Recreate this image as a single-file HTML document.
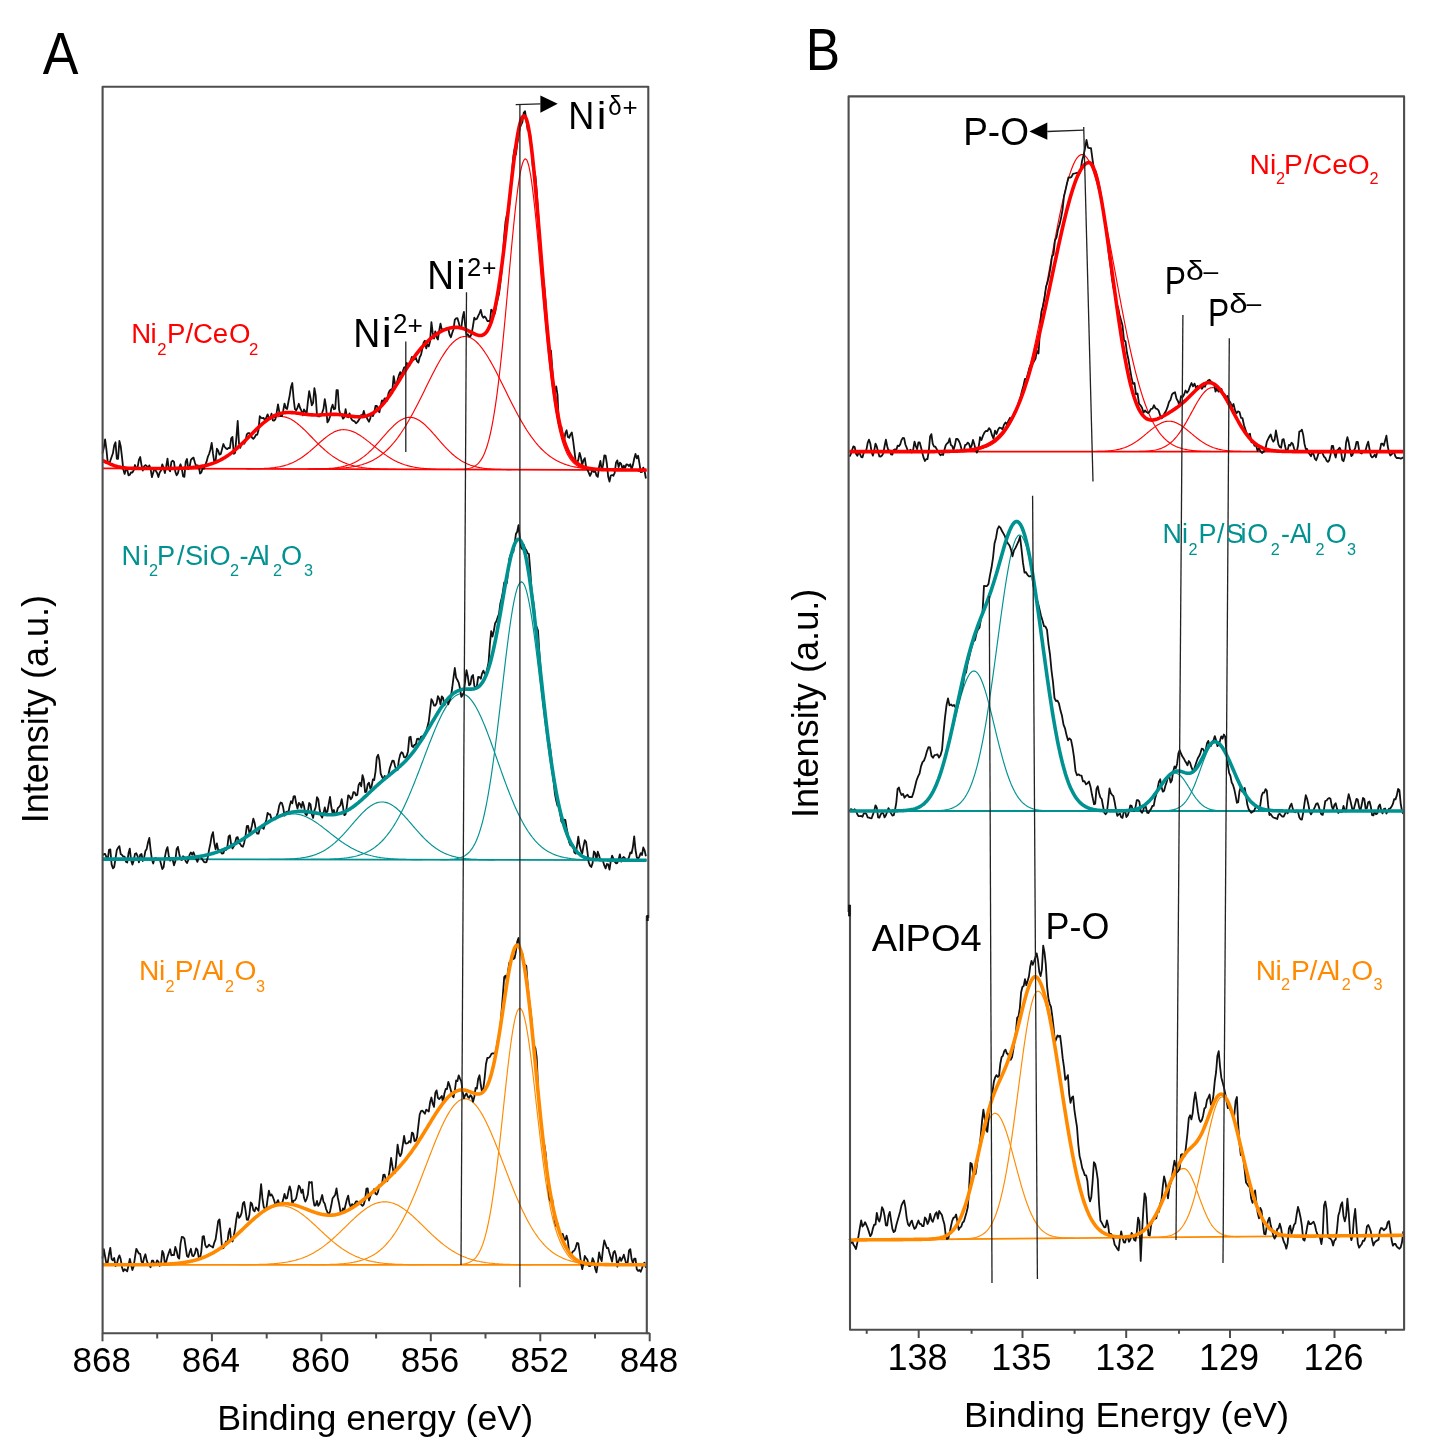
<!DOCTYPE html>
<html><head><meta charset="utf-8"><style>
html,body{margin:0;padding:0;background:#fff;width:1430px;height:1452px;overflow:hidden}
svg text{font-family:"Liberation Sans",sans-serif}
</style></head><body>
<svg width="1430" height="1452" viewBox="0 0 1430 1452" style="position:absolute;left:0;top:0;filter:blur(0.6px)">
<rect width="1430" height="1452" fill="#fff"/>
<polyline points="102.5,468.4 646.7,470.1" fill="none" stroke="#ff0000" stroke-width="1.8" stroke-linejoin="round" />
<polyline points="162.5,468.5 163.5,468.5 164.5,468.5 165.5,468.5 166.5,468.5 167.5,468.5 168.5,468.5 169.5,468.5 170.5,468.5 171.5,468.5 172.5,468.5 173.5,468.4 174.5,468.4 175.5,468.4 176.5,468.4 177.5,468.4 178.5,468.3 179.5,468.3 180.5,468.3 181.5,468.2 182.5,468.2 183.5,468.2 184.5,468.1 185.5,468.1 186.5,468.0 187.5,467.9 188.5,467.9 189.5,467.8 190.5,467.7 191.5,467.6 192.5,467.5 193.5,467.4 194.5,467.3 195.5,467.2 196.5,467.1 197.5,467.0 198.5,466.8 199.5,466.7 200.5,466.5 201.5,466.3 202.5,466.1 203.5,465.9 204.5,465.7 205.5,465.5 206.5,465.2 207.5,465.0 208.5,464.7 209.5,464.4 210.5,464.1 211.5,463.8 212.5,463.4 213.5,463.1 214.5,462.7 215.5,462.3 216.5,461.9 217.5,461.4 218.5,461.0 219.5,460.5 220.5,460.0 221.5,459.4 222.5,458.9 223.5,458.3 224.5,457.7 225.5,457.1 226.5,456.4 227.5,455.8 228.5,455.1 229.5,454.4 230.5,453.6 231.5,452.9 232.5,452.1 233.5,451.3 234.5,450.5 235.5,449.6 236.5,448.7 237.5,447.9 238.5,447.0 239.5,446.1 240.5,445.1 241.5,444.2 242.5,443.2 243.5,442.3 244.5,441.3 245.5,440.3 246.5,439.3 247.5,438.3 248.5,437.3 249.5,436.3 250.5,435.3 251.5,434.3 252.5,433.3 253.5,432.4 254.5,431.4 255.5,430.4 256.5,429.5 257.5,428.6 258.5,427.6 259.5,426.8 260.5,425.9 261.5,425.1 262.5,424.2 263.5,423.5 264.5,422.7 265.5,422.0 266.5,421.3 267.5,420.7 268.5,420.1 269.5,419.5 270.5,419.0 271.5,418.5 272.5,418.1 273.5,417.7 274.5,417.4 275.5,417.1 276.5,416.9 277.5,416.7 278.5,416.6 279.5,416.5 280.5,416.5 281.5,416.5 282.5,416.6 283.5,416.7 284.5,416.9 285.5,417.1 286.5,417.4 287.5,417.7 288.5,418.1 289.5,418.6 290.5,419.1 291.5,419.6 292.5,420.2 293.5,420.8 294.5,421.5 295.5,422.2 296.5,422.9 297.5,423.7 298.5,424.5 299.5,425.4 300.5,426.2 301.5,427.1 302.5,428.0 303.5,429.0 304.5,429.9 305.5,430.9 306.5,431.9 307.5,432.9 308.5,433.9 309.5,435.0 310.5,436.0 311.5,437.0 312.5,438.0 313.5,439.1 314.5,440.1 315.5,441.1 316.5,442.1 317.5,443.1 318.5,444.1 319.5,445.1 320.5,446.0 321.5,447.0 322.5,447.9 323.5,448.8 324.5,449.7 325.5,450.6 326.5,451.4 327.5,452.3 328.5,453.1 329.5,453.9 330.5,454.6 331.5,455.4 332.5,456.1 333.5,456.8 334.5,457.4 335.5,458.1 336.5,458.7 337.5,459.3 338.5,459.9 339.5,460.4 340.5,460.9 341.5,461.4 342.5,461.9 343.5,462.4 344.5,462.8 345.5,463.2 346.5,463.6 347.5,464.0 348.5,464.3 349.5,464.7 350.5,465.0 351.5,465.3 352.5,465.5 353.5,465.8 354.5,466.1 355.5,466.3 356.5,466.5 357.5,466.7 358.5,466.9 359.5,467.1 360.5,467.3 361.5,467.4 362.5,467.6 363.5,467.7 364.5,467.8 365.5,468.0 366.5,468.1 367.5,468.2 368.5,468.3 369.5,468.3 370.5,468.4 371.5,468.5 372.5,468.6 373.5,468.6 374.5,468.7 375.5,468.7 376.5,468.8 377.5,468.8 378.5,468.9 379.5,468.9 380.5,469.0 381.5,469.0 382.5,469.0 383.5,469.1 384.5,469.1 385.5,469.1 386.5,469.1 387.5,469.1 388.5,469.2 389.5,469.2 390.5,469.2 391.5,469.2 392.5,469.2 393.5,469.2 394.5,469.2 395.5,469.3 396.5,469.3" fill="none" stroke="#ff0000" stroke-width="1.15" stroke-linejoin="round" />
<polyline points="246.5,468.8 247.5,468.8 248.5,468.8 249.5,468.8 250.5,468.8 251.5,468.8 252.5,468.8 253.5,468.7 254.5,468.7 255.5,468.7 256.5,468.7 257.5,468.7 258.5,468.6 259.5,468.6 260.5,468.6 261.5,468.6 262.5,468.5 263.5,468.5 264.5,468.4 265.5,468.4 266.5,468.3 267.5,468.2 268.5,468.2 269.5,468.1 270.5,468.0 271.5,467.9 272.5,467.8 273.5,467.7 274.5,467.6 275.5,467.4 276.5,467.3 277.5,467.1 278.5,467.0 279.5,466.8 280.5,466.6 281.5,466.3 282.5,466.1 283.5,465.9 284.5,465.6 285.5,465.3 286.5,465.0 287.5,464.7 288.5,464.3 289.5,463.9 290.5,463.6 291.5,463.1 292.5,462.7 293.5,462.2 294.5,461.8 295.5,461.2 296.5,460.7 297.5,460.1 298.5,459.6 299.5,459.0 300.5,458.3 301.5,457.7 302.5,457.0 303.5,456.3 304.5,455.5 305.5,454.8 306.5,454.0 307.5,453.2 308.5,452.4 309.5,451.6 310.5,450.7 311.5,449.9 312.5,449.0 313.5,448.1 314.5,447.3 315.5,446.4 316.5,445.5 317.5,444.6 318.5,443.7 319.5,442.8 320.5,441.9 321.5,441.0 322.5,440.2 323.5,439.3 324.5,438.5 325.5,437.7 326.5,436.9 327.5,436.1 328.5,435.4 329.5,434.7 330.5,434.1 331.5,433.4 332.5,432.9 333.5,432.3 334.5,431.8 335.5,431.4 336.5,431.0 337.5,430.6 338.5,430.3 339.5,430.1 340.5,429.9 341.5,429.8 342.5,429.7 343.5,429.6 344.5,429.7 345.5,429.7 346.5,429.9 347.5,430.0 348.5,430.2 349.5,430.5 350.5,430.8 351.5,431.1 352.5,431.5 353.5,431.9 354.5,432.3 355.5,432.8 356.5,433.3 357.5,433.9 358.5,434.5 359.5,435.1 360.5,435.7 361.5,436.4 362.5,437.1 363.5,437.8 364.5,438.6 365.5,439.3 366.5,440.1 367.5,440.9 368.5,441.6 369.5,442.4 370.5,443.2 371.5,444.1 372.5,444.9 373.5,445.7 374.5,446.5 375.5,447.3 376.5,448.1 377.5,448.9 378.5,449.7 379.5,450.5 380.5,451.3 381.5,452.0 382.5,452.8 383.5,453.5 384.5,454.2 385.5,454.9 386.5,455.6 387.5,456.3 388.5,456.9 389.5,457.6 390.5,458.2 391.5,458.8 392.5,459.4 393.5,459.9 394.5,460.4 395.5,461.0 396.5,461.4 397.5,461.9 398.5,462.4 399.5,462.8 400.5,463.2 401.5,463.6 402.5,464.0 403.5,464.3 404.5,464.7 405.5,465.0 406.5,465.3 407.5,465.6 408.5,465.9 409.5,466.1 410.5,466.4 411.5,466.6 412.5,466.8 413.5,467.0 414.5,467.2 415.5,467.4 416.5,467.5 417.5,467.7 418.5,467.8 419.5,468.0 420.5,468.1 421.5,468.2 422.5,468.3 423.5,468.4 424.5,468.5 425.5,468.6 426.5,468.6 427.5,468.7 428.5,468.8 429.5,468.8 430.5,468.9 431.5,469.0 432.5,469.0 433.5,469.0 434.5,469.1 435.5,469.1 436.5,469.2 437.5,469.2 438.5,469.2 439.5,469.2 440.5,469.3 441.5,469.3 442.5,469.3 443.5,469.3 444.5,469.3 445.5,469.4 446.5,469.4 447.5,469.4 448.5,469.4 449.5,469.4 450.5,469.4" fill="none" stroke="#ff0000" stroke-width="1.15" stroke-linejoin="round" />
<polyline points="308.5,469.0 309.5,469.0 310.5,469.0 311.5,469.0 312.5,469.0 313.5,469.0 314.5,468.9 315.5,468.9 316.5,468.9 317.5,468.9 318.5,468.9 319.5,468.9 320.5,468.8 321.5,468.8 322.5,468.8 323.5,468.7 324.5,468.7 325.5,468.6 326.5,468.6 327.5,468.5 328.5,468.5 329.5,468.4 330.5,468.3 331.5,468.3 332.5,468.2 333.5,468.1 334.5,468.0 335.5,467.8 336.5,467.7 337.5,467.6 338.5,467.4 339.5,467.2 340.5,467.1 341.5,466.9 342.5,466.7 343.5,466.4 344.5,466.2 345.5,465.9 346.5,465.6 347.5,465.3 348.5,465.0 349.5,464.6 350.5,464.3 351.5,463.9 352.5,463.4 353.5,463.0 354.5,462.5 355.5,462.0 356.5,461.5 357.5,460.9 358.5,460.3 359.5,459.7 360.5,459.0 361.5,458.3 362.5,457.6 363.5,456.9 364.5,456.1 365.5,455.3 366.5,454.4 367.5,453.6 368.5,452.7 369.5,451.7 370.5,450.8 371.5,449.8 372.5,448.8 373.5,447.8 374.5,446.7 375.5,445.6 376.5,444.5 377.5,443.4 378.5,442.3 379.5,441.2 380.5,440.0 381.5,438.9 382.5,437.7 383.5,436.6 384.5,435.4 385.5,434.3 386.5,433.2 387.5,432.0 388.5,430.9 389.5,429.8 390.5,428.8 391.5,427.8 392.5,426.8 393.5,425.8 394.5,424.9 395.5,424.0 396.5,423.1 397.5,422.3 398.5,421.6 399.5,420.9 400.5,420.3 401.5,419.7 402.5,419.2 403.5,418.7 404.5,418.3 405.5,418.0 406.5,417.7 407.5,417.5 408.5,417.4 409.5,417.4 410.5,417.4 411.5,417.5 412.5,417.6 413.5,417.8 414.5,418.1 415.5,418.5 416.5,418.9 417.5,419.4 418.5,420.0 419.5,420.6 420.5,421.2 421.5,422.0 422.5,422.7 423.5,423.5 424.5,424.4 425.5,425.3 426.5,426.3 427.5,427.3 428.5,428.3 429.5,429.3 430.5,430.4 431.5,431.5 432.5,432.6 433.5,433.8 434.5,434.9 435.5,436.0 436.5,437.2 437.5,438.4 438.5,439.5 439.5,440.7 440.5,441.8 441.5,443.0 442.5,444.1 443.5,445.2 444.5,446.3 445.5,447.3 446.5,448.4 447.5,449.4 448.5,450.4 449.5,451.4 450.5,452.4 451.5,453.3 452.5,454.2 453.5,455.0 454.5,455.9 455.5,456.7 456.5,457.5 457.5,458.2 458.5,458.9 459.5,459.6 460.5,460.2 461.5,460.9 462.5,461.4 463.5,462.0 464.5,462.5 465.5,463.0 466.5,463.5 467.5,464.0 468.5,464.4 469.5,464.8 470.5,465.2 471.5,465.5 472.5,465.8 473.5,466.1 474.5,466.4 475.5,466.7 476.5,466.9 477.5,467.2 478.5,467.4 479.5,467.6 480.5,467.8 481.5,467.9 482.5,468.1 483.5,468.2 484.5,468.4 485.5,468.5 486.5,468.6 487.5,468.7 488.5,468.8 489.5,468.9 490.5,468.9 491.5,469.0 492.5,469.1 493.5,469.1 494.5,469.2 495.5,469.2 496.5,469.3 497.5,469.3 498.5,469.4 499.5,469.4 500.5,469.4 501.5,469.5 502.5,469.5 503.5,469.5 504.5,469.5 505.5,469.5 506.5,469.6 507.5,469.6 508.5,469.6 509.5,469.6 510.5,469.6 511.5,469.6" fill="none" stroke="#ff0000" stroke-width="1.15" stroke-linejoin="round" />
<polyline points="307.5,469.0 308.5,469.0 309.5,469.0 310.5,469.0 311.5,469.0 312.5,469.0 313.5,469.0 314.5,469.0 315.5,468.9 316.5,468.9 317.5,468.9 318.5,468.9 319.5,468.9 320.5,468.9 321.5,468.9 322.5,468.9 323.5,468.9 324.5,468.8 325.5,468.8 326.5,468.8 327.5,468.8 328.5,468.7 329.5,468.7 330.5,468.7 331.5,468.6 332.5,468.6 333.5,468.6 334.5,468.5 335.5,468.5 336.5,468.4 337.5,468.4 338.5,468.3 339.5,468.2 340.5,468.2 341.5,468.1 342.5,468.0 343.5,467.9 344.5,467.8 345.5,467.7 346.5,467.6 347.5,467.5 348.5,467.4 349.5,467.2 350.5,467.1 351.5,466.9 352.5,466.8 353.5,466.6 354.5,466.4 355.5,466.2 356.5,466.0 357.5,465.8 358.5,465.6 359.5,465.3 360.5,465.0 361.5,464.8 362.5,464.5 363.5,464.1 364.5,463.8 365.5,463.5 366.5,463.1 367.5,462.7 368.5,462.3 369.5,461.9 370.5,461.4 371.5,460.9 372.5,460.4 373.5,459.9 374.5,459.3 375.5,458.8 376.5,458.2 377.5,457.5 378.5,456.9 379.5,456.2 380.5,455.5 381.5,454.7 382.5,453.9 383.5,453.1 384.5,452.3 385.5,451.4 386.5,450.5 387.5,449.5 388.5,448.5 389.5,447.5 390.5,446.4 391.5,445.3 392.5,444.2 393.5,443.0 394.5,441.8 395.5,440.6 396.5,439.3 397.5,438.0 398.5,436.6 399.5,435.2 400.5,433.8 401.5,432.3 402.5,430.8 403.5,429.3 404.5,427.7 405.5,426.1 406.5,424.4 407.5,422.8 408.5,421.0 409.5,419.3 410.5,417.5 411.5,415.7 412.5,413.9 413.5,412.0 414.5,410.1 415.5,408.2 416.5,406.3 417.5,404.4 418.5,402.4 419.5,400.4 420.5,398.4 421.5,396.4 422.5,394.4 423.5,392.4 424.5,390.4 425.5,388.3 426.5,386.3 427.5,384.3 428.5,382.3 429.5,380.2 430.5,378.2 431.5,376.3 432.5,374.3 433.5,372.3 434.5,370.4 435.5,368.5 436.5,366.6 437.5,364.8 438.5,363.0 439.5,361.2 440.5,359.5 441.5,357.8 442.5,356.2 443.5,354.6 444.5,353.1 445.5,351.6 446.5,350.2 447.5,348.8 448.5,347.5 449.5,346.2 450.5,345.1 451.5,344.0 452.5,342.9 453.5,342.0 454.5,341.1 455.5,340.2 456.5,339.5 457.5,338.9 458.5,338.3 459.5,337.8 460.5,337.4 461.5,337.0 462.5,336.8 463.5,336.6 464.5,336.5 465.5,336.5 466.5,336.6 467.5,336.8 468.5,337.1 469.5,337.4 470.5,337.8 471.5,338.3 472.5,338.9 473.5,339.6 474.5,340.3 475.5,341.1 476.5,342.0 477.5,343.0 478.5,344.0 479.5,345.2 480.5,346.3 481.5,347.6 482.5,348.9 483.5,350.3 484.5,351.7 485.5,353.2 486.5,354.7 487.5,356.3 488.5,358.0 489.5,359.7 490.5,361.4 491.5,363.2 492.5,365.0 493.5,366.8 494.5,368.7 495.5,370.6 496.5,372.5 497.5,374.5 498.5,376.5 499.5,378.5 500.5,380.5 501.5,382.5 502.5,384.5 503.5,386.5 504.5,388.6 505.5,390.6 506.5,392.6 507.5,394.7 508.5,396.7 509.5,398.7 510.5,400.7 511.5,402.7 512.5,404.7 513.5,406.6 514.5,408.5 515.5,410.5 516.5,412.3 517.5,414.2 518.5,416.0 519.5,417.9 520.5,419.6 521.5,421.4 522.5,423.1 523.5,424.8 524.5,426.4 525.5,428.1 526.5,429.7 527.5,431.2 528.5,432.7 529.5,434.2 530.5,435.6 531.5,437.0 532.5,438.4 533.5,439.7 534.5,441.0 535.5,442.3 536.5,443.5 537.5,444.6 538.5,445.8 539.5,446.9 540.5,448.0 541.5,449.0 542.5,450.0 543.5,450.9 544.5,451.9 545.5,452.8 546.5,453.6 547.5,454.4 548.5,455.2 549.5,456.0 550.5,456.7 551.5,457.4 552.5,458.1 553.5,458.7 554.5,459.3 555.5,459.9 556.5,460.5 557.5,461.0 558.5,461.5 559.5,462.0 560.5,462.5 561.5,462.9 562.5,463.3 563.5,463.7 564.5,464.1 565.5,464.4 566.5,464.8 567.5,465.1 568.5,465.4 569.5,465.7 570.5,466.0 571.5,466.2 572.5,466.5 573.5,466.7 574.5,466.9 575.5,467.1 576.5,467.3 577.5,467.5 578.5,467.6 579.5,467.8 580.5,468.0 581.5,468.1 582.5,468.2 583.5,468.3 584.5,468.5 585.5,468.6 586.5,468.7 587.5,468.8 588.5,468.9 589.5,468.9 590.5,469.0 591.5,469.1 592.5,469.2 593.5,469.2 594.5,469.3 595.5,469.3 596.5,469.4 597.5,469.4 598.5,469.5 599.5,469.5 600.5,469.6 601.5,469.6 602.5,469.6 603.5,469.7 604.5,469.7 605.5,469.7 606.5,469.7 607.5,469.8 608.5,469.8 609.5,469.8 610.5,469.8 611.5,469.8 612.5,469.8 613.5,469.9 614.5,469.9 615.5,469.9 616.5,469.9 617.5,469.9 618.5,469.9 619.5,469.9 620.5,469.9 621.5,470.0 622.5,470.0" fill="none" stroke="#ff0000" stroke-width="1.15" stroke-linejoin="round" />
<polyline points="455.5,469.4 456.5,469.4 457.5,469.4 458.5,469.4 459.5,469.4 460.5,469.3 461.5,469.3 462.5,469.2 463.5,469.2 464.5,469.1 465.5,469.0 466.5,468.8 467.5,468.7 468.5,468.5 469.5,468.3 470.5,468.0 471.5,467.7 472.5,467.3 473.5,466.8 474.5,466.3 475.5,465.7 476.5,464.9 477.5,464.1 478.5,463.1 479.5,461.9 480.5,460.6 481.5,459.1 482.5,457.4 483.5,455.4 484.5,453.2 485.5,450.6 486.5,447.8 487.5,444.7 488.5,441.2 489.5,437.3 490.5,433.0 491.5,428.3 492.5,423.1 493.5,417.5 494.5,411.4 495.5,404.9 496.5,397.8 497.5,390.3 498.5,382.2 499.5,373.7 500.5,364.8 501.5,355.4 502.5,345.6 503.5,335.4 504.5,325.0 505.5,314.2 506.5,303.3 507.5,292.2 508.5,281.0 509.5,269.9 510.5,258.8 511.5,247.9 512.5,237.3 513.5,227.0 514.5,217.1 515.5,207.8 516.5,199.0 517.5,191.0 518.5,183.7 519.5,177.2 520.5,171.7 521.5,167.1 522.5,163.5 523.5,160.9 524.5,159.3 525.5,158.9 526.5,159.6 527.5,161.6 528.5,164.7 529.5,169.1 530.5,174.5 531.5,180.9 532.5,188.3 533.5,196.6 534.5,205.6 535.5,215.3 536.5,225.6 537.5,236.3 538.5,247.3 539.5,258.6 540.5,270.0 541.5,281.5 542.5,292.9 543.5,304.2 544.5,315.2 545.5,326.0 546.5,336.4 547.5,346.5 548.5,356.2 549.5,365.3 550.5,374.0 551.5,382.3 552.5,390.0 553.5,397.2 554.5,403.9 555.5,410.2 556.5,415.9 557.5,421.2 558.5,426.1 559.5,430.6 560.5,434.7 561.5,438.4 562.5,441.8 563.5,444.8 564.5,447.6 565.5,450.1 566.5,452.4 567.5,454.4 568.5,456.2 569.5,457.9 570.5,459.3 571.5,460.6 572.5,461.8 573.5,462.8 574.5,463.8 575.5,464.6 576.5,465.3 577.5,465.9 578.5,466.5 579.5,467.0 580.5,467.4 581.5,467.8 582.5,468.1 583.5,468.4 584.5,468.6 585.5,468.8 586.5,469.0 587.5,469.2 588.5,469.3 589.5,469.4 590.5,469.5 591.5,469.6 592.5,469.6 593.5,469.7 594.5,469.7 595.5,469.8 596.5,469.8 597.5,469.8 598.5,469.9 599.5,469.9" fill="none" stroke="#ff0000" stroke-width="1.15" stroke-linejoin="round" />

<polyline points="102.5,453.4 103.8,447.9 105.1,439.4 106.4,449.4 107.7,462.2 109.0,463.6 110.3,460.8 111.6,457.0 112.9,453.3 114.2,445.3 115.5,442.3 116.8,458.8 118.1,458.8 119.4,440.9 120.7,446.2 122.0,457.2 123.3,469.4 124.6,473.9 125.9,469.8 127.2,469.2 128.5,475.4 129.8,474.7 131.1,472.3 132.4,472.5 133.7,470.3 135.0,465.0 136.3,468.5 137.6,467.4 138.9,459.9 140.2,457.0 141.5,465.1 142.8,470.5 144.1,466.3 145.4,465.1 146.7,465.9 148.0,468.8 149.3,465.4 150.6,468.8 151.9,477.2 153.2,472.7 154.5,468.3 155.8,470.8 157.1,473.0 158.4,477.1 159.7,472.6 161.0,470.6 162.3,464.3 163.6,468.1 164.9,473.1 166.2,466.4 167.5,458.6 168.8,469.1 170.1,471.3 171.4,461.9 172.7,460.7 174.0,461.9 175.3,471.6 176.6,475.3 177.9,473.2 179.2,467.9 180.5,464.3 181.8,468.5 183.1,476.4 184.4,476.8 185.7,461.8 187.0,459.0 188.3,469.1 189.6,466.8 190.9,459.8 192.2,458.5 193.5,457.6 194.8,462.2 196.1,466.2 197.4,465.3 198.7,465.9 200.0,473.6 201.3,472.6 202.6,468.4 203.9,468.6 205.2,465.4 206.5,461.9 207.8,456.9 209.1,454.0 210.4,449.5 211.7,442.8 213.0,453.7 214.3,462.4 215.6,461.1 216.9,448.6 218.2,450.7 219.5,454.7 220.8,454.0 222.1,448.9 223.4,444.0 224.7,447.0 226.0,448.4 227.3,449.1 228.6,447.8 229.9,448.1 231.2,438.3 232.5,437.0 233.8,453.9 235.1,452.9 236.4,437.6 237.7,421.0 239.0,443.6 240.3,447.8 241.6,443.2 242.9,442.4 244.2,443.7 245.5,441.4 246.8,434.4 248.1,433.1 249.4,433.1 250.7,434.7 252.0,437.6 253.3,438.8 254.6,437.4 255.9,435.0 257.2,434.7 258.5,430.0 259.8,416.2 261.1,417.8 262.4,418.2 263.7,418.0 265.0,420.9 266.3,417.6 267.6,414.4 268.9,418.1 270.2,419.0 271.5,413.6 272.8,420.3 274.1,420.7 275.4,419.2 276.7,412.4 278.0,404.3 279.3,411.9 280.6,416.2 281.9,416.2 283.2,410.7 284.5,403.6 285.8,408.0 287.1,409.0 288.4,402.0 289.7,395.3 291.0,387.0 292.3,383.0 293.6,398.5 294.9,409.2 296.2,410.4 297.5,407.6 298.8,403.8 300.1,408.0 301.4,410.7 302.7,415.3 304.0,409.4 305.3,411.5 306.6,413.9 307.9,401.7 309.2,391.1 310.5,397.8 311.8,405.4 313.1,402.8 314.4,388.2 315.7,395.4 317.0,415.6 318.3,416.4 319.6,416.4 320.9,415.1 322.2,412.6 323.5,408.8 324.8,399.2 326.1,407.1 327.4,422.4 328.7,420.5 330.0,416.4 331.3,408.5 332.6,404.7 333.9,409.3 335.2,408.7 336.5,390.2 337.8,390.1 339.1,409.8 340.4,414.5 341.7,415.2 343.0,418.6 344.3,417.3 345.6,409.2 346.9,416.7 348.2,417.3 349.5,413.3 350.8,417.7 352.1,420.1 353.4,420.9 354.7,421.4 356.0,423.3 357.3,422.1 358.6,420.4 359.9,418.2 361.2,415.0 362.5,416.0 363.8,410.9 365.1,416.2 366.4,416.8 367.7,419.5 369.0,421.7 370.3,418.4 371.6,412.8 372.9,416.1 374.2,412.9 375.5,405.9 376.8,405.8 378.1,409.9 379.4,412.3 380.7,405.8 382.0,400.3 383.3,402.6 384.6,398.3 385.9,398.6 387.2,400.5 388.5,393.2 389.8,390.5 391.1,389.4 392.4,389.6 393.7,376.1 395.0,383.7 396.3,385.1 397.6,379.9 398.9,375.4 400.2,372.1 401.5,375.4 402.8,371.4 404.1,367.5 405.4,367.5 406.7,362.9 408.0,366.5 409.3,366.0 410.6,360.9 411.9,356.8 413.2,360.0 414.5,359.3 415.8,357.8 417.1,361.4 418.4,362.6 419.7,357.2 421.0,354.9 422.3,348.9 423.6,342.6 424.9,340.7 426.2,348.4 427.5,344.1 428.8,346.4 430.1,341.3 431.4,322.2 432.7,332.7 434.0,338.5 435.3,331.3 436.6,337.5 437.9,339.6 439.2,330.4 440.5,323.7 441.8,329.8 443.1,329.4 444.4,329.9 445.7,330.2 447.0,328.1 448.3,328.7 449.6,334.8 450.9,337.2 452.2,333.1 453.5,329.2 454.8,319.9 456.1,318.4 457.4,318.1 458.7,322.4 460.0,327.7 461.3,328.0 462.6,317.5 463.9,311.9 465.2,325.5 466.5,335.3 467.8,334.3 469.1,336.2 470.4,336.3 471.7,333.5 473.0,325.9 474.3,317.7 475.6,319.5 476.9,318.8 478.2,315.8 479.5,313.3 480.8,309.9 482.1,315.8 483.4,317.7 484.7,316.5 486.0,318.1 487.3,321.0 488.6,321.0 489.9,321.5 491.2,309.6 492.5,310.7 493.8,315.7 495.1,312.7 496.4,304.9 497.7,299.1 499.0,293.8 500.3,283.3 501.6,271.5 502.9,255.3 504.2,236.0 505.5,221.8 506.8,215.3 508.1,210.2 509.4,204.4 510.7,188.4 512.0,171.5 513.3,156.7 514.6,149.0 515.9,154.7 517.2,143.9 518.5,136.6 519.8,127.5 521.1,124.8 522.4,122.2 523.7,112.9 525.0,111.2 526.3,119.3 527.6,129.7 528.9,131.3 530.2,134.0 531.5,148.2 532.8,166.9 534.1,170.1 535.4,176.2 536.7,191.1 538.0,210.9 539.3,231.4 540.6,252.4 541.9,267.2 543.2,278.5 544.5,289.1 545.8,304.5 547.1,327.4 548.4,343.9 549.7,349.6 551.0,350.7 552.3,369.6 553.6,389.1 554.9,393.3 556.2,386.3 557.5,394.9 558.8,423.9 560.1,427.7 561.4,427.0 562.7,438.4 564.0,441.9 565.3,433.3 566.6,430.3 567.9,437.0 569.2,437.7 570.5,434.4 571.8,432.4 573.1,440.5 574.4,450.7 575.7,461.7 577.0,463.1 578.3,459.9 579.6,452.8 580.9,457.4 582.2,465.1 583.5,460.2 584.8,458.1 586.1,466.8 587.4,469.7 588.7,472.7 590.0,475.8 591.3,473.2 592.6,468.8 593.9,472.0 595.2,471.0 596.5,475.7 597.8,476.9 599.1,466.7 600.4,460.9 601.7,469.9 603.0,465.2 604.3,455.5 605.6,455.6 606.9,464.0 608.2,476.8 609.5,481.6 610.8,475.5 612.1,475.0 613.4,475.7 614.7,472.8 616.0,462.7 617.3,460.4 618.6,467.2 619.9,462.7 621.2,463.9 622.5,469.4 623.8,465.7 625.1,468.0 626.4,464.4 627.7,464.7 629.0,466.0 630.3,464.2 631.6,469.4 632.9,465.1 634.2,458.7 635.5,453.9 636.8,458.3 638.1,455.7 639.4,463.1 640.7,472.1 642.0,471.9 643.3,467.6 644.6,471.0 645.9,478.5" fill="none" stroke="#111" stroke-width="1.8" stroke-linejoin="round" />

<polyline points="102.5,460.6 103.5,461.0 104.5,461.4 105.5,461.8 106.5,462.3 107.5,462.7 108.5,463.2 109.5,463.6 110.5,464.1 111.5,464.5 112.5,464.9 113.5,465.3 114.5,465.7 115.5,466.0 116.5,466.4 117.5,466.6 118.5,466.9 119.5,467.1 120.5,467.3 121.5,467.5 122.5,467.7 123.5,467.8 124.5,467.9 125.5,468.0 126.5,468.1 127.5,468.2 128.5,468.3 129.5,468.3 130.5,468.3 131.5,468.4 132.5,468.4 133.5,468.4 134.5,468.4 135.5,468.5 136.5,468.5 137.5,468.5 138.5,468.5 139.5,468.5 140.5,468.5 141.5,468.5 142.5,468.5 143.5,468.5 144.5,468.5 145.5,468.5 146.5,468.5 147.5,468.5 148.5,468.5 149.5,468.5 150.5,468.5 151.5,468.5 152.5,468.5 153.5,468.5 154.5,468.5 155.5,468.5 156.5,468.5 157.5,468.5 158.5,468.5 159.5,468.5 160.5,468.5 161.5,468.5 162.5,468.5 163.5,468.5 164.5,468.5 165.5,468.5 166.5,468.5 167.5,468.5 168.5,468.5 169.5,468.5 170.5,468.5 171.5,468.5 172.5,468.5 173.5,468.4 174.5,468.4 175.5,468.4 176.5,468.4 177.5,468.4 178.5,468.3 179.5,468.3 180.5,468.3 181.5,468.2 182.5,468.2 183.5,468.2 184.5,468.1 185.5,468.1 186.5,468.0 187.5,467.9 188.5,467.9 189.5,467.8 190.5,467.7 191.5,467.6 192.5,467.5 193.5,467.4 194.5,467.3 195.5,467.2 196.5,467.1 197.5,467.0 198.5,466.8 199.5,466.7 200.5,466.5 201.5,466.3 202.5,466.1 203.5,465.9 204.5,465.7 205.5,465.5 206.5,465.2 207.5,465.0 208.5,464.7 209.5,464.4 210.5,464.1 211.5,463.8 212.5,463.4 213.5,463.1 214.5,462.7 215.5,462.3 216.5,461.9 217.5,461.4 218.5,461.0 219.5,460.5 220.5,460.0 221.5,459.4 222.5,458.9 223.5,458.3 224.5,457.7 225.5,457.1 226.5,456.4 227.5,455.8 228.5,455.1 229.5,454.4 230.5,453.6 231.5,452.9 232.5,452.1 233.5,451.3 234.5,450.4 235.5,449.6 236.5,448.7 237.5,447.8 238.5,446.9 239.5,446.0 240.5,445.1 241.5,444.1 242.5,443.2 243.5,442.2 244.5,441.2 245.5,440.2 246.5,439.2 247.5,438.2 248.5,437.2 249.5,436.2 250.5,435.2 251.5,434.2 252.5,433.2 253.5,432.2 254.5,431.2 255.5,430.2 256.5,429.2 257.5,428.3 258.5,427.3 259.5,426.4 260.5,425.5 261.5,424.6 262.5,423.7 263.5,422.9 264.5,422.1 265.5,421.3 266.5,420.5 267.5,419.8 268.5,419.1 269.5,418.4 270.5,417.8 271.5,417.2 272.5,416.6 273.5,416.1 274.5,415.6 275.5,415.2 276.5,414.8 277.5,414.4 278.5,414.0 279.5,413.7 280.5,413.5 281.5,413.2 282.5,413.0 283.5,412.8 284.5,412.7 285.5,412.6 286.5,412.5 287.5,412.5 288.5,412.5 289.5,412.5 290.5,412.5 291.5,412.6 292.5,412.6 293.5,412.7 294.5,412.8 295.5,412.9 296.5,413.1 297.5,413.2 298.5,413.3 299.5,413.5 300.5,413.6 301.5,413.8 302.5,413.9 303.5,414.1 304.5,414.2 305.5,414.3 306.5,414.4 307.5,414.5 308.5,414.6 309.5,414.7 310.5,414.8 311.5,414.9 312.5,414.9 313.5,415.0 314.5,415.0 315.5,415.0 316.5,415.0 317.5,415.0 318.5,415.0 319.5,415.0 320.5,414.9 321.5,414.9 322.5,414.8 323.5,414.8 324.5,414.7 325.5,414.7 326.5,414.6 327.5,414.6 328.5,414.5 329.5,414.5 330.5,414.4 331.5,414.4 332.5,414.4 333.5,414.4 334.5,414.4 335.5,414.4 336.5,414.4 337.5,414.5 338.5,414.5 339.5,414.6 340.5,414.7 341.5,414.8 342.5,414.9 343.5,415.1 344.5,415.2 345.5,415.4 346.5,415.5 347.5,415.7 348.5,415.8 349.5,416.0 350.5,416.1 351.5,416.3 352.5,416.4 353.5,416.5 354.5,416.6 355.5,416.7 356.5,416.8 357.5,416.8 358.5,416.9 359.5,416.9 360.5,416.8 361.5,416.8 362.5,416.7 363.5,416.5 364.5,416.4 365.5,416.1 366.5,415.9 367.5,415.6 368.5,415.2 369.5,414.8 370.5,414.4 371.5,413.9 372.5,413.3 373.5,412.7 374.5,412.0 375.5,411.3 376.5,410.5 377.5,409.7 378.5,408.8 379.5,407.9 380.5,406.9 381.5,405.8 382.5,404.7 383.5,403.5 384.5,402.3 385.5,401.1 386.5,399.8 387.5,398.4 388.5,397.0 389.5,395.6 390.5,394.2 391.5,392.7 392.5,391.1 393.5,389.6 394.5,388.0 395.5,386.4 396.5,384.8 397.5,383.2 398.5,381.6 399.5,380.0 400.5,378.3 401.5,376.7 402.5,375.0 403.5,373.4 404.5,371.8 405.5,370.2 406.5,368.6 407.5,367.0 408.5,365.5 409.5,363.9 410.5,362.4 411.5,360.9 412.5,359.5 413.5,358.1 414.5,356.7 415.5,355.3 416.5,353.9 417.5,352.6 418.5,351.4 419.5,350.1 420.5,348.9 421.5,347.7 422.5,346.6 423.5,345.5 424.5,344.4 425.5,343.4 426.5,342.4 427.5,341.4 428.5,340.5 429.5,339.6 430.5,338.7 431.5,337.9 432.5,337.1 433.5,336.3 434.5,335.5 435.5,334.8 436.5,334.1 437.5,333.5 438.5,332.9 439.5,332.3 440.5,331.7 441.5,331.2 442.5,330.7 443.5,330.2 444.5,329.8 445.5,329.4 446.5,329.0 447.5,328.7 448.5,328.4 449.5,328.1 450.5,327.9 451.5,327.7 452.5,327.5 453.5,327.4 454.5,327.4 455.5,327.4 456.5,327.4 457.5,327.4 458.5,327.5 459.5,327.7 460.5,327.9 461.5,328.1 462.5,328.4 463.5,328.7 464.5,329.1 465.5,329.5 466.5,329.9 467.5,330.4 468.5,330.9 469.5,331.4 470.5,331.9 471.5,332.4 472.5,332.9 473.5,333.4 474.5,333.9 475.5,334.4 476.5,334.8 477.5,335.1 478.5,335.4 479.5,335.5 480.5,335.5 481.5,335.4 482.5,335.2 483.5,334.7 484.5,334.0 485.5,333.1 486.5,332.0 487.5,330.5 488.5,328.7 489.5,326.6 490.5,324.1 491.5,321.3 492.5,318.0 493.5,314.3 494.5,310.1 495.5,305.5 496.5,300.4 497.5,294.8 498.5,288.8 499.5,282.3 500.5,275.4 501.5,268.0 502.5,260.3 503.5,252.2 504.5,243.8 505.5,235.1 506.5,226.2 507.5,217.1 508.5,208.0 509.5,198.9 510.5,189.8 511.5,180.9 512.5,172.2 513.5,163.9 514.5,155.9 515.5,148.5 516.5,141.7 517.5,135.5 518.5,130.0 519.5,125.4 520.5,121.6 521.5,118.7 522.5,116.9 523.5,116.0 524.5,116.1 525.5,117.2 526.5,119.5 527.5,123.1 528.5,127.7 529.5,133.5 530.5,140.4 531.5,148.2 532.5,157.0 533.5,166.6 534.5,176.9 535.5,187.8 536.5,199.3 537.5,211.2 538.5,223.3 539.5,235.7 540.5,248.2 541.5,260.7 542.5,273.1 543.5,285.3 544.5,297.3 545.5,309.0 546.5,320.3 547.5,331.2 548.5,341.6 549.5,351.5 550.5,361.0 551.5,369.9 552.5,378.3 553.5,386.1 554.5,393.4 555.5,400.3 556.5,406.6 557.5,412.4 558.5,417.8 559.5,422.8 560.5,427.3 561.5,431.5 562.5,435.3 563.5,438.7 564.5,441.9 565.5,444.7 566.5,447.3 567.5,449.7 568.5,451.8 569.5,453.7 570.5,455.4 571.5,457.0 572.5,458.4 573.5,459.7 574.5,460.8 575.5,461.8 576.5,462.7 577.5,463.5 578.5,464.3 579.5,464.9 580.5,465.5 581.5,466.0 582.5,466.4 583.5,466.8 584.5,467.2 585.5,467.5 586.5,467.8 587.5,468.0 588.5,468.2 589.5,468.4 590.5,468.6 591.5,468.8 592.5,468.9 593.5,469.0 594.5,469.1 595.5,469.2 596.5,469.3 597.5,469.3 598.5,469.4 599.5,469.5 600.5,469.5 601.5,469.6 602.5,469.6 603.5,469.6 604.5,469.7 605.5,469.7 606.5,469.7 607.5,469.7 608.5,469.8 609.5,469.8 610.5,469.8 611.5,469.8 612.5,469.8 613.5,469.9 614.5,469.9 615.5,469.9 616.5,469.9 617.5,469.9 618.5,469.9 619.5,469.9 620.5,469.9 621.5,470.0 622.5,470.0 623.5,470.0 624.5,470.0 625.5,470.0 626.5,470.0 627.5,470.0 628.5,470.0 629.5,470.0 630.5,470.0 631.5,470.0 632.5,470.0 633.5,470.0 634.5,470.0 635.5,470.0 636.5,470.0 637.5,470.0 638.5,470.1 639.5,470.1 640.5,470.1 641.5,470.1 642.5,470.1 643.5,470.1 644.5,470.1 645.5,470.1 646.5,470.1" fill="none" stroke="#ff0000" stroke-width="3.6" stroke-linejoin="round" />

<polyline points="102.5,859.1 646.7,860.2" fill="none" stroke="#009191" stroke-width="1.8" stroke-linejoin="round" />
<polyline points="146.5,859.1 147.5,859.1 148.5,859.1 149.5,859.1 150.5,859.1 151.5,859.1 152.5,859.1 153.5,859.1 154.5,859.1 155.5,859.1 156.5,859.1 157.5,859.1 158.5,859.1 159.5,859.1 160.5,859.0 161.5,859.0 162.5,859.0 163.5,859.0 164.5,859.0 165.5,859.0 166.5,858.9 167.5,858.9 168.5,858.9 169.5,858.9 170.5,858.8 171.5,858.8 172.5,858.8 173.5,858.7 174.5,858.7 175.5,858.7 176.5,858.6 177.5,858.6 178.5,858.5 179.5,858.5 180.5,858.4 181.5,858.4 182.5,858.3 183.5,858.2 184.5,858.2 185.5,858.1 186.5,858.0 187.5,857.9 188.5,857.8 189.5,857.7 190.5,857.6 191.5,857.5 192.5,857.4 193.5,857.3 194.5,857.2 195.5,857.1 196.5,856.9 197.5,856.8 198.5,856.6 199.5,856.5 200.5,856.3 201.5,856.1 202.5,855.9 203.5,855.7 204.5,855.5 205.5,855.3 206.5,855.1 207.5,854.8 208.5,854.6 209.5,854.4 210.5,854.1 211.5,853.8 212.5,853.5 213.5,853.2 214.5,852.9 215.5,852.6 216.5,852.3 217.5,851.9 218.5,851.6 219.5,851.2 220.5,850.8 221.5,850.4 222.5,850.0 223.5,849.6 224.5,849.2 225.5,848.7 226.5,848.3 227.5,847.8 228.5,847.3 229.5,846.8 230.5,846.3 231.5,845.8 232.5,845.2 233.5,844.7 234.5,844.1 235.5,843.6 236.5,843.0 237.5,842.4 238.5,841.8 239.5,841.2 240.5,840.6 241.5,840.0 242.5,839.3 243.5,838.7 244.5,838.0 245.5,837.4 246.5,836.7 247.5,836.0 248.5,835.4 249.5,834.7 250.5,834.0 251.5,833.3 252.5,832.6 253.5,831.9 254.5,831.3 255.5,830.6 256.5,829.9 257.5,829.2 258.5,828.5 259.5,827.8 260.5,827.2 261.5,826.5 262.5,825.9 263.5,825.2 264.5,824.6 265.5,823.9 266.5,823.3 267.5,822.7 268.5,822.1 269.5,821.5 270.5,821.0 271.5,820.4 272.5,819.9 273.5,819.4 274.5,818.9 275.5,818.4 276.5,818.0 277.5,817.5 278.5,817.1 279.5,816.7 280.5,816.4 281.5,816.0 282.5,815.7 283.5,815.4 284.5,815.2 285.5,814.9 286.5,814.7 287.5,814.5 288.5,814.4 289.5,814.2 290.5,814.1 291.5,814.0 292.5,814.0 293.5,814.0 294.5,814.0 295.5,814.0 296.5,814.1 297.5,814.3 298.5,814.4 299.5,814.6 300.5,814.8 301.5,815.1 302.5,815.4 303.5,815.8 304.5,816.1 305.5,816.5 306.5,817.0 307.5,817.4 308.5,817.9 309.5,818.4 310.5,819.0 311.5,819.5 312.5,820.1 313.5,820.8 314.5,821.4 315.5,822.0 316.5,822.7 317.5,823.4 318.5,824.1 319.5,824.9 320.5,825.6 321.5,826.3 322.5,827.1 323.5,827.9 324.5,828.7 325.5,829.4 326.5,830.2 327.5,831.0 328.5,831.8 329.5,832.6 330.5,833.4 331.5,834.2 332.5,834.9 333.5,835.7 334.5,836.5 335.5,837.3 336.5,838.0 337.5,838.8 338.5,839.5 339.5,840.2 340.5,841.0 341.5,841.7 342.5,842.4 343.5,843.0 344.5,843.7 345.5,844.4 346.5,845.0 347.5,845.6 348.5,846.2 349.5,846.8 350.5,847.4 351.5,848.0 352.5,848.5 353.5,849.0 354.5,849.5 355.5,850.0 356.5,850.5 357.5,851.0 358.5,851.4 359.5,851.8 360.5,852.3 361.5,852.6 362.5,853.0 363.5,853.4 364.5,853.7 365.5,854.1 366.5,854.4 367.5,854.7 368.5,855.0 369.5,855.3 370.5,855.5 371.5,855.8 372.5,856.0 373.5,856.3 374.5,856.5 375.5,856.7 376.5,856.9 377.5,857.1 378.5,857.2 379.5,857.4 380.5,857.6 381.5,857.7 382.5,857.8 383.5,858.0 384.5,858.1 385.5,858.2 386.5,858.3 387.5,858.4 388.5,858.5 389.5,858.6 390.5,858.7 391.5,858.8 392.5,858.8 393.5,858.9 394.5,859.0 395.5,859.0 396.5,859.1 397.5,859.1 398.5,859.2 399.5,859.2 400.5,859.3 401.5,859.3 402.5,859.3 403.5,859.4 404.5,859.4 405.5,859.4 406.5,859.5 407.5,859.5 408.5,859.5 409.5,859.5 410.5,859.5 411.5,859.6 412.5,859.6 413.5,859.6 414.5,859.6 415.5,859.6 416.5,859.6 417.5,859.6 418.5,859.7 419.5,859.7 420.5,859.7 421.5,859.7 422.5,859.7" fill="none" stroke="#009191" stroke-width="1.15" stroke-linejoin="round" />
<polyline points="269.5,859.4 270.5,859.4 271.5,859.4 272.5,859.4 273.5,859.4 274.5,859.4 275.5,859.3 276.5,859.3 277.5,859.3 278.5,859.3 279.5,859.3 280.5,859.3 281.5,859.2 282.5,859.2 283.5,859.2 284.5,859.2 285.5,859.1 286.5,859.1 287.5,859.1 288.5,859.0 289.5,859.0 290.5,858.9 291.5,858.9 292.5,858.8 293.5,858.7 294.5,858.7 295.5,858.6 296.5,858.5 297.5,858.4 298.5,858.3 299.5,858.2 300.5,858.1 301.5,857.9 302.5,857.8 303.5,857.6 304.5,857.5 305.5,857.3 306.5,857.1 307.5,856.9 308.5,856.6 309.5,856.4 310.5,856.1 311.5,855.9 312.5,855.6 313.5,855.3 314.5,854.9 315.5,854.6 316.5,854.2 317.5,853.8 318.5,853.4 319.5,852.9 320.5,852.5 321.5,852.0 322.5,851.5 323.5,850.9 324.5,850.4 325.5,849.8 326.5,849.1 327.5,848.5 328.5,847.8 329.5,847.1 330.5,846.3 331.5,845.6 332.5,844.8 333.5,843.9 334.5,843.1 335.5,842.2 336.5,841.3 337.5,840.4 338.5,839.4 339.5,838.4 340.5,837.4 341.5,836.4 342.5,835.3 343.5,834.3 344.5,833.2 345.5,832.1 346.5,830.9 347.5,829.8 348.5,828.7 349.5,827.5 350.5,826.3 351.5,825.2 352.5,824.0 353.5,822.9 354.5,821.7 355.5,820.5 356.5,819.4 357.5,818.3 358.5,817.2 359.5,816.1 360.5,815.0 361.5,813.9 362.5,812.9 363.5,811.9 364.5,811.0 365.5,810.0 366.5,809.1 367.5,808.3 368.5,807.5 369.5,806.7 370.5,806.0 371.5,805.4 372.5,804.8 373.5,804.2 374.5,803.7 375.5,803.3 376.5,802.9 377.5,802.6 378.5,802.3 379.5,802.2 380.5,802.0 381.5,802.0 382.5,802.0 383.5,802.0 384.5,802.2 385.5,802.4 386.5,802.6 387.5,802.9 388.5,803.3 389.5,803.7 390.5,804.2 391.5,804.8 392.5,805.4 393.5,806.1 394.5,806.8 395.5,807.5 396.5,808.3 397.5,809.2 398.5,810.1 399.5,811.0 400.5,812.0 401.5,813.0 402.5,814.0 403.5,815.1 404.5,816.1 405.5,817.3 406.5,818.4 407.5,819.5 408.5,820.7 409.5,821.8 410.5,823.0 411.5,824.1 412.5,825.3 413.5,826.5 414.5,827.6 415.5,828.8 416.5,829.9 417.5,831.1 418.5,832.2 419.5,833.3 420.5,834.4 421.5,835.5 422.5,836.5 423.5,837.6 424.5,838.6 425.5,839.6 426.5,840.5 427.5,841.5 428.5,842.4 429.5,843.3 430.5,844.1 431.5,845.0 432.5,845.8 433.5,846.5 434.5,847.3 435.5,848.0 436.5,848.7 437.5,849.3 438.5,850.0 439.5,850.6 440.5,851.2 441.5,851.7 442.5,852.2 443.5,852.7 444.5,853.2 445.5,853.6 446.5,854.1 447.5,854.5 448.5,854.8 449.5,855.2 450.5,855.5 451.5,855.9 452.5,856.2 453.5,856.4 454.5,856.7 455.5,856.9 456.5,857.2 457.5,857.4 458.5,857.6 459.5,857.8 460.5,857.9 461.5,858.1 462.5,858.2 463.5,858.4 464.5,858.5 465.5,858.6 466.5,858.7 467.5,858.8 468.5,858.9 469.5,859.0 470.5,859.1 471.5,859.2 472.5,859.2 473.5,859.3 474.5,859.3 475.5,859.4 476.5,859.4 477.5,859.5 478.5,859.5 479.5,859.6 480.5,859.6 481.5,859.6 482.5,859.6 483.5,859.7 484.5,859.7 485.5,859.7 486.5,859.7 487.5,859.8 488.5,859.8 489.5,859.8 490.5,859.8 491.5,859.8 492.5,859.8 493.5,859.8 494.5,859.8" fill="none" stroke="#009191" stroke-width="1.15" stroke-linejoin="round" />
<polyline points="308.5,859.5 309.5,859.5 310.5,859.5 311.5,859.4 312.5,859.4 313.5,859.4 314.5,859.4 315.5,859.4 316.5,859.4 317.5,859.4 318.5,859.4 319.5,859.4 320.5,859.4 321.5,859.4 322.5,859.3 323.5,859.3 324.5,859.3 325.5,859.3 326.5,859.2 327.5,859.2 328.5,859.2 329.5,859.2 330.5,859.1 331.5,859.1 332.5,859.0 333.5,859.0 334.5,858.9 335.5,858.9 336.5,858.8 337.5,858.8 338.5,858.7 339.5,858.6 340.5,858.5 341.5,858.4 342.5,858.3 343.5,858.2 344.5,858.1 345.5,858.0 346.5,857.9 347.5,857.7 348.5,857.6 349.5,857.4 350.5,857.3 351.5,857.1 352.5,856.9 353.5,856.7 354.5,856.5 355.5,856.2 356.5,856.0 357.5,855.7 358.5,855.4 359.5,855.1 360.5,854.8 361.5,854.4 362.5,854.0 363.5,853.7 364.5,853.2 365.5,852.8 366.5,852.3 367.5,851.8 368.5,851.3 369.5,850.8 370.5,850.2 371.5,849.6 372.5,849.0 373.5,848.3 374.5,847.6 375.5,846.8 376.5,846.0 377.5,845.2 378.5,844.4 379.5,843.5 380.5,842.5 381.5,841.6 382.5,840.5 383.5,839.5 384.5,838.4 385.5,837.2 386.5,836.0 387.5,834.7 388.5,833.4 389.5,832.1 390.5,830.7 391.5,829.3 392.5,827.8 393.5,826.2 394.5,824.6 395.5,823.0 396.5,821.3 397.5,819.5 398.5,817.7 399.5,815.8 400.5,813.9 401.5,812.0 402.5,810.0 403.5,807.9 404.5,805.8 405.5,803.7 406.5,801.5 407.5,799.2 408.5,797.0 409.5,794.6 410.5,792.3 411.5,789.9 412.5,787.4 413.5,785.0 414.5,782.5 415.5,779.9 416.5,777.4 417.5,774.8 418.5,772.2 419.5,769.6 420.5,767.0 421.5,764.3 422.5,761.7 423.5,759.1 424.5,756.4 425.5,753.8 426.5,751.1 427.5,748.5 428.5,745.9 429.5,743.3 430.5,740.7 431.5,738.2 432.5,735.7 433.5,733.2 434.5,730.8 435.5,728.4 436.5,726.1 437.5,723.8 438.5,721.6 439.5,719.4 440.5,717.3 441.5,715.2 442.5,713.3 443.5,711.4 444.5,709.6 445.5,707.9 446.5,706.2 447.5,704.7 448.5,703.2 449.5,701.9 450.5,700.6 451.5,699.4 452.5,698.4 453.5,697.4 454.5,696.6 455.5,695.9 456.5,695.2 457.5,694.7 458.5,694.3 459.5,694.0 460.5,693.9 461.5,693.8 462.5,693.9 463.5,694.1 464.5,694.4 465.5,694.9 466.5,695.5 467.5,696.2 468.5,697.0 469.5,698.0 470.5,699.1 471.5,700.3 472.5,701.6 473.5,703.1 474.5,704.6 475.5,706.3 476.5,708.0 477.5,709.9 478.5,711.8 479.5,713.9 480.5,716.0 481.5,718.2 482.5,720.5 483.5,722.9 484.5,725.3 485.5,727.8 486.5,730.3 487.5,732.9 488.5,735.6 489.5,738.2 490.5,741.0 491.5,743.7 492.5,746.5 493.5,749.3 494.5,752.1 495.5,755.0 496.5,757.8 497.5,760.6 498.5,763.5 499.5,766.3 500.5,769.1 501.5,771.9 502.5,774.7 503.5,777.5 504.5,780.2 505.5,782.9 506.5,785.6 507.5,788.2 508.5,790.8 509.5,793.4 510.5,795.9 511.5,798.4 512.5,800.8 513.5,803.1 514.5,805.5 515.5,807.7 516.5,809.9 517.5,812.1 518.5,814.2 519.5,816.2 520.5,818.2 521.5,820.1 522.5,822.0 523.5,823.8 524.5,825.6 525.5,827.3 526.5,828.9 527.5,830.5 528.5,832.0 529.5,833.4 530.5,834.9 531.5,836.2 532.5,837.5 533.5,838.7 534.5,839.9 535.5,841.1 536.5,842.1 537.5,843.2 538.5,844.2 539.5,845.1 540.5,846.0 541.5,846.9 542.5,847.7 543.5,848.5 544.5,849.2 545.5,849.9 546.5,850.5 547.5,851.2 548.5,851.8 549.5,852.3 550.5,852.8 551.5,853.3 552.5,853.8 553.5,854.2 554.5,854.6 555.5,855.0 556.5,855.4 557.5,855.7 558.5,856.0 559.5,856.3 560.5,856.6 561.5,856.9 562.5,857.1 563.5,857.3 564.5,857.6 565.5,857.8 566.5,857.9 567.5,858.1 568.5,858.3 569.5,858.4 570.5,858.5 571.5,858.7 572.5,858.8 573.5,858.9 574.5,859.0 575.5,859.1 576.5,859.2 577.5,859.3 578.5,859.3 579.5,859.4 580.5,859.5 581.5,859.5 582.5,859.6 583.5,859.6 584.5,859.7 585.5,859.7 586.5,859.7 587.5,859.8 588.5,859.8 589.5,859.8 590.5,859.9 591.5,859.9 592.5,859.9 593.5,859.9 594.5,859.9 595.5,860.0 596.5,860.0 597.5,860.0 598.5,860.0 599.5,860.0 600.5,860.0 601.5,860.0 602.5,860.0 603.5,860.0" fill="none" stroke="#009191" stroke-width="1.15" stroke-linejoin="round" />
<polyline points="440.5,859.7 441.5,859.7 442.5,859.7 443.5,859.7 444.5,859.7 445.5,859.6 446.5,859.6 447.5,859.6 448.5,859.5 449.5,859.5 450.5,859.4 451.5,859.3 452.5,859.3 453.5,859.2 454.5,859.0 455.5,858.9 456.5,858.7 457.5,858.5 458.5,858.3 459.5,858.0 460.5,857.7 461.5,857.3 462.5,856.9 463.5,856.4 464.5,855.9 465.5,855.3 466.5,854.5 467.5,853.7 468.5,852.8 469.5,851.8 470.5,850.6 471.5,849.3 472.5,847.9 473.5,846.2 474.5,844.4 475.5,842.4 476.5,840.2 477.5,837.8 478.5,835.1 479.5,832.2 480.5,829.0 481.5,825.6 482.5,821.8 483.5,817.8 484.5,813.5 485.5,808.8 486.5,803.8 487.5,798.5 488.5,792.9 489.5,786.9 490.5,780.7 491.5,774.1 492.5,767.2 493.5,760.0 494.5,752.5 495.5,744.8 496.5,736.9 497.5,728.7 498.5,720.4 499.5,711.9 500.5,703.4 501.5,694.7 502.5,686.1 503.5,677.5 504.5,668.9 505.5,660.5 506.5,652.3 507.5,644.3 508.5,636.5 509.5,629.1 510.5,622.1 511.5,615.5 512.5,609.4 513.5,603.8 514.5,598.8 515.5,594.4 516.5,590.6 517.5,587.4 518.5,585.0 519.5,583.2 520.5,582.2 521.5,581.9 522.5,582.3 523.5,583.5 524.5,585.3 525.5,587.9 526.5,591.2 527.5,595.0 528.5,599.6 529.5,604.7 530.5,610.3 531.5,616.4 532.5,623.0 533.5,630.0 534.5,637.4 535.5,645.0 536.5,653.0 537.5,661.1 538.5,669.3 539.5,677.6 540.5,686.0 541.5,694.4 542.5,702.8 543.5,711.0 544.5,719.1 545.5,727.1 546.5,734.9 547.5,742.4 548.5,749.7 549.5,756.8 550.5,763.6 551.5,770.1 552.5,776.3 553.5,782.2 554.5,787.9 555.5,793.2 556.5,798.3 557.5,803.1 558.5,807.6 559.5,811.8 560.5,815.8 561.5,819.5 562.5,823.0 563.5,826.3 564.5,829.3 565.5,832.2 566.5,834.8 567.5,837.3 568.5,839.5 569.5,841.6 570.5,843.6 571.5,845.4 572.5,847.0 573.5,848.5 574.5,849.8 575.5,851.1 576.5,852.2 577.5,853.2 578.5,854.1 579.5,854.9 580.5,855.6 581.5,856.2 582.5,856.8 583.5,857.3 584.5,857.7 585.5,858.1 586.5,858.4 587.5,858.7 588.5,858.9 589.5,859.1 590.5,859.3 591.5,859.4 592.5,859.5 593.5,859.6 594.5,859.7 595.5,859.8 596.5,859.9 597.5,859.9 598.5,859.9 599.5,860.0 600.5,860.0 601.5,860.0 602.5,860.0" fill="none" stroke="#009191" stroke-width="1.15" stroke-linejoin="round" />

<polyline points="102.5,855.3 103.8,854.2 105.1,853.8 106.4,857.1 107.7,859.8 109.0,849.9 110.3,849.4 111.6,864.4 112.9,868.3 114.2,867.0 115.5,858.7 116.8,850.2 118.1,847.7 119.4,846.1 120.7,854.1 122.0,855.0 123.3,856.6 124.6,856.7 125.9,861.8 127.2,862.5 128.5,853.3 129.8,848.6 131.1,860.3 132.4,864.6 133.7,860.6 135.0,853.9 136.3,853.3 137.6,856.2 138.9,862.4 140.2,854.7 141.5,853.9 142.8,861.0 144.1,857.8 145.4,850.9 146.7,848.9 148.0,842.5 149.3,837.9 150.6,849.8 151.9,859.5 153.2,863.5 154.5,858.5 155.8,858.0 157.1,859.8 158.4,858.7 159.7,858.8 161.0,864.0 162.3,869.1 163.6,867.2 164.9,857.1 166.2,850.3 167.5,847.2 168.8,856.0 170.1,860.7 171.4,859.0 172.7,859.8 174.0,865.3 175.3,861.4 176.6,849.3 177.9,846.9 179.2,853.7 180.5,859.3 181.8,860.0 183.1,856.3 184.4,857.4 185.7,861.2 187.0,863.1 188.3,860.0 189.6,854.6 190.9,852.5 192.2,854.7 193.5,852.2 194.8,855.9 196.1,858.8 197.4,861.9 198.7,857.4 200.0,857.0 201.3,858.0 202.6,859.7 203.9,861.9 205.2,862.4 206.5,862.1 207.8,857.2 209.1,849.6 210.4,843.5 211.7,835.9 213.0,832.2 214.3,843.0 215.6,849.3 216.9,843.4 218.2,850.1 219.5,850.2 220.8,852.2 222.1,853.7 223.4,853.2 224.7,848.9 226.0,850.0 227.3,847.4 228.6,836.5 229.9,835.3 231.2,844.8 232.5,848.5 233.8,846.4 235.1,842.5 236.4,837.7 237.7,837.2 239.0,843.3 240.3,844.1 241.6,846.2 242.9,846.7 244.2,842.7 245.5,836.1 246.8,826.2 248.1,825.8 249.4,833.0 250.7,830.7 252.0,825.4 253.3,818.6 254.6,822.7 255.9,830.3 257.2,833.7 258.5,833.7 259.8,828.8 261.1,827.1 262.4,827.4 263.7,828.8 265.0,824.1 266.3,820.0 267.6,812.8 268.9,814.3 270.2,814.5 271.5,819.0 272.8,819.5 274.1,818.8 275.4,819.3 276.7,815.9 278.0,812.2 279.3,805.4 280.6,802.5 281.9,803.1 283.2,807.6 284.5,815.7 285.8,812.2 287.1,811.6 288.4,812.5 289.7,805.9 291.0,801.2 292.3,803.4 293.6,796.3 294.9,796.2 296.2,803.5 297.5,808.6 298.8,802.9 300.1,804.1 301.4,807.7 302.7,801.8 304.0,805.9 305.3,813.8 306.6,815.2 307.9,811.6 309.2,803.0 310.5,804.4 311.8,814.2 313.1,817.9 314.4,810.6 315.7,807.0 317.0,797.1 318.3,799.3 319.6,809.5 320.9,815.3 322.2,817.6 323.5,813.1 324.8,807.4 326.1,812.8 327.4,811.6 328.7,804.2 330.0,796.8 331.3,806.8 332.6,813.2 333.9,810.0 335.2,815.0 336.5,813.2 337.8,808.2 339.1,806.8 340.4,805.2 341.7,799.1 343.0,806.6 344.3,815.2 345.6,814.2 346.9,806.0 348.2,795.3 349.5,796.3 350.8,799.2 352.1,797.5 353.4,792.1 354.7,792.4 356.0,795.4 357.3,795.0 358.6,785.2 359.9,782.7 361.2,786.3 362.5,775.1 363.8,779.5 365.1,792.2 366.4,791.7 367.7,784.3 369.0,782.6 370.3,788.5 371.6,786.3 372.9,779.3 374.2,780.0 375.5,771.6 376.8,757.3 378.1,754.8 379.4,760.3 380.7,773.6 382.0,776.7 383.3,779.1 384.6,776.0 385.9,777.2 387.2,777.6 388.5,774.2 389.8,768.2 391.1,764.3 392.4,760.6 393.7,760.8 395.0,765.9 396.3,770.0 397.6,769.8 398.9,760.1 400.2,754.6 401.5,752.2 402.8,753.3 404.1,757.2 405.4,757.5 406.7,755.9 408.0,751.4 409.3,737.3 410.6,736.7 411.9,746.2 413.2,747.0 414.5,744.8 415.8,744.5 417.1,738.9 418.4,738.6 419.7,740.8 421.0,736.9 422.3,736.2 423.6,737.9 424.9,733.5 426.2,731.2 427.5,726.4 428.8,721.2 430.1,710.4 431.4,699.1 432.7,701.5 434.0,705.6 435.3,705.5 436.6,703.3 437.9,696.1 439.2,698.6 440.5,704.2 441.8,696.4 443.1,697.9 444.4,705.4 445.7,702.6 447.0,699.0 448.3,704.3 449.6,700.5 450.9,696.7 452.2,688.0 453.5,677.7 454.8,668.0 456.1,677.6 457.4,680.0 458.7,682.6 460.0,688.5 461.3,696.9 462.6,695.2 463.9,692.5 465.2,680.3 466.5,670.2 467.8,676.3 469.1,685.4 470.4,684.3 471.7,676.5 473.0,675.0 474.3,685.7 475.6,688.1 476.9,685.9 478.2,677.0 479.5,677.1 480.8,678.7 482.1,673.4 483.4,670.6 484.7,673.8 486.0,674.4 487.3,668.4 488.6,662.2 489.9,644.2 491.2,631.1 492.5,636.6 493.8,631.0 495.1,623.3 496.4,621.3 497.7,617.2 499.0,614.1 500.3,603.6 501.6,598.4 502.9,591.9 504.2,582.5 505.5,585.4 506.8,583.1 508.1,571.9 509.4,558.5 510.7,554.5 512.0,552.1 513.3,552.0 514.6,544.1 515.9,534.0 517.2,531.7 518.5,525.2 519.8,537.4 521.1,547.4 522.4,549.3 523.7,544.7 525.0,548.4 526.3,550.2 527.6,553.3 528.9,554.1 530.2,570.0 531.5,589.1 532.8,598.6 534.1,607.6 535.4,625.1 536.7,627.0 538.0,630.6 539.3,651.6 540.6,669.1 541.9,686.0 543.2,702.2 544.5,711.6 545.8,722.7 547.1,731.4 548.4,740.8 549.7,744.8 551.0,754.8 552.3,769.6 553.6,780.6 554.9,793.9 556.2,800.6 557.5,805.7 558.8,803.7 560.1,812.3 561.4,821.5 562.7,823.1 564.0,819.7 565.3,819.8 566.6,828.0 567.9,834.7 569.2,842.5 570.5,845.4 571.8,845.0 573.1,845.3 574.4,852.6 575.7,853.6 577.0,845.8 578.3,836.6 579.6,845.8 580.9,850.6 582.2,853.7 583.5,846.1 584.8,840.2 586.1,842.1 587.4,851.7 588.7,862.3 590.0,865.6 591.3,867.0 592.6,863.1 593.9,851.5 595.2,853.1 596.5,859.5 597.8,851.7 599.1,855.5 600.4,860.4 601.7,859.5 603.0,861.0 604.3,865.4 605.6,868.4 606.9,864.0 608.2,864.4 609.5,869.6 610.8,860.9 612.1,855.7 613.4,858.6 614.7,861.7 616.0,863.3 617.3,863.0 618.6,859.4 619.9,854.3 621.2,861.7 622.5,858.2 623.8,857.0 625.1,858.4 626.4,860.4 627.7,860.0 629.0,857.2 630.3,852.5 631.6,853.3 632.9,847.0 634.2,836.3 635.5,850.0 636.8,857.5 638.1,858.7 639.4,856.6 640.7,853.1 642.0,855.0 643.3,847.5 644.6,850.4 645.9,856.2" fill="none" stroke="#111" stroke-width="1.8" stroke-linejoin="round" />

<polyline points="102.5,859.1 103.5,859.1 104.5,859.1 105.5,859.1 106.5,859.1 107.5,859.1 108.5,859.1 109.5,859.1 110.5,859.1 111.5,859.1 112.5,859.1 113.5,859.1 114.5,859.1 115.5,859.1 116.5,859.1 117.5,859.1 118.5,859.1 119.5,859.1 120.5,859.1 121.5,859.1 122.5,859.1 123.5,859.1 124.5,859.1 125.5,859.1 126.5,859.1 127.5,859.1 128.5,859.1 129.5,859.1 130.5,859.1 131.5,859.1 132.5,859.1 133.5,859.1 134.5,859.1 135.5,859.1 136.5,859.1 137.5,859.1 138.5,859.1 139.5,859.1 140.5,859.1 141.5,859.1 142.5,859.1 143.5,859.1 144.5,859.1 145.5,859.1 146.5,859.1 147.5,859.1 148.5,859.1 149.5,859.1 150.5,859.1 151.5,859.1 152.5,859.1 153.5,859.1 154.5,859.1 155.5,859.1 156.5,859.1 157.5,859.1 158.5,859.1 159.5,859.1 160.5,859.0 161.5,859.0 162.5,859.0 163.5,859.0 164.5,859.0 165.5,859.0 166.5,858.9 167.5,858.9 168.5,858.9 169.5,858.9 170.5,858.8 171.5,858.8 172.5,858.8 173.5,858.7 174.5,858.7 175.5,858.7 176.5,858.6 177.5,858.6 178.5,858.5 179.5,858.5 180.5,858.4 181.5,858.4 182.5,858.3 183.5,858.2 184.5,858.2 185.5,858.1 186.5,858.0 187.5,857.9 188.5,857.8 189.5,857.7 190.5,857.6 191.5,857.5 192.5,857.4 193.5,857.3 194.5,857.2 195.5,857.1 196.5,856.9 197.5,856.8 198.5,856.6 199.5,856.5 200.5,856.3 201.5,856.1 202.5,855.9 203.5,855.7 204.5,855.5 205.5,855.3 206.5,855.1 207.5,854.8 208.5,854.6 209.5,854.4 210.5,854.1 211.5,853.8 212.5,853.5 213.5,853.2 214.5,852.9 215.5,852.6 216.5,852.3 217.5,851.9 218.5,851.6 219.5,851.2 220.5,850.8 221.5,850.4 222.5,850.0 223.5,849.6 224.5,849.2 225.5,848.7 226.5,848.3 227.5,847.8 228.5,847.3 229.5,846.8 230.5,846.3 231.5,845.8 232.5,845.2 233.5,844.7 234.5,844.1 235.5,843.6 236.5,843.0 237.5,842.4 238.5,841.8 239.5,841.2 240.5,840.6 241.5,840.0 242.5,839.3 243.5,838.7 244.5,838.0 245.5,837.4 246.5,836.7 247.5,836.0 248.5,835.4 249.5,834.7 250.5,834.0 251.5,833.3 252.5,832.6 253.5,831.9 254.5,831.2 255.5,830.5 256.5,829.9 257.5,829.2 258.5,828.5 259.5,827.8 260.5,827.1 261.5,826.5 262.5,825.8 263.5,825.1 264.5,824.5 265.5,823.8 266.5,823.2 267.5,822.6 268.5,822.0 269.5,821.4 270.5,820.8 271.5,820.2 272.5,819.7 273.5,819.1 274.5,818.6 275.5,818.1 276.5,817.6 277.5,817.1 278.5,816.6 279.5,816.2 280.5,815.8 281.5,815.4 282.5,815.0 283.5,814.6 284.5,814.3 285.5,813.9 286.5,813.6 287.5,813.3 288.5,813.1 289.5,812.8 290.5,812.6 291.5,812.3 292.5,812.1 293.5,812.0 294.5,811.8 295.5,811.7 296.5,811.6 297.5,811.5 298.5,811.4 299.5,811.4 300.5,811.4 301.5,811.4 302.5,811.4 303.5,811.4 304.5,811.5 305.5,811.6 306.5,811.7 307.5,811.8 308.5,811.9 309.5,812.0 310.5,812.2 311.5,812.3 312.5,812.5 313.5,812.6 314.5,812.8 315.5,813.0 316.5,813.1 317.5,813.3 318.5,813.5 319.5,813.7 320.5,813.8 321.5,814.0 322.5,814.1 323.5,814.2 324.5,814.4 325.5,814.5 326.5,814.6 327.5,814.6 328.5,814.7 329.5,814.7 330.5,814.7 331.5,814.7 332.5,814.7 333.5,814.6 334.5,814.5 335.5,814.4 336.5,814.2 337.5,814.0 338.5,813.8 339.5,813.6 340.5,813.3 341.5,813.0 342.5,812.6 343.5,812.2 344.5,811.8 345.5,811.4 346.5,810.9 347.5,810.4 348.5,809.8 349.5,809.2 350.5,808.6 351.5,807.9 352.5,807.2 353.5,806.5 354.5,805.8 355.5,805.0 356.5,804.2 357.5,803.4 358.5,802.6 359.5,801.7 360.5,800.9 361.5,800.0 362.5,799.1 363.5,798.1 364.5,797.2 365.5,796.3 366.5,795.4 367.5,794.4 368.5,793.5 369.5,792.5 370.5,791.6 371.5,790.6 372.5,789.7 373.5,788.8 374.5,787.8 375.5,786.9 376.5,786.0 377.5,785.1 378.5,784.2 379.5,783.3 380.5,782.4 381.5,781.6 382.5,780.7 383.5,779.9 384.5,779.1 385.5,778.2 386.5,777.4 387.5,776.6 388.5,775.8 389.5,775.0 390.5,774.2 391.5,773.4 392.5,772.5 393.5,771.7 394.5,770.9 395.5,770.1 396.5,769.3 397.5,768.4 398.5,767.5 399.5,766.7 400.5,765.8 401.5,764.8 402.5,763.9 403.5,762.9 404.5,761.9 405.5,760.9 406.5,759.9 407.5,758.8 408.5,757.7 409.5,756.5 410.5,755.3 411.5,754.1 412.5,752.9 413.5,751.6 414.5,750.3 415.5,748.9 416.5,747.5 417.5,746.1 418.5,744.6 419.5,743.1 420.5,741.6 421.5,740.0 422.5,738.5 423.5,736.8 424.5,735.2 425.5,733.6 426.5,731.9 427.5,730.2 428.5,728.5 429.5,726.8 430.5,725.1 431.5,723.4 432.5,721.7 433.5,720.0 434.5,718.3 435.5,716.6 436.5,715.0 437.5,713.3 438.5,711.7 439.5,710.1 440.5,708.6 441.5,707.1 442.5,705.7 443.5,704.2 444.5,702.9 445.5,701.6 446.5,700.3 447.5,699.1 448.5,698.0 449.5,697.0 450.5,696.0 451.5,695.1 452.5,694.2 453.5,693.4 454.5,692.7 455.5,692.1 456.5,691.5 457.5,691.0 458.5,690.6 459.5,690.2 460.5,689.9 461.5,689.6 462.5,689.4 463.5,689.3 464.5,689.2 465.5,689.1 466.5,689.1 467.5,689.1 468.5,689.1 469.5,689.1 470.5,689.1 471.5,689.1 472.5,689.0 473.5,688.9 474.5,688.7 475.5,688.4 476.5,688.0 477.5,687.5 478.5,686.8 479.5,685.9 480.5,684.9 481.5,683.7 482.5,682.3 483.5,680.6 484.5,678.7 485.5,676.6 486.5,674.2 487.5,671.5 488.5,668.5 489.5,665.2 490.5,661.7 491.5,657.8 492.5,653.7 493.5,649.4 494.5,644.7 495.5,639.8 496.5,634.7 497.5,629.4 498.5,623.9 499.5,618.3 500.5,612.6 501.5,606.7 502.5,600.9 503.5,595.0 504.5,589.2 505.5,583.5 506.5,577.9 507.5,572.6 508.5,567.4 509.5,562.6 510.5,558.1 511.5,554.0 512.5,550.3 513.5,547.0 514.5,544.3 515.5,542.2 516.5,540.6 517.5,539.6 518.5,539.2 519.5,539.5 520.5,540.5 521.5,542.1 522.5,544.4 523.5,547.4 524.5,551.0 525.5,555.2 526.5,560.1 527.5,565.6 528.5,571.6 529.5,578.1 530.5,585.2 531.5,592.7 532.5,600.6 533.5,608.8 534.5,617.3 535.5,626.1 536.5,635.1 537.5,644.3 538.5,653.5 539.5,662.8 540.5,672.1 541.5,681.3 542.5,690.5 543.5,699.5 544.5,708.3 545.5,717.0 546.5,725.4 547.5,733.6 548.5,741.5 549.5,749.1 550.5,756.4 551.5,763.4 552.5,770.1 553.5,776.5 554.5,782.5 555.5,788.2 556.5,793.7 557.5,798.8 558.5,803.6 559.5,808.1 560.5,812.4 561.5,816.4 562.5,820.1 563.5,823.6 564.5,826.9 565.5,829.9 566.5,832.7 567.5,835.3 568.5,837.8 569.5,840.0 570.5,842.1 571.5,844.0 572.5,845.7 573.5,847.3 574.5,848.8 575.5,850.1 576.5,851.3 577.5,852.4 578.5,853.4 579.5,854.2 580.5,855.0 581.5,855.7 582.5,856.3 583.5,856.8 584.5,857.3 585.5,857.7 586.5,858.1 587.5,858.4 588.5,858.6 589.5,858.9 590.5,859.1 591.5,859.2 592.5,859.4 593.5,859.5 594.5,859.6 595.5,859.7 596.5,859.7 597.5,859.8 598.5,859.8 599.5,859.9 600.5,859.9 601.5,860.0 602.5,860.0 603.5,860.0 604.5,860.0 605.5,860.0 606.5,860.0 607.5,860.1 608.5,860.1 609.5,860.1 610.5,860.1 611.5,860.1 612.5,860.1 613.5,860.1 614.5,860.1 615.5,860.1 616.5,860.1 617.5,860.1 618.5,860.1 619.5,860.1 620.5,860.1 621.5,860.1 622.5,860.1 623.5,860.1 624.5,860.1 625.5,860.1 626.5,860.1 627.5,860.1 628.5,860.1 629.5,860.2 630.5,860.2 631.5,860.2 632.5,860.2 633.5,860.2 634.5,860.2 635.5,860.2 636.5,860.2 637.5,860.2 638.5,860.2 639.5,860.2 640.5,860.2 641.5,860.2 642.5,860.2 643.5,860.2 644.5,860.2 645.5,860.2 646.5,860.2" fill="none" stroke="#009191" stroke-width="3.6" stroke-linejoin="round" />

<polyline points="102.5,1264.8 646.7,1264.8" fill="none" stroke="#ff8a00" stroke-width="1.8" stroke-linejoin="round" />
<polyline points="138.5,1264.7 139.5,1264.7 140.5,1264.7 141.5,1264.7 142.5,1264.7 143.5,1264.7 144.5,1264.7 145.5,1264.7 146.5,1264.7 147.5,1264.7 148.5,1264.7 149.5,1264.7 150.5,1264.6 151.5,1264.6 152.5,1264.6 153.5,1264.6 154.5,1264.6 155.5,1264.5 156.5,1264.5 157.5,1264.5 158.5,1264.5 159.5,1264.4 160.5,1264.4 161.5,1264.4 162.5,1264.3 163.5,1264.3 164.5,1264.3 165.5,1264.2 166.5,1264.2 167.5,1264.1 168.5,1264.1 169.5,1264.0 170.5,1263.9 171.5,1263.9 172.5,1263.8 173.5,1263.7 174.5,1263.6 175.5,1263.5 176.5,1263.5 177.5,1263.4 178.5,1263.2 179.5,1263.1 180.5,1263.0 181.5,1262.9 182.5,1262.7 183.5,1262.6 184.5,1262.5 185.5,1262.3 186.5,1262.1 187.5,1261.9 188.5,1261.8 189.5,1261.6 190.5,1261.3 191.5,1261.1 192.5,1260.9 193.5,1260.6 194.5,1260.4 195.5,1260.1 196.5,1259.8 197.5,1259.5 198.5,1259.2 199.5,1258.9 200.5,1258.5 201.5,1258.2 202.5,1257.8 203.5,1257.4 204.5,1257.0 205.5,1256.6 206.5,1256.2 207.5,1255.7 208.5,1255.2 209.5,1254.8 210.5,1254.2 211.5,1253.7 212.5,1253.2 213.5,1252.6 214.5,1252.0 215.5,1251.4 216.5,1250.8 217.5,1250.2 218.5,1249.5 219.5,1248.9 220.5,1248.2 221.5,1247.5 222.5,1246.8 223.5,1246.0 224.5,1245.3 225.5,1244.5 226.5,1243.7 227.5,1242.9 228.5,1242.1 229.5,1241.2 230.5,1240.4 231.5,1239.5 232.5,1238.7 233.5,1237.8 234.5,1236.9 235.5,1236.0 236.5,1235.1 237.5,1234.2 238.5,1233.2 239.5,1232.3 240.5,1231.4 241.5,1230.4 242.5,1229.5 243.5,1228.5 244.5,1227.6 245.5,1226.7 246.5,1225.7 247.5,1224.8 248.5,1223.9 249.5,1223.0 250.5,1222.0 251.5,1221.1 252.5,1220.3 253.5,1219.4 254.5,1218.5 255.5,1217.7 256.5,1216.9 257.5,1216.1 258.5,1215.3 259.5,1214.5 260.5,1213.8 261.5,1213.1 262.5,1212.4 263.5,1211.7 264.5,1211.1 265.5,1210.5 266.5,1209.9 267.5,1209.4 268.5,1208.9 269.5,1208.4 270.5,1208.0 271.5,1207.6 272.5,1207.3 273.5,1206.9 274.5,1206.7 275.5,1206.4 276.5,1206.2 277.5,1206.0 278.5,1205.9 279.5,1205.8 280.5,1205.8 281.5,1205.8 282.5,1205.8 283.5,1205.9 284.5,1206.0 285.5,1206.2 286.5,1206.4 287.5,1206.7 288.5,1206.9 289.5,1207.3 290.5,1207.6 291.5,1208.0 292.5,1208.4 293.5,1208.9 294.5,1209.4 295.5,1209.9 296.5,1210.5 297.5,1211.1 298.5,1211.7 299.5,1212.4 300.5,1213.1 301.5,1213.8 302.5,1214.5 303.5,1215.3 304.5,1216.1 305.5,1216.9 306.5,1217.7 307.5,1218.5 308.5,1219.4 309.5,1220.3 310.5,1221.1 311.5,1222.0 312.5,1223.0 313.5,1223.9 314.5,1224.8 315.5,1225.7 316.5,1226.7 317.5,1227.6 318.5,1228.5 319.5,1229.5 320.5,1230.4 321.5,1231.4 322.5,1232.3 323.5,1233.2 324.5,1234.2 325.5,1235.1 326.5,1236.0 327.5,1236.9 328.5,1237.8 329.5,1238.7 330.5,1239.5 331.5,1240.4 332.5,1241.2 333.5,1242.1 334.5,1242.9 335.5,1243.7 336.5,1244.5 337.5,1245.3 338.5,1246.0 339.5,1246.8 340.5,1247.5 341.5,1248.2 342.5,1248.9 343.5,1249.5 344.5,1250.2 345.5,1250.8 346.5,1251.4 347.5,1252.0 348.5,1252.6 349.5,1253.2 350.5,1253.7 351.5,1254.2 352.5,1254.8 353.5,1255.2 354.5,1255.7 355.5,1256.2 356.5,1256.6 357.5,1257.0 358.5,1257.4 359.5,1257.8 360.5,1258.2 361.5,1258.5 362.5,1258.9 363.5,1259.2 364.5,1259.5 365.5,1259.8 366.5,1260.1 367.5,1260.4 368.5,1260.6 369.5,1260.9 370.5,1261.1 371.5,1261.3 372.5,1261.6 373.5,1261.8 374.5,1261.9 375.5,1262.1 376.5,1262.3 377.5,1262.5 378.5,1262.6 379.5,1262.7 380.5,1262.9 381.5,1263.0 382.5,1263.1 383.5,1263.2 384.5,1263.4 385.5,1263.5 386.5,1263.5 387.5,1263.6 388.5,1263.7 389.5,1263.8 390.5,1263.9 391.5,1263.9 392.5,1264.0 393.5,1264.1 394.5,1264.1 395.5,1264.2 396.5,1264.2 397.5,1264.3 398.5,1264.3 399.5,1264.3 400.5,1264.4 401.5,1264.4 402.5,1264.4 403.5,1264.5 404.5,1264.5 405.5,1264.5 406.5,1264.5 407.5,1264.6 408.5,1264.6 409.5,1264.6 410.5,1264.6 411.5,1264.6 412.5,1264.7 413.5,1264.7 414.5,1264.7 415.5,1264.7 416.5,1264.7 417.5,1264.7 418.5,1264.7 419.5,1264.7 420.5,1264.7 421.5,1264.7 422.5,1264.7 423.5,1264.7" fill="none" stroke="#ff8a00" stroke-width="1.15" stroke-linejoin="round" />
<polyline points="237.5,1264.7 238.5,1264.7 239.5,1264.7 240.5,1264.7 241.5,1264.7 242.5,1264.7 243.5,1264.7 244.5,1264.7 245.5,1264.7 246.5,1264.7 247.5,1264.7 248.5,1264.7 249.5,1264.6 250.5,1264.6 251.5,1264.6 252.5,1264.6 253.5,1264.6 254.5,1264.6 255.5,1264.5 256.5,1264.5 257.5,1264.5 258.5,1264.5 259.5,1264.4 260.5,1264.4 261.5,1264.4 262.5,1264.3 263.5,1264.3 264.5,1264.3 265.5,1264.2 266.5,1264.2 267.5,1264.1 268.5,1264.1 269.5,1264.0 270.5,1263.9 271.5,1263.9 272.5,1263.8 273.5,1263.7 274.5,1263.6 275.5,1263.6 276.5,1263.5 277.5,1263.4 278.5,1263.3 279.5,1263.1 280.5,1263.0 281.5,1262.9 282.5,1262.8 283.5,1262.6 284.5,1262.5 285.5,1262.3 286.5,1262.2 287.5,1262.0 288.5,1261.8 289.5,1261.6 290.5,1261.4 291.5,1261.2 292.5,1260.9 293.5,1260.7 294.5,1260.5 295.5,1260.2 296.5,1259.9 297.5,1259.6 298.5,1259.3 299.5,1259.0 300.5,1258.7 301.5,1258.3 302.5,1258.0 303.5,1257.6 304.5,1257.2 305.5,1256.8 306.5,1256.4 307.5,1255.9 308.5,1255.5 309.5,1255.0 310.5,1254.5 311.5,1254.0 312.5,1253.4 313.5,1252.9 314.5,1252.3 315.5,1251.7 316.5,1251.1 317.5,1250.5 318.5,1249.9 319.5,1249.2 320.5,1248.5 321.5,1247.9 322.5,1247.1 323.5,1246.4 324.5,1245.7 325.5,1244.9 326.5,1244.1 327.5,1243.3 328.5,1242.5 329.5,1241.7 330.5,1240.8 331.5,1240.0 332.5,1239.1 333.5,1238.2 334.5,1237.3 335.5,1236.4 336.5,1235.4 337.5,1234.5 338.5,1233.6 339.5,1232.6 340.5,1231.7 341.5,1230.7 342.5,1229.7 343.5,1228.7 344.5,1227.8 345.5,1226.8 346.5,1225.8 347.5,1224.8 348.5,1223.8 349.5,1222.9 350.5,1221.9 351.5,1220.9 352.5,1220.0 353.5,1219.1 354.5,1218.1 355.5,1217.2 356.5,1216.3 357.5,1215.4 358.5,1214.5 359.5,1213.7 360.5,1212.8 361.5,1212.0 362.5,1211.2 363.5,1210.5 364.5,1209.7 365.5,1209.0 366.5,1208.3 367.5,1207.6 368.5,1207.0 369.5,1206.4 370.5,1205.8 371.5,1205.3 372.5,1204.8 373.5,1204.3 374.5,1203.9 375.5,1203.5 376.5,1203.2 377.5,1202.9 378.5,1202.6 379.5,1202.4 380.5,1202.2 381.5,1202.0 382.5,1201.9 383.5,1201.8 384.5,1201.8 385.5,1201.8 386.5,1201.9 387.5,1202.0 388.5,1202.1 389.5,1202.3 390.5,1202.5 391.5,1202.8 392.5,1203.0 393.5,1203.4 394.5,1203.8 395.5,1204.2 396.5,1204.6 397.5,1205.1 398.5,1205.6 399.5,1206.2 400.5,1206.8 401.5,1207.4 402.5,1208.0 403.5,1208.7 404.5,1209.4 405.5,1210.2 406.5,1210.9 407.5,1211.7 408.5,1212.5 409.5,1213.3 410.5,1214.2 411.5,1215.0 412.5,1215.9 413.5,1216.8 414.5,1217.8 415.5,1218.7 416.5,1219.6 417.5,1220.6 418.5,1221.5 419.5,1222.5 420.5,1223.5 421.5,1224.4 422.5,1225.4 423.5,1226.4 424.5,1227.4 425.5,1228.4 426.5,1229.3 427.5,1230.3 428.5,1231.3 429.5,1232.2 430.5,1233.2 431.5,1234.1 432.5,1235.1 433.5,1236.0 434.5,1236.9 435.5,1237.8 436.5,1238.7 437.5,1239.6 438.5,1240.5 439.5,1241.3 440.5,1242.2 441.5,1243.0 442.5,1243.8 443.5,1244.6 444.5,1245.4 445.5,1246.1 446.5,1246.8 447.5,1247.6 448.5,1248.3 449.5,1249.0 450.5,1249.6 451.5,1250.3 452.5,1250.9 453.5,1251.5 454.5,1252.1 455.5,1252.7 456.5,1253.2 457.5,1253.8 458.5,1254.3 459.5,1254.8 460.5,1255.3 461.5,1255.7 462.5,1256.2 463.5,1256.6 464.5,1257.0 465.5,1257.4 466.5,1257.8 467.5,1258.2 468.5,1258.5 469.5,1258.9 470.5,1259.2 471.5,1259.5 472.5,1259.8 473.5,1260.1 474.5,1260.4 475.5,1260.6 476.5,1260.9 477.5,1261.1 478.5,1261.3 479.5,1261.5 480.5,1261.7 481.5,1261.9 482.5,1262.1 483.5,1262.3 484.5,1262.4 485.5,1262.6 486.5,1262.7 487.5,1262.8 488.5,1263.0 489.5,1263.1 490.5,1263.2 491.5,1263.3 492.5,1263.4 493.5,1263.5 494.5,1263.6 495.5,1263.7 496.5,1263.8 497.5,1263.8 498.5,1263.9 499.5,1264.0 500.5,1264.0 501.5,1264.1 502.5,1264.1 503.5,1264.2 504.5,1264.2 505.5,1264.3 506.5,1264.3 507.5,1264.4 508.5,1264.4 509.5,1264.4 510.5,1264.5 511.5,1264.5 512.5,1264.5 513.5,1264.5 514.5,1264.6 515.5,1264.6 516.5,1264.6 517.5,1264.6 518.5,1264.6 519.5,1264.6 520.5,1264.7 521.5,1264.7 522.5,1264.7 523.5,1264.7 524.5,1264.7 525.5,1264.7 526.5,1264.7 527.5,1264.7 528.5,1264.7 529.5,1264.7 530.5,1264.7 531.5,1264.7" fill="none" stroke="#ff8a00" stroke-width="1.15" stroke-linejoin="round" />
<polyline points="310.5,1264.7 311.5,1264.7 312.5,1264.7 313.5,1264.7 314.5,1264.7 315.5,1264.7 316.5,1264.7 317.5,1264.7 318.5,1264.7 319.5,1264.7 320.5,1264.7 321.5,1264.6 322.5,1264.6 323.5,1264.6 324.5,1264.6 325.5,1264.6 326.5,1264.5 327.5,1264.5 328.5,1264.5 329.5,1264.5 330.5,1264.4 331.5,1264.4 332.5,1264.4 333.5,1264.3 334.5,1264.3 335.5,1264.2 336.5,1264.2 337.5,1264.1 338.5,1264.0 339.5,1264.0 340.5,1263.9 341.5,1263.8 342.5,1263.7 343.5,1263.7 344.5,1263.6 345.5,1263.5 346.5,1263.3 347.5,1263.2 348.5,1263.1 349.5,1263.0 350.5,1262.8 351.5,1262.6 352.5,1262.5 353.5,1262.3 354.5,1262.1 355.5,1261.9 356.5,1261.7 357.5,1261.4 358.5,1261.2 359.5,1260.9 360.5,1260.6 361.5,1260.3 362.5,1260.0 363.5,1259.7 364.5,1259.3 365.5,1258.9 366.5,1258.5 367.5,1258.1 368.5,1257.6 369.5,1257.1 370.5,1256.6 371.5,1256.1 372.5,1255.5 373.5,1254.9 374.5,1254.3 375.5,1253.7 376.5,1253.0 377.5,1252.3 378.5,1251.5 379.5,1250.7 380.5,1249.9 381.5,1249.0 382.5,1248.1 383.5,1247.1 384.5,1246.1 385.5,1245.1 386.5,1244.0 387.5,1242.9 388.5,1241.7 389.5,1240.5 390.5,1239.3 391.5,1238.0 392.5,1236.6 393.5,1235.2 394.5,1233.8 395.5,1232.3 396.5,1230.7 397.5,1229.1 398.5,1227.5 399.5,1225.8 400.5,1224.0 401.5,1222.2 402.5,1220.4 403.5,1218.5 404.5,1216.5 405.5,1214.5 406.5,1212.5 407.5,1210.4 408.5,1208.2 409.5,1206.1 410.5,1203.9 411.5,1201.6 412.5,1199.3 413.5,1196.9 414.5,1194.6 415.5,1192.2 416.5,1189.7 417.5,1187.3 418.5,1184.8 419.5,1182.2 420.5,1179.7 421.5,1177.1 422.5,1174.5 423.5,1171.9 424.5,1169.3 425.5,1166.7 426.5,1164.1 427.5,1161.5 428.5,1158.9 429.5,1156.3 430.5,1153.7 431.5,1151.1 432.5,1148.6 433.5,1146.0 434.5,1143.5 435.5,1141.0 436.5,1138.6 437.5,1136.2 438.5,1133.8 439.5,1131.5 440.5,1129.2 441.5,1127.0 442.5,1124.9 443.5,1122.8 444.5,1120.7 445.5,1118.8 446.5,1116.9 447.5,1115.1 448.5,1113.4 449.5,1111.7 450.5,1110.2 451.5,1108.7 452.5,1107.3 453.5,1106.0 454.5,1104.9 455.5,1103.8 456.5,1102.8 457.5,1101.9 458.5,1101.1 459.5,1100.5 460.5,1099.9 461.5,1099.5 462.5,1099.1 463.5,1098.9 464.5,1098.8 465.5,1098.8 466.5,1098.9 467.5,1099.1 468.5,1099.5 469.5,1099.9 470.5,1100.5 471.5,1101.1 472.5,1101.9 473.5,1102.8 474.5,1103.8 475.5,1104.9 476.5,1106.0 477.5,1107.3 478.5,1108.7 479.5,1110.2 480.5,1111.7 481.5,1113.4 482.5,1115.1 483.5,1116.9 484.5,1118.8 485.5,1120.7 486.5,1122.8 487.5,1124.9 488.5,1127.0 489.5,1129.2 490.5,1131.5 491.5,1133.8 492.5,1136.2 493.5,1138.6 494.5,1141.0 495.5,1143.5 496.5,1146.0 497.5,1148.6 498.5,1151.1 499.5,1153.7 500.5,1156.3 501.5,1158.9 502.5,1161.5 503.5,1164.1 504.5,1166.7 505.5,1169.3 506.5,1171.9 507.5,1174.5 508.5,1177.1 509.5,1179.7 510.5,1182.2 511.5,1184.8 512.5,1187.3 513.5,1189.7 514.5,1192.2 515.5,1194.6 516.5,1196.9 517.5,1199.3 518.5,1201.6 519.5,1203.9 520.5,1206.1 521.5,1208.2 522.5,1210.4 523.5,1212.5 524.5,1214.5 525.5,1216.5 526.5,1218.5 527.5,1220.4 528.5,1222.2 529.5,1224.0 530.5,1225.8 531.5,1227.5 532.5,1229.1 533.5,1230.7 534.5,1232.3 535.5,1233.8 536.5,1235.2 537.5,1236.6 538.5,1238.0 539.5,1239.3 540.5,1240.5 541.5,1241.7 542.5,1242.9 543.5,1244.0 544.5,1245.1 545.5,1246.1 546.5,1247.1 547.5,1248.1 548.5,1249.0 549.5,1249.9 550.5,1250.7 551.5,1251.5 552.5,1252.3 553.5,1253.0 554.5,1253.7 555.5,1254.3 556.5,1254.9 557.5,1255.5 558.5,1256.1 559.5,1256.6 560.5,1257.1 561.5,1257.6 562.5,1258.1 563.5,1258.5 564.5,1258.9 565.5,1259.3 566.5,1259.7 567.5,1260.0 568.5,1260.3 569.5,1260.6 570.5,1260.9 571.5,1261.2 572.5,1261.4 573.5,1261.7 574.5,1261.9 575.5,1262.1 576.5,1262.3 577.5,1262.5 578.5,1262.6 579.5,1262.8 580.5,1263.0 581.5,1263.1 582.5,1263.2 583.5,1263.3 584.5,1263.5 585.5,1263.6 586.5,1263.7 587.5,1263.7 588.5,1263.8 589.5,1263.9 590.5,1264.0 591.5,1264.0 592.5,1264.1 593.5,1264.2 594.5,1264.2 595.5,1264.3 596.5,1264.3 597.5,1264.4 598.5,1264.4 599.5,1264.4 600.5,1264.5 601.5,1264.5 602.5,1264.5 603.5,1264.5 604.5,1264.6 605.5,1264.6 606.5,1264.6 607.5,1264.6 608.5,1264.6 609.5,1264.7 610.5,1264.7 611.5,1264.7 612.5,1264.7 613.5,1264.7 614.5,1264.7 615.5,1264.7 616.5,1264.7 617.5,1264.7 618.5,1264.7 619.5,1264.7" fill="none" stroke="#ff8a00" stroke-width="1.15" stroke-linejoin="round" />
<polyline points="452.5,1264.7 453.5,1264.7 454.5,1264.7 455.5,1264.7 456.5,1264.6 457.5,1264.6 458.5,1264.5 459.5,1264.5 460.5,1264.4 461.5,1264.3 462.5,1264.2 463.5,1264.0 464.5,1263.9 465.5,1263.7 466.5,1263.4 467.5,1263.1 468.5,1262.8 469.5,1262.3 470.5,1261.8 471.5,1261.3 472.5,1260.6 473.5,1259.8 474.5,1258.9 475.5,1257.8 476.5,1256.6 477.5,1255.2 478.5,1253.6 479.5,1251.8 480.5,1249.8 481.5,1247.5 482.5,1244.9 483.5,1242.0 484.5,1238.8 485.5,1235.2 486.5,1231.3 487.5,1227.0 488.5,1222.4 489.5,1217.3 490.5,1211.8 491.5,1205.9 492.5,1199.5 493.5,1192.8 494.5,1185.6 495.5,1178.1 496.5,1170.2 497.5,1161.9 498.5,1153.3 499.5,1144.5 500.5,1135.4 501.5,1126.1 502.5,1116.8 503.5,1107.3 504.5,1097.9 505.5,1088.6 506.5,1079.4 507.5,1070.5 508.5,1061.9 509.5,1053.7 510.5,1046.0 511.5,1038.8 512.5,1032.2 513.5,1026.3 514.5,1021.2 515.5,1016.9 516.5,1013.4 517.5,1010.8 518.5,1009.1 519.5,1008.3 520.5,1008.5 521.5,1009.6 522.5,1011.5 523.5,1014.3 524.5,1017.9 525.5,1022.3 526.5,1027.4 527.5,1033.2 528.5,1039.7 529.5,1046.7 530.5,1054.2 531.5,1062.2 532.5,1070.4 533.5,1079.0 534.5,1087.8 535.5,1096.7 536.5,1105.7 537.5,1114.6 538.5,1123.5 539.5,1132.3 540.5,1140.9 541.5,1149.2 542.5,1157.2 543.5,1164.9 544.5,1172.3 545.5,1179.3 546.5,1185.9 547.5,1192.2 548.5,1198.0 549.5,1203.5 550.5,1208.5 551.5,1213.2 552.5,1217.6 553.5,1221.6 554.5,1225.3 555.5,1228.8 556.5,1231.9 557.5,1234.9 558.5,1237.6 559.5,1240.1 560.5,1242.4 561.5,1244.6 562.5,1246.6 563.5,1248.5 564.5,1250.2 565.5,1251.8 566.5,1253.3 567.5,1254.7 568.5,1256.0 569.5,1257.1 570.5,1258.1 571.5,1259.1 572.5,1259.9 573.5,1260.6 574.5,1261.3 575.5,1261.9 576.5,1262.4 577.5,1262.8 578.5,1263.2 579.5,1263.5 580.5,1263.7 581.5,1263.9 582.5,1264.1 583.5,1264.3 584.5,1264.4 585.5,1264.5 586.5,1264.5 587.5,1264.6 588.5,1264.7 589.5,1264.7 590.5,1264.7 591.5,1264.7" fill="none" stroke="#ff8a00" stroke-width="1.15" stroke-linejoin="round" />

<polyline points="102.5,1258.3 103.8,1249.2 105.1,1256.5 106.4,1263.6 107.7,1262.6 109.0,1254.3 110.3,1247.8 111.6,1259.0 112.9,1260.3 114.2,1258.0 115.5,1266.1 116.8,1264.3 118.1,1258.7 119.4,1255.4 120.7,1259.1 122.0,1267.3 123.3,1271.3 124.6,1269.3 125.9,1270.1 127.2,1271.3 128.5,1265.5 129.8,1258.8 131.1,1264.8 132.4,1270.0 133.7,1266.2 135.0,1257.2 136.3,1248.8 137.6,1251.2 138.9,1253.5 140.2,1253.8 141.5,1261.6 142.8,1263.6 144.1,1257.8 145.4,1254.3 146.7,1260.4 148.0,1264.0 149.3,1265.4 150.6,1267.2 151.9,1260.6 153.2,1260.7 154.5,1264.5 155.8,1264.0 157.1,1260.4 158.4,1261.6 159.7,1265.9 161.0,1263.6 162.3,1250.9 163.6,1253.6 164.9,1264.2 166.2,1261.8 167.5,1256.8 168.8,1252.9 170.1,1249.3 171.4,1255.4 172.7,1254.8 174.0,1255.0 175.3,1247.0 176.6,1250.7 177.9,1257.1 179.2,1258.6 180.5,1243.9 181.8,1237.0 183.1,1237.2 184.4,1238.6 185.7,1247.5 187.0,1256.0 188.3,1257.0 189.6,1252.4 190.9,1248.8 192.2,1255.7 193.5,1256.2 194.8,1253.7 196.1,1248.3 197.4,1249.9 198.7,1257.2 200.0,1258.6 201.3,1251.6 202.6,1236.6 203.9,1236.1 205.2,1244.8 206.5,1247.4 207.8,1246.5 209.1,1244.6 210.4,1246.0 211.7,1246.5 213.0,1247.5 214.3,1242.6 215.6,1239.4 216.9,1230.5 218.2,1221.1 219.5,1219.4 220.8,1233.0 222.1,1248.3 223.4,1248.1 224.7,1245.1 226.0,1241.5 227.3,1243.6 228.6,1232.7 229.9,1228.4 231.2,1241.0 232.5,1241.5 233.8,1236.0 235.1,1228.7 236.4,1218.9 237.7,1212.3 239.0,1217.9 240.3,1216.5 241.6,1212.9 242.9,1203.3 244.2,1201.9 245.5,1210.2 246.8,1219.6 248.1,1219.9 249.4,1214.8 250.7,1202.5 252.0,1203.8 253.3,1210.1 254.6,1211.4 255.9,1207.3 257.2,1208.8 258.5,1210.8 259.8,1198.3 261.1,1184.1 262.4,1197.9 263.7,1206.8 265.0,1209.2 266.3,1208.9 267.6,1199.2 268.9,1190.7 270.2,1195.7 271.5,1194.4 272.8,1196.7 274.1,1200.2 275.4,1204.9 276.7,1202.9 278.0,1200.1 279.3,1203.9 280.6,1203.7 281.9,1203.8 283.2,1199.6 284.5,1194.0 285.8,1198.6 287.1,1198.2 288.4,1191.5 289.7,1186.3 291.0,1191.1 292.3,1204.8 293.6,1200.6 294.9,1200.4 296.2,1198.1 297.5,1191.7 298.8,1185.6 300.1,1187.6 301.4,1192.8 302.7,1189.5 304.0,1197.8 305.3,1201.5 306.6,1199.1 307.9,1194.5 309.2,1181.9 310.5,1182.7 311.8,1182.0 313.1,1198.3 314.4,1205.6 315.7,1205.3 317.0,1200.9 318.3,1205.9 319.6,1203.8 320.9,1199.5 322.2,1195.0 323.5,1201.8 324.8,1203.7 326.1,1209.0 327.4,1212.2 328.7,1214.5 330.0,1211.6 331.3,1205.3 332.6,1198.2 333.9,1196.6 335.2,1194.8 336.5,1188.4 337.8,1197.5 339.1,1203.6 340.4,1211.2 341.7,1212.9 343.0,1208.4 344.3,1210.2 345.6,1204.7 346.9,1199.2 348.2,1195.6 349.5,1203.8 350.8,1207.3 352.1,1204.2 353.4,1205.3 354.7,1204.1 356.0,1201.4 357.3,1201.5 358.6,1203.1 359.9,1202.7 361.2,1204.6 362.5,1205.8 363.8,1204.3 365.1,1199.8 366.4,1188.6 367.7,1188.3 369.0,1200.5 370.3,1196.5 371.6,1193.1 372.9,1192.2 374.2,1189.0 375.5,1193.7 376.8,1194.6 378.1,1191.6 379.4,1184.8 380.7,1185.2 382.0,1184.3 383.3,1174.8 384.6,1174.7 385.9,1179.8 387.2,1181.2 388.5,1177.5 389.8,1169.2 391.1,1157.9 392.4,1166.2 393.7,1173.2 395.0,1172.9 396.3,1159.9 397.6,1144.7 398.9,1153.0 400.2,1156.1 401.5,1153.3 402.8,1144.8 404.1,1136.0 405.4,1143.3 406.7,1143.5 408.0,1143.0 409.3,1141.1 410.6,1142.5 411.9,1132.6 413.2,1133.5 414.5,1141.0 415.8,1140.7 417.1,1136.9 418.4,1125.3 419.7,1114.5 421.0,1111.1 422.3,1110.7 423.6,1112.2 424.9,1113.7 426.2,1109.7 427.5,1110.6 428.8,1111.5 430.1,1102.2 431.4,1097.5 432.7,1103.7 434.0,1106.9 435.3,1093.0 436.6,1090.4 437.9,1097.8 439.2,1099.1 440.5,1097.5 441.8,1096.0 443.1,1102.9 444.4,1093.4 445.7,1088.9 447.0,1089.0 448.3,1081.9 449.6,1085.5 450.9,1090.4 452.2,1095.3 453.5,1097.3 454.8,1090.9 456.1,1080.5 457.4,1081.1 458.7,1075.4 460.0,1078.6 461.3,1081.4 462.6,1091.4 463.9,1098.3 465.2,1095.2 466.5,1093.4 467.8,1096.8 469.1,1097.9 470.4,1095.2 471.7,1096.7 473.0,1101.7 474.3,1097.0 475.6,1088.0 476.9,1088.6 478.2,1078.7 479.5,1075.3 480.8,1085.0 482.1,1092.3 483.4,1088.1 484.7,1077.3 486.0,1064.0 487.3,1058.0 488.6,1057.9 489.9,1056.9 491.2,1054.3 492.5,1053.3 493.8,1053.4 495.1,1054.0 496.4,1048.5 497.7,1040.6 499.0,1035.9 500.3,1028.1 501.6,1011.1 502.9,994.9 504.2,977.0 505.5,975.6 506.8,980.7 508.1,970.5 509.4,962.5 510.7,960.7 512.0,954.7 513.3,959.1 514.6,958.2 515.9,951.5 517.2,941.8 518.5,938.0 519.8,948.7 521.1,953.5 522.4,953.9 523.7,964.4 525.0,964.8 526.3,965.9 527.6,984.2 528.9,997.9 530.2,1008.1 531.5,1019.4 532.8,1036.4 534.1,1045.6 535.4,1048.1 536.7,1057.3 538.0,1087.3 539.3,1108.5 540.6,1118.6 541.9,1128.8 543.2,1140.0 544.5,1145.7 545.8,1154.6 547.1,1172.5 548.4,1188.5 549.7,1199.5 551.0,1201.7 552.3,1199.7 553.6,1210.2 554.9,1221.1 556.2,1225.9 557.5,1223.1 558.8,1230.0 560.1,1235.2 561.4,1235.0 562.7,1233.9 564.0,1238.2 565.3,1239.9 566.6,1235.7 567.9,1241.1 569.2,1252.7 570.5,1255.2 571.8,1253.1 573.1,1251.3 574.4,1250.5 575.7,1247.6 577.0,1243.0 578.3,1243.3 579.6,1251.9 580.9,1262.0 582.2,1269.2 583.5,1263.9 584.8,1256.0 586.1,1258.1 587.4,1259.6 588.7,1265.8 590.0,1266.1 591.3,1264.6 592.6,1258.1 593.9,1261.4 595.2,1268.7 596.5,1272.4 597.8,1263.7 599.1,1252.5 600.4,1257.8 601.7,1261.1 603.0,1248.6 604.3,1240.5 605.6,1244.3 606.9,1248.2 608.2,1247.9 609.5,1253.1 610.8,1257.3 612.1,1261.7 613.4,1252.6 614.7,1251.0 616.0,1255.4 617.3,1266.7 618.6,1261.0 619.9,1257.4 621.2,1260.9 622.5,1258.2 623.8,1254.7 625.1,1259.6 626.4,1264.5 627.7,1262.3 629.0,1250.7 630.3,1249.2 631.6,1259.0 632.9,1263.2 634.2,1258.7 635.5,1258.7 636.8,1269.3 638.1,1270.9 639.4,1270.0 640.7,1271.8 642.0,1268.2 643.3,1263.9 644.6,1262.7 645.9,1267.8" fill="none" stroke="#111" stroke-width="1.8" stroke-linejoin="round" />

<polyline points="102.5,1264.8 103.5,1264.8 104.5,1264.8 105.5,1264.8 106.5,1264.8 107.5,1264.8 108.5,1264.8 109.5,1264.8 110.5,1264.8 111.5,1264.8 112.5,1264.8 113.5,1264.8 114.5,1264.8 115.5,1264.8 116.5,1264.8 117.5,1264.8 118.5,1264.8 119.5,1264.8 120.5,1264.8 121.5,1264.8 122.5,1264.8 123.5,1264.8 124.5,1264.8 125.5,1264.8 126.5,1264.8 127.5,1264.8 128.5,1264.8 129.5,1264.8 130.5,1264.8 131.5,1264.8 132.5,1264.8 133.5,1264.8 134.5,1264.8 135.5,1264.8 136.5,1264.8 137.5,1264.8 138.5,1264.7 139.5,1264.7 140.5,1264.7 141.5,1264.7 142.5,1264.7 143.5,1264.7 144.5,1264.7 145.5,1264.7 146.5,1264.7 147.5,1264.7 148.5,1264.7 149.5,1264.7 150.5,1264.6 151.5,1264.6 152.5,1264.6 153.5,1264.6 154.5,1264.6 155.5,1264.5 156.5,1264.5 157.5,1264.5 158.5,1264.5 159.5,1264.4 160.5,1264.4 161.5,1264.4 162.5,1264.3 163.5,1264.3 164.5,1264.3 165.5,1264.2 166.5,1264.2 167.5,1264.1 168.5,1264.1 169.5,1264.0 170.5,1263.9 171.5,1263.9 172.5,1263.8 173.5,1263.7 174.5,1263.6 175.5,1263.5 176.5,1263.5 177.5,1263.4 178.5,1263.2 179.5,1263.1 180.5,1263.0 181.5,1262.9 182.5,1262.7 183.5,1262.6 184.5,1262.5 185.5,1262.3 186.5,1262.1 187.5,1261.9 188.5,1261.8 189.5,1261.6 190.5,1261.3 191.5,1261.1 192.5,1260.9 193.5,1260.6 194.5,1260.4 195.5,1260.1 196.5,1259.8 197.5,1259.5 198.5,1259.2 199.5,1258.9 200.5,1258.5 201.5,1258.2 202.5,1257.8 203.5,1257.4 204.5,1257.0 205.5,1256.6 206.5,1256.2 207.5,1255.7 208.5,1255.2 209.5,1254.7 210.5,1254.2 211.5,1253.7 212.5,1253.2 213.5,1252.6 214.5,1252.0 215.5,1251.4 216.5,1250.8 217.5,1250.2 218.5,1249.5 219.5,1248.9 220.5,1248.2 221.5,1247.5 222.5,1246.7 223.5,1246.0 224.5,1245.3 225.5,1244.5 226.5,1243.7 227.5,1242.9 228.5,1242.1 229.5,1241.2 230.5,1240.4 231.5,1239.5 232.5,1238.6 233.5,1237.8 234.5,1236.9 235.5,1235.9 236.5,1235.0 237.5,1234.1 238.5,1233.2 239.5,1232.2 240.5,1231.3 241.5,1230.4 242.5,1229.4 243.5,1228.5 244.5,1227.5 245.5,1226.6 246.5,1225.6 247.5,1224.7 248.5,1223.7 249.5,1222.8 250.5,1221.9 251.5,1221.0 252.5,1220.1 253.5,1219.2 254.5,1218.3 255.5,1217.4 256.5,1216.6 257.5,1215.8 258.5,1215.0 259.5,1214.2 260.5,1213.4 261.5,1212.6 262.5,1211.9 263.5,1211.2 264.5,1210.6 265.5,1209.9 266.5,1209.3 267.5,1208.7 268.5,1208.2 269.5,1207.6 270.5,1207.1 271.5,1206.7 272.5,1206.3 273.5,1205.9 274.5,1205.5 275.5,1205.2 276.5,1204.9 277.5,1204.6 278.5,1204.4 279.5,1204.2 280.5,1204.0 281.5,1203.9 282.5,1203.8 283.5,1203.8 284.5,1203.7 285.5,1203.7 286.5,1203.8 287.5,1203.8 288.5,1203.9 289.5,1204.1 290.5,1204.2 291.5,1204.4 292.5,1204.6 293.5,1204.8 294.5,1205.1 295.5,1205.3 296.5,1205.6 297.5,1205.9 298.5,1206.2 299.5,1206.6 300.5,1206.9 301.5,1207.3 302.5,1207.7 303.5,1208.1 304.5,1208.4 305.5,1208.8 306.5,1209.2 307.5,1209.6 308.5,1210.0 309.5,1210.4 310.5,1210.8 311.5,1211.2 312.5,1211.5 313.5,1211.9 314.5,1212.2 315.5,1212.6 316.5,1212.9 317.5,1213.2 318.5,1213.5 319.5,1213.8 320.5,1214.0 321.5,1214.3 322.5,1214.5 323.5,1214.6 324.5,1214.8 325.5,1214.9 326.5,1215.0 327.5,1215.1 328.5,1215.2 329.5,1215.2 330.5,1215.2 331.5,1215.1 332.5,1215.1 333.5,1215.0 334.5,1214.9 335.5,1214.7 336.5,1214.5 337.5,1214.3 338.5,1214.0 339.5,1213.8 340.5,1213.4 341.5,1213.1 342.5,1212.7 343.5,1212.3 344.5,1211.9 345.5,1211.5 346.5,1211.0 347.5,1210.5 348.5,1210.0 349.5,1209.4 350.5,1208.8 351.5,1208.2 352.5,1207.6 353.5,1207.0 354.5,1206.3 355.5,1205.7 356.5,1205.0 357.5,1204.3 358.5,1203.5 359.5,1202.8 360.5,1202.0 361.5,1201.3 362.5,1200.5 363.5,1199.7 364.5,1198.9 365.5,1198.1 366.5,1197.3 367.5,1196.5 368.5,1195.7 369.5,1194.8 370.5,1194.0 371.5,1193.1 372.5,1192.3 373.5,1191.4 374.5,1190.6 375.5,1189.7 376.5,1188.8 377.5,1188.0 378.5,1187.1 379.5,1186.2 380.5,1185.3 381.5,1184.4 382.5,1183.5 383.5,1182.6 384.5,1181.7 385.5,1180.8 386.5,1179.9 387.5,1178.9 388.5,1178.0 389.5,1177.0 390.5,1176.0 391.5,1175.1 392.5,1174.1 393.5,1173.1 394.5,1172.0 395.5,1171.0 396.5,1169.9 397.5,1168.9 398.5,1167.8 399.5,1166.7 400.5,1165.5 401.5,1164.4 402.5,1163.2 403.5,1162.0 404.5,1160.8 405.5,1159.6 406.5,1158.3 407.5,1157.0 408.5,1155.7 409.5,1154.4 410.5,1153.1 411.5,1151.7 412.5,1150.3 413.5,1148.8 414.5,1147.4 415.5,1145.9 416.5,1144.4 417.5,1142.9 418.5,1141.4 419.5,1139.8 420.5,1138.3 421.5,1136.7 422.5,1135.1 423.5,1133.5 424.5,1131.9 425.5,1130.2 426.5,1128.6 427.5,1127.0 428.5,1125.3 429.5,1123.7 430.5,1122.1 431.5,1120.4 432.5,1118.8 433.5,1117.2 434.5,1115.6 435.5,1114.0 436.5,1112.5 437.5,1111.0 438.5,1109.5 439.5,1108.0 440.5,1106.6 441.5,1105.2 442.5,1103.8 443.5,1102.5 444.5,1101.3 445.5,1100.1 446.5,1098.9 447.5,1097.8 448.5,1096.8 449.5,1095.8 450.5,1094.9 451.5,1094.1 452.5,1093.4 453.5,1092.7 454.5,1092.1 455.5,1091.5 456.5,1091.1 457.5,1090.7 458.5,1090.4 459.5,1090.1 460.5,1090.0 461.5,1089.9 462.5,1089.9 463.5,1090.0 464.5,1090.1 465.5,1090.3 466.5,1090.6 467.5,1090.8 468.5,1091.2 469.5,1091.5 470.5,1091.9 471.5,1092.3 472.5,1092.7 473.5,1093.1 474.5,1093.4 475.5,1093.7 476.5,1093.9 477.5,1094.0 478.5,1094.0 479.5,1093.9 480.5,1093.6 481.5,1093.1 482.5,1092.5 483.5,1091.5 484.5,1090.4 485.5,1088.9 486.5,1087.2 487.5,1085.2 488.5,1082.8 489.5,1080.0 490.5,1076.9 491.5,1073.4 492.5,1069.5 493.5,1065.3 494.5,1060.7 495.5,1055.7 496.5,1050.3 497.5,1044.7 498.5,1038.7 499.5,1032.5 500.5,1026.1 501.5,1019.5 502.5,1012.8 503.5,1006.0 504.5,999.3 505.5,992.6 506.5,986.1 507.5,979.8 508.5,973.8 509.5,968.2 510.5,963.1 511.5,958.4 512.5,954.4 513.5,951.0 514.5,948.3 515.5,946.4 516.5,945.3 517.5,945.1 518.5,945.7 519.5,947.2 520.5,949.6 521.5,952.9 522.5,957.0 523.5,961.8 524.5,967.5 525.5,973.9 526.5,981.0 527.5,988.7 528.5,997.0 529.5,1005.8 530.5,1015.1 531.5,1024.8 532.5,1034.7 533.5,1044.9 534.5,1055.2 535.5,1065.6 536.5,1076.1 537.5,1086.4 538.5,1096.7 539.5,1106.7 540.5,1116.6 541.5,1126.1 542.5,1135.3 543.5,1144.2 544.5,1152.6 545.5,1160.7 546.5,1168.3 547.5,1175.5 548.5,1182.2 549.5,1188.5 550.5,1194.4 551.5,1199.9 552.5,1205.0 553.5,1209.8 554.5,1214.2 555.5,1218.3 556.5,1222.1 557.5,1225.6 558.5,1228.9 559.5,1231.9 560.5,1234.8 561.5,1237.4 562.5,1239.9 563.5,1242.2 564.5,1244.4 565.5,1246.3 566.5,1248.2 567.5,1249.9 568.5,1251.5 569.5,1252.9 570.5,1254.2 571.5,1255.4 572.5,1256.5 573.5,1257.5 574.5,1258.4 575.5,1259.2 576.5,1259.9 577.5,1260.5 578.5,1261.0 579.5,1261.5 580.5,1261.9 581.5,1262.2 582.5,1262.5 583.5,1262.8 584.5,1263.0 585.5,1263.2 586.5,1263.4 587.5,1263.6 588.5,1263.7 589.5,1263.8 590.5,1263.9 591.5,1264.0 592.5,1264.1 593.5,1264.1 594.5,1264.2 595.5,1264.2 596.5,1264.3 597.5,1264.3 598.5,1264.4 599.5,1264.4 600.5,1264.5 601.5,1264.5 602.5,1264.5 603.5,1264.5 604.5,1264.6 605.5,1264.6 606.5,1264.6 607.5,1264.6 608.5,1264.6 609.5,1264.7 610.5,1264.7 611.5,1264.7 612.5,1264.7 613.5,1264.7 614.5,1264.7 615.5,1264.7 616.5,1264.7 617.5,1264.7 618.5,1264.7 619.5,1264.7 620.5,1264.8 621.5,1264.8 622.5,1264.8 623.5,1264.8 624.5,1264.8 625.5,1264.8 626.5,1264.8 627.5,1264.8 628.5,1264.8 629.5,1264.8 630.5,1264.8 631.5,1264.8 632.5,1264.8 633.5,1264.8 634.5,1264.8 635.5,1264.8 636.5,1264.8 637.5,1264.8 638.5,1264.8 639.5,1264.8 640.5,1264.8 641.5,1264.8 642.5,1264.8 643.5,1264.8 644.5,1264.8 645.5,1264.8 646.5,1264.8" fill="none" stroke="#ff8a00" stroke-width="3.6" stroke-linejoin="round" />

<path d="M102.6,1333.2 V86.7 H648.3 V918" fill="none" stroke="#4d4d4d" stroke-width="2.1" stroke-linejoin="round"/>
<path d="M646.8,916 V1333.2 H102.6" fill="none" stroke="#4d4d4d" stroke-width="2.1"/>
<path d="M647.5,915 V921" stroke="#111" stroke-width="2.4"/>
<path d="M646.7,1333.2 H649.7" stroke="#4d4d4d" stroke-width="2.1"/>
<path d="M102.5,1333 V1341.3" stroke="#4d4d4d" stroke-width="2"/><text transform="translate(72.50,1372.00)" font-size="35.00" fill="#000">868</text><path d="M211.9,1333 V1341.3" stroke="#4d4d4d" stroke-width="2"/><text transform="translate(181.69,1372.00)" font-size="35.00" fill="#000">864</text><path d="M321.4,1333 V1341.3" stroke="#4d4d4d" stroke-width="2"/><text transform="translate(291.31,1372.00)" font-size="35.00" fill="#000">860</text><path d="M430.8,1333 V1341.3" stroke="#4d4d4d" stroke-width="2"/><text transform="translate(400.83,1372.00)" font-size="35.00" fill="#000">856</text><path d="M540.3,1333 V1341.3" stroke="#4d4d4d" stroke-width="2"/><text transform="translate(510.38,1372.00)" font-size="35.00" fill="#000">852</text><path d="M649.7,1333 V1341.3" stroke="#4d4d4d" stroke-width="2"/><text transform="translate(619.70,1372.00)" font-size="35.00" fill="#000">848</text><path d="M157.2,1333 V1338.5" stroke="#4d4d4d" stroke-width="2"/><path d="M266.7,1333 V1338.5" stroke="#4d4d4d" stroke-width="2"/><path d="M376.1,1333 V1338.5" stroke="#4d4d4d" stroke-width="2"/><path d="M485.5,1333 V1338.5" stroke="#4d4d4d" stroke-width="2"/><path d="M595.0,1333 V1338.5" stroke="#4d4d4d" stroke-width="2"/>
<polyline points="849.5,451.6 1404.0,451.6" fill="none" stroke="#ff0000" stroke-width="1.8" stroke-linejoin="round" />
<polyline points="944.5,451.5 945.5,451.5 946.5,451.5 947.5,451.5 948.5,451.5 949.5,451.5 950.5,451.5 951.5,451.5 952.5,451.5 953.5,451.4 954.5,451.4 955.5,451.4 956.5,451.4 957.5,451.4 958.5,451.3 959.5,451.3 960.5,451.3 961.5,451.2 962.5,451.2 963.5,451.1 964.5,451.1 965.5,451.0 966.5,451.0 967.5,450.9 968.5,450.8 969.5,450.7 970.5,450.6 971.5,450.5 972.5,450.4 973.5,450.3 974.5,450.1 975.5,450.0 976.5,449.8 977.5,449.6 978.5,449.4 979.5,449.2 980.5,449.0 981.5,448.7 982.5,448.4 983.5,448.1 984.5,447.8 985.5,447.5 986.5,447.1 987.5,446.7 988.5,446.2 989.5,445.8 990.5,445.2 991.5,444.7 992.5,444.1 993.5,443.5 994.5,442.8 995.5,442.0 996.5,441.2 997.5,440.4 998.5,439.5 999.5,438.6 1000.5,437.5 1001.5,436.4 1002.5,435.3 1003.5,434.1 1004.5,432.8 1005.5,431.4 1006.5,429.9 1007.5,428.4 1008.5,426.7 1009.5,425.0 1010.5,423.2 1011.5,421.3 1012.5,419.3 1013.5,417.2 1014.5,414.9 1015.5,412.6 1016.5,410.2 1017.5,407.6 1018.5,405.0 1019.5,402.2 1020.5,399.3 1021.5,396.3 1022.5,393.1 1023.5,389.9 1024.5,386.5 1025.5,383.0 1026.5,379.4 1027.5,375.7 1028.5,371.8 1029.5,367.8 1030.5,363.7 1031.5,359.5 1032.5,355.2 1033.5,350.7 1034.5,346.2 1035.5,341.5 1036.5,336.8 1037.5,332.0 1038.5,327.0 1039.5,322.0 1040.5,316.9 1041.5,311.7 1042.5,306.5 1043.5,301.2 1044.5,295.9 1045.5,290.5 1046.5,285.1 1047.5,279.6 1048.5,274.2 1049.5,268.7 1050.5,263.3 1051.5,257.8 1052.5,252.4 1053.5,247.1 1054.5,241.7 1055.5,236.5 1056.5,231.3 1057.5,226.1 1058.5,221.1 1059.5,216.2 1060.5,211.4 1061.5,206.7 1062.5,202.2 1063.5,197.8 1064.5,193.6 1065.5,189.5 1066.5,185.6 1067.5,181.9 1068.5,178.4 1069.5,175.2 1070.5,172.1 1071.5,169.3 1072.5,166.7 1073.5,164.3 1074.5,162.2 1075.5,160.3 1076.5,158.7 1077.5,157.3 1078.5,156.3 1079.5,155.5 1080.5,154.9 1081.5,154.6 1082.5,154.6 1083.5,154.9 1084.5,155.5 1085.5,156.3 1086.5,157.3 1087.5,158.7 1088.5,160.3 1089.5,162.2 1090.5,164.3 1091.5,166.7 1092.5,169.3 1093.5,172.1 1094.5,175.2 1095.5,178.4 1096.5,181.9 1097.5,185.6 1098.5,189.5 1099.5,193.6 1100.5,197.8 1101.5,202.2 1102.5,206.7 1103.5,211.4 1104.5,216.2 1105.5,221.1 1106.5,226.1 1107.5,231.3 1108.5,236.5 1109.5,241.7 1110.5,247.1 1111.5,252.4 1112.5,257.8 1113.5,263.3 1114.5,268.7 1115.5,274.2 1116.5,279.6 1117.5,285.1 1118.5,290.5 1119.5,295.9 1120.5,301.2 1121.5,306.5 1122.5,311.7 1123.5,316.9 1124.5,322.0 1125.5,327.0 1126.5,332.0 1127.5,336.8 1128.5,341.5 1129.5,346.2 1130.5,350.7 1131.5,355.2 1132.5,359.5 1133.5,363.7 1134.5,367.8 1135.5,371.8 1136.5,375.7 1137.5,379.4 1138.5,383.0 1139.5,386.5 1140.5,389.9 1141.5,393.1 1142.5,396.3 1143.5,399.3 1144.5,402.2 1145.5,405.0 1146.5,407.6 1147.5,410.2 1148.5,412.6 1149.5,414.9 1150.5,417.2 1151.5,419.3 1152.5,421.3 1153.5,423.2 1154.5,425.0 1155.5,426.7 1156.5,428.4 1157.5,429.9 1158.5,431.4 1159.5,432.8 1160.5,434.1 1161.5,435.3 1162.5,436.4 1163.5,437.5 1164.5,438.6 1165.5,439.5 1166.5,440.4 1167.5,441.2 1168.5,442.0 1169.5,442.8 1170.5,443.5 1171.5,444.1 1172.5,444.7 1173.5,445.2 1174.5,445.8 1175.5,446.2 1176.5,446.7 1177.5,447.1 1178.5,447.5 1179.5,447.8 1180.5,448.1 1181.5,448.4 1182.5,448.7 1183.5,449.0 1184.5,449.2 1185.5,449.4 1186.5,449.6 1187.5,449.8 1188.5,450.0 1189.5,450.1 1190.5,450.3 1191.5,450.4 1192.5,450.5 1193.5,450.6 1194.5,450.7 1195.5,450.8 1196.5,450.9 1197.5,451.0 1198.5,451.0 1199.5,451.1 1200.5,451.1 1201.5,451.2 1202.5,451.2 1203.5,451.3 1204.5,451.3 1205.5,451.3 1206.5,451.4 1207.5,451.4 1208.5,451.4 1209.5,451.4 1210.5,451.4 1211.5,451.5 1212.5,451.5 1213.5,451.5 1214.5,451.5 1215.5,451.5 1216.5,451.5 1217.5,451.5 1218.5,451.5 1219.5,451.5" fill="none" stroke="#ff0000" stroke-width="1.15" stroke-linejoin="round" />
<polyline points="1090.5,451.5 1091.5,451.5 1092.5,451.5 1093.5,451.5 1094.5,451.5 1095.5,451.5 1096.5,451.5 1097.5,451.4 1098.5,451.4 1099.5,451.4 1100.5,451.4 1101.5,451.3 1102.5,451.3 1103.5,451.2 1104.5,451.2 1105.5,451.1 1106.5,451.1 1107.5,451.0 1108.5,450.9 1109.5,450.8 1110.5,450.7 1111.5,450.6 1112.5,450.5 1113.5,450.3 1114.5,450.2 1115.5,450.0 1116.5,449.8 1117.5,449.6 1118.5,449.4 1119.5,449.2 1120.5,448.9 1121.5,448.6 1122.5,448.3 1123.5,448.0 1124.5,447.7 1125.5,447.3 1126.5,446.9 1127.5,446.5 1128.5,446.0 1129.5,445.5 1130.5,445.0 1131.5,444.5 1132.5,443.9 1133.5,443.3 1134.5,442.7 1135.5,442.1 1136.5,441.4 1137.5,440.7 1138.5,440.0 1139.5,439.2 1140.5,438.5 1141.5,437.7 1142.5,436.9 1143.5,436.1 1144.5,435.2 1145.5,434.4 1146.5,433.6 1147.5,432.7 1148.5,431.9 1149.5,431.1 1150.5,430.3 1151.5,429.4 1152.5,428.7 1153.5,427.9 1154.5,427.1 1155.5,426.4 1156.5,425.7 1157.5,425.1 1158.5,424.5 1159.5,423.9 1160.5,423.4 1161.5,422.9 1162.5,422.5 1163.5,422.1 1164.5,421.8 1165.5,421.6 1166.5,421.4 1167.5,421.3 1168.5,421.2 1169.5,421.2 1170.5,421.3 1171.5,421.4 1172.5,421.6 1173.5,421.8 1174.5,422.1 1175.5,422.5 1176.5,422.9 1177.5,423.4 1178.5,423.9 1179.5,424.5 1180.5,425.1 1181.5,425.7 1182.5,426.4 1183.5,427.1 1184.5,427.9 1185.5,428.7 1186.5,429.4 1187.5,430.3 1188.5,431.1 1189.5,431.9 1190.5,432.7 1191.5,433.6 1192.5,434.4 1193.5,435.2 1194.5,436.1 1195.5,436.9 1196.5,437.7 1197.5,438.5 1198.5,439.2 1199.5,440.0 1200.5,440.7 1201.5,441.4 1202.5,442.1 1203.5,442.7 1204.5,443.3 1205.5,443.9 1206.5,444.5 1207.5,445.0 1208.5,445.5 1209.5,446.0 1210.5,446.5 1211.5,446.9 1212.5,447.3 1213.5,447.7 1214.5,448.0 1215.5,448.3 1216.5,448.6 1217.5,448.9 1218.5,449.2 1219.5,449.4 1220.5,449.6 1221.5,449.8 1222.5,450.0 1223.5,450.2 1224.5,450.3 1225.5,450.5 1226.5,450.6 1227.5,450.7 1228.5,450.8 1229.5,450.9 1230.5,451.0 1231.5,451.1 1232.5,451.1 1233.5,451.2 1234.5,451.2 1235.5,451.3 1236.5,451.3 1237.5,451.4 1238.5,451.4 1239.5,451.4 1240.5,451.4 1241.5,451.5 1242.5,451.5 1243.5,451.5 1244.5,451.5 1245.5,451.5 1246.5,451.5 1247.5,451.5" fill="none" stroke="#ff0000" stroke-width="1.15" stroke-linejoin="round" />
<polyline points="1133.5,451.5 1134.5,451.5 1135.5,451.5 1136.5,451.5 1137.5,451.5 1138.5,451.5 1139.5,451.4 1140.5,451.4 1141.5,451.4 1142.5,451.3 1143.5,451.3 1144.5,451.3 1145.5,451.2 1146.5,451.1 1147.5,451.1 1148.5,451.0 1149.5,450.9 1150.5,450.8 1151.5,450.6 1152.5,450.5 1153.5,450.3 1154.5,450.2 1155.5,450.0 1156.5,449.7 1157.5,449.5 1158.5,449.2 1159.5,448.9 1160.5,448.6 1161.5,448.2 1162.5,447.8 1163.5,447.3 1164.5,446.9 1165.5,446.3 1166.5,445.7 1167.5,445.1 1168.5,444.4 1169.5,443.7 1170.5,442.9 1171.5,442.0 1172.5,441.1 1173.5,440.1 1174.5,439.0 1175.5,437.9 1176.5,436.8 1177.5,435.5 1178.5,434.2 1179.5,432.8 1180.5,431.4 1181.5,429.9 1182.5,428.4 1183.5,426.8 1184.5,425.1 1185.5,423.4 1186.5,421.7 1187.5,419.9 1188.5,418.1 1189.5,416.3 1190.5,414.4 1191.5,412.6 1192.5,410.8 1193.5,408.9 1194.5,407.1 1195.5,405.3 1196.5,403.5 1197.5,401.8 1198.5,400.2 1199.5,398.6 1200.5,397.1 1201.5,395.7 1202.5,394.3 1203.5,393.1 1204.5,392.0 1205.5,391.0 1206.5,390.1 1207.5,389.3 1208.5,388.7 1209.5,388.2 1210.5,387.9 1211.5,387.7 1212.5,387.6 1213.5,387.7 1214.5,387.9 1215.5,388.3 1216.5,388.8 1217.5,389.5 1218.5,390.2 1219.5,391.2 1220.5,392.2 1221.5,393.3 1222.5,394.6 1223.5,395.9 1224.5,397.4 1225.5,398.9 1226.5,400.5 1227.5,402.2 1228.5,403.9 1229.5,405.7 1230.5,407.5 1231.5,409.3 1232.5,411.1 1233.5,413.0 1234.5,414.8 1235.5,416.7 1236.5,418.5 1237.5,420.3 1238.5,422.0 1239.5,423.8 1240.5,425.5 1241.5,427.1 1242.5,428.7 1243.5,430.2 1244.5,431.7 1245.5,433.1 1246.5,434.5 1247.5,435.8 1248.5,437.0 1249.5,438.2 1250.5,439.3 1251.5,440.3 1252.5,441.3 1253.5,442.2 1254.5,443.0 1255.5,443.8 1256.5,444.5 1257.5,445.2 1258.5,445.8 1259.5,446.4 1260.5,447.0 1261.5,447.4 1262.5,447.9 1263.5,448.3 1264.5,448.7 1265.5,449.0 1266.5,449.3 1267.5,449.6 1268.5,449.8 1269.5,450.0 1270.5,450.2 1271.5,450.4 1272.5,450.5 1273.5,450.7 1274.5,450.8 1275.5,450.9 1276.5,451.0 1277.5,451.1 1278.5,451.1 1279.5,451.2 1280.5,451.3 1281.5,451.3 1282.5,451.4 1283.5,451.4 1284.5,451.4 1285.5,451.5 1286.5,451.5 1287.5,451.5 1288.5,451.5 1289.5,451.5 1290.5,451.5 1291.5,451.5" fill="none" stroke="#ff0000" stroke-width="1.15" stroke-linejoin="round" />

<polyline points="849.5,456.7 850.8,454.2 852.1,450.0 853.4,446.4 854.7,447.1 856.0,453.7 857.3,455.8 858.6,452.6 859.9,453.7 861.2,457.0 862.5,457.3 863.8,452.6 865.1,452.1 866.4,449.8 867.7,442.9 869.0,439.7 870.3,443.5 871.6,452.1 872.9,455.6 874.2,450.7 875.5,443.6 876.8,446.7 878.1,451.9 879.4,456.4 880.7,456.5 882.0,455.5 883.3,453.4 884.6,446.0 885.9,439.7 887.2,446.2 888.5,450.8 889.8,450.5 891.1,454.4 892.4,454.6 893.7,450.1 895.0,449.3 896.3,450.1 897.6,445.7 898.9,446.2 900.2,444.4 901.5,440.1 902.8,438.0 904.1,438.1 905.4,444.5 906.7,447.7 908.0,451.2 909.3,450.5 910.6,449.8 911.9,452.5 913.2,449.6 914.5,441.6 915.8,446.1 917.1,449.2 918.4,442.5 919.7,442.5 921.0,447.2 922.3,452.7 923.6,457.7 924.9,461.0 926.2,459.2 927.5,459.0 928.8,450.9 930.1,436.5 931.4,434.1 932.7,443.6 934.0,446.5 935.3,446.7 936.6,448.9 937.9,451.1 939.2,453.4 940.5,455.3 941.8,454.1 943.1,455.0 944.4,449.9 945.7,445.3 947.0,443.5 948.3,442.6 949.6,438.4 950.9,445.1 952.2,445.9 953.5,449.9 954.8,445.6 956.1,439.0 957.4,438.9 958.7,440.6 960.0,443.5 961.3,448.3 962.6,451.4 963.9,450.2 965.2,444.8 966.5,444.6 967.8,442.6 969.1,443.9 970.4,448.2 971.7,445.5 973.0,440.0 974.3,444.1 975.6,449.8 976.9,452.6 978.2,449.4 979.5,441.6 980.0,437.1 981.5,440.0 983.0,435.6 984.5,432.3 986.0,430.8 987.5,431.0 989.0,428.1 990.5,429.9 992.0,435.2 993.5,438.6 995.0,430.6 996.5,434.0 998.0,429.7 999.5,427.6 1001.0,428.0 1002.5,429.2 1004.0,424.7 1005.5,422.5 1007.0,424.4 1008.5,420.7 1010.0,417.8 1011.5,420.2 1013.0,416.0 1014.5,412.1 1016.0,410.0 1017.5,406.5 1019.0,401.6 1020.5,397.1 1022.0,390.8 1023.5,385.4 1025.0,378.8 1026.5,379.1 1028.0,373.5 1029.5,367.5 1031.0,364.1 1032.5,364.0 1034.0,361.2 1035.5,358.7 1037.0,350.9 1038.5,353.5 1040.0,330.3 1041.5,311.2 1043.0,306.4 1044.5,298.3 1046.0,286.8 1047.5,282.4 1049.0,276.1 1050.5,267.6 1052.0,256.6 1053.5,254.4 1055.0,240.2 1056.5,237.6 1058.0,229.4 1059.5,224.7 1061.0,218.1 1062.5,209.8 1064.0,196.2 1065.5,190.1 1067.0,183.2 1068.5,177.3 1070.0,177.7 1071.5,176.9 1073.0,173.9 1074.5,173.5 1076.0,173.1 1077.5,172.7 1079.0,174.6 1080.5,171.1 1082.0,161.1 1083.5,155.5 1085.0,148.5 1086.5,140.0 1088.0,147.7 1089.5,148.2 1091.0,148.1 1092.5,159.4 1094.0,169.5 1095.5,171.1 1097.0,176.6 1098.5,182.2 1100.0,189.8 1101.5,198.6 1103.0,208.9 1104.5,219.7 1106.0,226.6 1107.5,240.8 1109.0,255.6 1110.5,265.8 1112.0,278.4 1113.5,288.0 1115.0,293.6 1116.5,305.2 1118.0,306.9 1119.5,314.7 1121.0,319.9 1122.5,325.6 1124.0,340.1 1125.5,341.5 1127.0,353.0 1128.5,359.8 1130.0,368.8 1131.5,377.6 1133.0,383.9 1134.5,383.0 1136.0,394.3 1137.5,393.4 1139.0,403.7 1140.5,405.3 1142.0,407.7 1143.5,412.7 1145.0,410.4 1146.5,412.1 1148.0,413.0 1149.5,411.7 1151.0,408.8 1152.5,408.6 1154.0,405.2 1155.5,408.3 1157.0,408.8 1158.5,410.3 1160.0,414.9 1161.5,418.4 1163.0,417.0 1164.5,413.3 1166.0,411.0 1167.5,407.2 1169.0,402.0 1170.5,399.7 1172.0,394.4 1173.5,393.0 1175.0,392.2 1176.5,398.6 1178.0,401.3 1179.5,405.8 1181.0,396.1 1182.5,397.2 1184.0,394.7 1185.5,390.5 1187.0,392.8 1188.5,390.8 1190.0,386.3 1191.5,383.0 1193.0,386.4 1194.5,383.6 1196.0,387.9 1197.5,386.0 1199.0,387.6 1200.5,385.9 1202.0,388.7 1203.5,386.0 1205.0,386.7 1206.5,382.8 1208.0,380.5 1209.5,379.7 1211.0,381.6 1212.5,383.3 1214.0,383.4 1215.5,391.7 1217.0,388.5 1218.5,391.5 1220.0,391.2 1221.5,389.0 1223.0,394.2 1224.5,394.2 1226.0,397.1 1227.5,396.0 1229.0,400.5 1230.5,402.8 1232.0,407.2 1233.5,404.0 1235.0,410.2 1236.5,413.3 1238.0,411.4 1239.5,412.0 1241.0,417.9 1242.5,418.2 1244.0,425.3 1245.5,429.9 1247.0,434.3 1248.5,434.8 1250.0,433.8 1251.5,442.4 1253.0,441.7 1254.5,445.8 1256.0,445.0 1257.5,450.8 1259.0,448.1 1260.5,451.4 1262.0,453.0 1263.5,451.5 1263.8,451.8 1264.2,451.2 1265.5,448.9 1266.8,441.8 1268.1,439.2 1269.4,436.5 1270.7,434.5 1272.0,439.1 1273.3,441.6 1274.6,439.8 1275.9,430.5 1277.2,437.5 1278.5,444.6 1279.8,447.0 1281.1,447.8 1282.4,439.6 1283.7,439.2 1285.0,445.8 1286.3,451.2 1287.6,450.6 1288.9,444.9 1290.2,445.5 1291.5,442.8 1292.8,443.9 1294.1,448.6 1295.4,451.2 1296.7,451.7 1298.0,445.8 1299.3,431.7 1300.6,431.2 1301.9,429.6 1303.2,434.9 1304.5,443.9 1305.8,449.1 1307.1,449.0 1308.4,452.6 1309.7,454.2 1311.0,456.2 1312.3,452.2 1313.6,454.3 1314.9,458.7 1316.2,460.3 1317.5,456.8 1318.8,452.1 1320.1,453.0 1321.4,451.3 1322.7,453.6 1324.0,456.6 1325.3,457.9 1326.6,460.7 1327.9,461.8 1329.2,460.3 1330.5,454.9 1331.8,445.9 1333.1,445.8 1334.4,453.5 1335.7,457.5 1337.0,450.4 1338.3,449.4 1339.6,447.7 1340.9,450.5 1342.2,459.8 1343.5,461.2 1344.8,456.6 1346.1,442.5 1347.4,437.2 1348.7,442.3 1350.0,449.8 1351.3,456.0 1352.6,454.8 1353.9,450.6 1355.2,448.1 1356.5,442.0 1357.8,442.0 1359.1,450.0 1360.4,452.9 1361.7,453.5 1363.0,451.3 1364.3,451.1 1365.6,450.4 1366.9,445.3 1368.2,441.7 1369.5,449.0 1370.8,455.7 1372.1,457.4 1373.4,456.5 1374.7,454.8 1376.0,457.2 1377.3,451.7 1378.6,451.7 1379.9,450.3 1381.2,443.7 1382.5,443.7 1383.8,445.8 1385.1,440.6 1386.4,435.7 1387.7,446.0 1389.0,452.4 1390.3,455.5 1391.6,454.4 1392.9,452.4 1394.2,452.7 1395.5,456.7 1396.8,458.0 1398.1,458.0 1399.4,458.2 1400.7,458.6 1402.0,458.1 1403.3,457.1" fill="none" stroke="#111" stroke-width="1.8" stroke-linejoin="round" />

<polyline points="849.5,451.6 850.5,451.6 851.5,451.6 852.5,451.6 853.5,451.6 854.5,451.6 855.5,451.6 856.5,451.6 857.5,451.6 858.5,451.6 859.5,451.6 860.5,451.6 861.5,451.6 862.5,451.6 863.5,451.6 864.5,451.6 865.5,451.6 866.5,451.6 867.5,451.6 868.5,451.6 869.5,451.6 870.5,451.6 871.5,451.6 872.5,451.6 873.5,451.6 874.5,451.6 875.5,451.6 876.5,451.6 877.5,451.6 878.5,451.6 879.5,451.6 880.5,451.6 881.5,451.6 882.5,451.6 883.5,451.6 884.5,451.6 885.5,451.6 886.5,451.6 887.5,451.6 888.5,451.6 889.5,451.6 890.5,451.6 891.5,451.6 892.5,451.6 893.5,451.6 894.5,451.6 895.5,451.6 896.5,451.6 897.5,451.6 898.5,451.6 899.5,451.6 900.5,451.6 901.5,451.6 902.5,451.6 903.5,451.6 904.5,451.6 905.5,451.6 906.5,451.6 907.5,451.6 908.5,451.6 909.5,451.6 910.5,451.6 911.5,451.6 912.5,451.6 913.5,451.6 914.5,451.6 915.5,451.6 916.5,451.6 917.5,451.6 918.5,451.6 919.5,451.6 920.5,451.6 921.5,451.6 922.5,451.6 923.5,451.6 924.5,451.6 925.5,451.6 926.5,451.6 927.5,451.6 928.5,451.6 929.5,451.6 930.5,451.6 931.5,451.6 932.5,451.6 933.5,451.6 934.5,451.6 935.5,451.5 936.5,451.5 937.5,451.5 938.5,451.5 939.5,451.5 940.5,451.5 941.5,451.5 942.5,451.5 943.5,451.5 944.5,451.5 945.5,451.4 946.5,451.4 947.5,451.4 948.5,451.4 949.5,451.4 950.5,451.3 951.5,451.3 952.5,451.3 953.5,451.2 954.5,451.2 955.5,451.2 956.5,451.1 957.5,451.1 958.5,451.0 959.5,451.0 960.5,450.9 961.5,450.8 962.5,450.8 963.5,450.7 964.5,450.6 965.5,450.5 966.5,450.4 967.5,450.3 968.5,450.2 969.5,450.0 970.5,449.9 971.5,449.7 972.5,449.6 973.5,449.4 974.5,449.2 975.5,449.0 976.5,448.8 977.5,448.5 978.5,448.3 979.5,448.0 980.5,447.7 981.5,447.4 982.5,447.0 983.5,446.6 984.5,446.2 985.5,445.8 986.5,445.4 987.5,444.9 988.5,444.4 989.5,443.8 990.5,443.2 991.5,442.6 992.5,442.0 993.5,441.3 994.5,440.5 995.5,439.7 996.5,438.9 997.5,438.0 998.5,437.1 999.5,436.1 1000.5,435.1 1001.5,434.0 1002.5,432.8 1003.5,431.6 1004.5,430.3 1005.5,429.0 1006.5,427.5 1007.5,426.1 1008.5,424.5 1009.5,422.9 1010.5,421.2 1011.5,419.4 1012.5,417.5 1013.5,415.6 1014.5,413.5 1015.5,411.4 1016.5,409.2 1017.5,406.9 1018.5,404.6 1019.5,402.1 1020.5,399.5 1021.5,396.9 1022.5,394.1 1023.5,391.3 1024.5,388.4 1025.5,385.3 1026.5,382.2 1027.5,379.0 1028.5,375.7 1029.5,372.3 1030.5,368.8 1031.5,365.2 1032.5,361.5 1033.5,357.8 1034.5,353.9 1035.5,350.0 1036.5,346.0 1037.5,341.9 1038.5,337.7 1039.5,333.5 1040.5,329.2 1041.5,324.8 1042.5,320.4 1043.5,315.9 1044.5,311.4 1045.5,306.8 1046.5,302.2 1047.5,297.5 1048.5,292.8 1049.5,288.1 1050.5,283.4 1051.5,278.7 1052.5,273.9 1053.5,269.2 1054.5,264.5 1055.5,259.8 1056.5,255.1 1057.5,250.5 1058.5,245.8 1059.5,241.3 1060.5,236.8 1061.5,232.3 1062.5,228.0 1063.5,223.7 1064.5,219.5 1065.5,215.4 1066.5,211.4 1067.5,207.5 1068.5,203.7 1069.5,200.1 1070.5,196.6 1071.5,193.2 1072.5,190.0 1073.5,186.9 1074.5,184.0 1075.5,181.2 1076.5,178.6 1077.5,176.2 1078.5,174.0 1079.5,172.0 1080.5,170.1 1081.5,168.5 1082.5,167.0 1083.5,165.8 1084.5,164.7 1085.5,163.9 1086.5,163.2 1087.5,162.8 1088.5,162.6 1089.5,162.6 1090.5,163.1 1091.5,164.2 1092.5,165.7 1093.5,167.8 1094.5,170.3 1095.5,173.3 1096.5,176.8 1097.5,180.7 1098.5,185.1 1099.5,189.8 1100.5,195.0 1101.5,200.4 1102.5,206.2 1103.5,212.3 1104.5,218.7 1105.5,225.3 1106.5,232.0 1107.5,239.0 1108.5,246.1 1109.5,253.3 1110.5,260.5 1111.5,267.9 1112.5,275.2 1113.5,282.5 1114.5,289.8 1115.5,297.0 1116.5,304.1 1117.5,311.1 1118.5,318.0 1119.5,324.7 1120.5,331.2 1121.5,337.6 1122.5,343.7 1123.5,349.6 1124.5,355.3 1125.5,360.8 1126.5,366.0 1127.5,370.9 1128.5,375.6 1129.5,380.1 1130.5,384.2 1131.5,388.1 1132.5,391.8 1133.5,395.2 1134.5,398.3 1135.5,401.2 1136.5,403.8 1137.5,406.2 1138.5,408.4 1139.5,410.4 1140.5,412.1 1141.5,413.6 1142.5,415.0 1143.5,416.1 1144.5,417.1 1145.5,418.0 1146.5,418.6 1147.5,419.2 1148.5,419.6 1149.5,419.8 1150.5,420.0 1151.5,420.1 1152.5,420.1 1153.5,419.9 1154.5,419.8 1155.5,419.5 1156.5,419.2 1157.5,418.9 1158.5,418.5 1159.5,418.0 1160.5,417.5 1161.5,417.0 1162.5,416.5 1163.5,416.0 1164.5,415.4 1165.5,414.9 1166.5,414.3 1167.5,413.7 1168.5,413.1 1169.5,412.4 1170.5,411.8 1171.5,411.2 1172.5,410.5 1173.5,409.9 1174.5,409.2 1175.5,408.5 1176.5,407.8 1177.5,407.1 1178.5,406.3 1179.5,405.5 1180.5,404.7 1181.5,403.9 1182.5,403.1 1183.5,402.2 1184.5,401.3 1185.5,400.4 1186.5,399.5 1187.5,398.5 1188.5,397.5 1189.5,396.6 1190.5,395.6 1191.5,394.6 1192.5,393.5 1193.5,392.5 1194.5,391.6 1195.5,390.6 1196.5,389.6 1197.5,388.7 1198.5,387.8 1199.5,387.0 1200.5,386.2 1201.5,385.5 1202.5,384.8 1203.5,384.2 1204.5,383.7 1205.5,383.3 1206.5,383.0 1207.5,382.7 1208.5,382.6 1209.5,382.6 1210.5,382.7 1211.5,383.0 1212.5,383.3 1213.5,383.8 1214.5,384.3 1215.5,385.0 1216.5,385.9 1217.5,386.8 1218.5,387.8 1219.5,389.0 1220.5,390.2 1221.5,391.6 1222.5,393.0 1223.5,394.5 1224.5,396.1 1225.5,397.8 1226.5,399.5 1227.5,401.3 1228.5,403.1 1229.5,405.0 1230.5,406.8 1231.5,408.7 1232.5,410.6 1233.5,412.6 1234.5,414.5 1235.5,416.3 1236.5,418.2 1237.5,420.0 1238.5,421.8 1239.5,423.6 1240.5,425.3 1241.5,427.0 1242.5,428.6 1243.5,430.1 1244.5,431.6 1245.5,433.0 1246.5,434.4 1247.5,435.7 1248.5,437.0 1249.5,438.1 1250.5,439.2 1251.5,440.3 1252.5,441.2 1253.5,442.2 1254.5,443.0 1255.5,443.8 1256.5,444.5 1257.5,445.2 1258.5,445.8 1259.5,446.4 1260.5,446.9 1261.5,447.4 1262.5,447.9 1263.5,448.3 1264.5,448.6 1265.5,449.0 1266.5,449.3 1267.5,449.6 1268.5,449.8 1269.5,450.0 1270.5,450.2 1271.5,450.4 1272.5,450.5 1273.5,450.7 1274.5,450.8 1275.5,450.9 1276.5,451.0 1277.5,451.1 1278.5,451.1 1279.5,451.2 1280.5,451.3 1281.5,451.3 1282.5,451.4 1283.5,451.4 1284.5,451.4 1285.5,451.5 1286.5,451.5 1287.5,451.5 1288.5,451.5 1289.5,451.5 1290.5,451.5 1291.5,451.5 1292.5,451.6 1293.5,451.6 1294.5,451.6 1295.5,451.6 1296.5,451.6 1297.5,451.6 1298.5,451.6 1299.5,451.6 1300.5,451.6 1301.5,451.6 1302.5,451.6 1303.5,451.6 1304.5,451.6 1305.5,451.6 1306.5,451.6 1307.5,451.6 1308.5,451.6 1309.5,451.6 1310.5,451.6 1311.5,451.6 1312.5,451.6 1313.5,451.6 1314.5,451.6 1315.5,451.6 1316.5,451.6 1317.5,451.6 1318.5,451.6 1319.5,451.6 1320.5,451.6 1321.5,451.6 1322.5,451.6 1323.5,451.6 1324.5,451.6 1325.5,451.6 1326.5,451.6 1327.5,451.6 1328.5,451.6 1329.5,451.6 1330.5,451.6 1331.5,451.6 1332.5,451.6 1333.5,451.6 1334.5,451.6 1335.5,451.6 1336.5,451.6 1337.5,451.6 1338.5,451.6 1339.5,451.6 1340.5,451.6 1341.5,451.6 1342.5,451.6 1343.5,451.6 1344.5,451.6 1345.5,451.6 1346.5,451.6 1347.5,451.6 1348.5,451.6 1349.5,451.6 1350.5,451.6 1351.5,451.6 1352.5,451.6 1353.5,451.6 1354.5,451.6 1355.5,451.6 1356.5,451.6 1357.5,451.6 1358.5,451.6 1359.5,451.6 1360.5,451.6 1361.5,451.6 1362.5,451.6 1363.5,451.6 1364.5,451.6 1365.5,451.6 1366.5,451.6 1367.5,451.6 1368.5,451.6 1369.5,451.6 1370.5,451.6 1371.5,451.6 1372.5,451.6 1373.5,451.6 1374.5,451.6 1375.5,451.6 1376.5,451.6 1377.5,451.6 1378.5,451.6 1379.5,451.6 1380.5,451.6 1381.5,451.6 1382.5,451.6 1383.5,451.6 1384.5,451.6 1385.5,451.6 1386.5,451.6 1387.5,451.6 1388.5,451.6 1389.5,451.6 1390.5,451.6 1391.5,451.6 1392.5,451.6 1393.5,451.6 1394.5,451.6 1395.5,451.6 1396.5,451.6 1397.5,451.6 1398.5,451.6 1399.5,451.6 1400.5,451.6 1401.5,451.6 1402.5,451.6 1403.5,451.6" fill="none" stroke="#ff0000" stroke-width="3.6" stroke-linejoin="round" />

<polyline points="849.5,811.0 1404.0,811.0" fill="none" stroke="#009191" stroke-width="1.8" stroke-linejoin="round" />
<polyline points="892.5,810.9 893.5,810.9 894.5,810.9 895.5,810.9 896.5,810.9 897.5,810.9 898.5,810.8 899.5,810.8 900.5,810.8 901.5,810.7 902.5,810.7 903.5,810.6 904.5,810.5 905.5,810.5 906.5,810.4 907.5,810.3 908.5,810.1 909.5,810.0 910.5,809.8 911.5,809.6 912.5,809.4 913.5,809.2 914.5,808.9 915.5,808.6 916.5,808.2 917.5,807.8 918.5,807.4 919.5,806.9 920.5,806.3 921.5,805.7 922.5,805.0 923.5,804.2 924.5,803.3 925.5,802.4 926.5,801.3 927.5,800.2 928.5,798.9 929.5,797.6 930.5,796.1 931.5,794.5 932.5,792.8 933.5,790.9 934.5,788.9 935.5,786.8 936.5,784.5 937.5,782.1 938.5,779.5 939.5,776.7 940.5,773.9 941.5,770.8 942.5,767.7 943.5,764.4 944.5,760.9 945.5,757.4 946.5,753.7 947.5,749.9 948.5,746.0 949.5,742.1 950.5,738.0 951.5,733.9 952.5,729.8 953.5,725.7 954.5,721.5 955.5,717.4 956.5,713.3 957.5,709.3 958.5,705.4 959.5,701.6 960.5,697.9 961.5,694.4 962.5,691.1 963.5,687.9 964.5,685.0 965.5,682.3 966.5,679.8 967.5,677.7 968.5,675.8 969.5,674.2 970.5,672.9 971.5,672.0 972.5,671.3 973.5,671.0 974.5,671.1 975.5,671.4 976.5,672.1 977.5,673.1 978.5,674.5 979.5,676.1 980.5,678.1 981.5,680.3 982.5,682.8 983.5,685.5 984.5,688.5 985.5,691.7 986.5,695.1 987.5,698.7 988.5,702.4 989.5,706.2 990.5,710.1 991.5,714.2 992.5,718.2 993.5,722.4 994.5,726.5 995.5,730.6 996.5,734.8 997.5,738.8 998.5,742.9 999.5,746.8 1000.5,750.7 1001.5,754.4 1002.5,758.1 1003.5,761.6 1004.5,765.0 1005.5,768.3 1006.5,771.5 1007.5,774.5 1008.5,777.3 1009.5,780.0 1010.5,782.6 1011.5,785.0 1012.5,787.2 1013.5,789.3 1014.5,791.3 1015.5,793.1 1016.5,794.8 1017.5,796.4 1018.5,797.9 1019.5,799.2 1020.5,800.4 1021.5,801.6 1022.5,802.6 1023.5,803.5 1024.5,804.3 1025.5,805.1 1026.5,805.8 1027.5,806.4 1028.5,807.0 1029.5,807.5 1030.5,807.9 1031.5,808.3 1032.5,808.6 1033.5,809.0 1034.5,809.2 1035.5,809.5 1036.5,809.7 1037.5,809.9 1038.5,810.0 1039.5,810.2 1040.5,810.3 1041.5,810.4 1042.5,810.5 1043.5,810.6 1044.5,810.6 1045.5,810.7 1046.5,810.7 1047.5,810.8 1048.5,810.8 1049.5,810.8 1050.5,810.9 1051.5,810.9 1052.5,810.9 1053.5,810.9 1054.5,810.9 1055.5,810.9" fill="none" stroke="#009191" stroke-width="1.15" stroke-linejoin="round" />
<polyline points="927.5,810.9 928.5,810.9 929.5,810.9 930.5,810.9 931.5,810.9 932.5,810.9 933.5,810.8 934.5,810.8 935.5,810.8 936.5,810.7 937.5,810.7 938.5,810.6 939.5,810.6 940.5,810.5 941.5,810.4 942.5,810.3 943.5,810.2 944.5,810.0 945.5,809.9 946.5,809.7 947.5,809.5 948.5,809.3 949.5,809.0 950.5,808.7 951.5,808.4 952.5,808.0 953.5,807.6 954.5,807.1 955.5,806.6 956.5,806.0 957.5,805.3 958.5,804.5 959.5,803.7 960.5,802.8 961.5,801.7 962.5,800.6 963.5,799.3 964.5,798.0 965.5,796.4 966.5,794.8 967.5,793.0 968.5,791.0 969.5,788.9 970.5,786.6 971.5,784.0 972.5,781.3 973.5,778.4 974.5,775.3 975.5,771.9 976.5,768.4 977.5,764.6 978.5,760.5 979.5,756.2 980.5,751.7 981.5,746.9 982.5,741.8 983.5,736.6 984.5,731.0 985.5,725.3 986.5,719.3 987.5,713.1 988.5,706.6 989.5,700.0 990.5,693.2 991.5,686.2 992.5,679.1 993.5,671.9 994.5,664.5 995.5,657.1 996.5,649.6 997.5,642.1 998.5,634.6 999.5,627.1 1000.5,619.7 1001.5,612.5 1002.5,605.3 1003.5,598.3 1004.5,591.5 1005.5,585.0 1006.5,578.7 1007.5,572.8 1008.5,567.2 1009.5,561.9 1010.5,557.0 1011.5,552.6 1012.5,548.6 1013.5,545.1 1014.5,542.1 1015.5,539.6 1016.5,537.7 1017.5,536.2 1018.5,535.3 1019.5,535.0 1020.5,535.2 1021.5,535.9 1022.5,537.2 1023.5,539.0 1024.5,541.2 1025.5,544.0 1026.5,547.2 1027.5,550.9 1028.5,555.1 1029.5,559.6 1030.5,564.6 1031.5,569.9 1032.5,575.5 1033.5,581.4 1034.5,587.7 1035.5,594.1 1036.5,600.8 1037.5,607.7 1038.5,614.7 1039.5,621.8 1040.5,629.0 1041.5,636.3 1042.5,643.6 1043.5,650.9 1044.5,658.2 1045.5,665.4 1046.5,672.6 1047.5,679.6 1048.5,686.5 1049.5,693.3 1050.5,699.9 1051.5,706.4 1052.5,712.7 1053.5,718.7 1054.5,724.6 1055.5,730.2 1056.5,735.6 1057.5,740.8 1058.5,745.8 1059.5,750.5 1060.5,755.0 1061.5,759.2 1062.5,763.3 1063.5,767.1 1064.5,770.6 1065.5,774.0 1066.5,777.1 1067.5,780.0 1068.5,782.8 1069.5,785.3 1070.5,787.7 1071.5,789.8 1072.5,791.9 1073.5,793.7 1074.5,795.4 1075.5,797.0 1076.5,798.4 1077.5,799.7 1078.5,800.9 1079.5,802.0 1080.5,803.0 1081.5,803.8 1082.5,804.7 1083.5,805.4 1084.5,806.0 1085.5,806.6 1086.5,807.1 1087.5,807.6 1088.5,808.0 1089.5,808.4 1090.5,808.7 1091.5,809.0 1092.5,809.3 1093.5,809.5 1094.5,809.7 1095.5,809.9 1096.5,810.0 1097.5,810.2 1098.5,810.3 1099.5,810.4 1100.5,810.5 1101.5,810.5 1102.5,810.6 1103.5,810.7 1104.5,810.7 1105.5,810.8 1106.5,810.8 1107.5,810.8 1108.5,810.9 1109.5,810.9 1110.5,810.9 1111.5,810.9 1112.5,810.9 1113.5,810.9 1114.5,810.9" fill="none" stroke="#009191" stroke-width="1.15" stroke-linejoin="round" />
<polyline points="1117.5,810.9 1118.5,810.9 1119.5,810.9 1120.5,810.9 1121.5,810.9 1122.5,810.8 1123.5,810.8 1124.5,810.8 1125.5,810.7 1126.5,810.6 1127.5,810.6 1128.5,810.5 1129.5,810.4 1130.5,810.3 1131.5,810.1 1132.5,809.9 1133.5,809.8 1134.5,809.5 1135.5,809.3 1136.5,809.0 1137.5,808.7 1138.5,808.3 1139.5,807.9 1140.5,807.4 1141.5,806.9 1142.5,806.4 1143.5,805.8 1144.5,805.1 1145.5,804.3 1146.5,803.5 1147.5,802.6 1148.5,801.7 1149.5,800.7 1150.5,799.6 1151.5,798.5 1152.5,797.3 1153.5,796.1 1154.5,794.8 1155.5,793.4 1156.5,792.0 1157.5,790.6 1158.5,789.2 1159.5,787.8 1160.5,786.4 1161.5,784.9 1162.5,783.6 1163.5,782.2 1164.5,780.9 1165.5,779.7 1166.5,778.5 1167.5,777.4 1168.5,776.5 1169.5,775.6 1170.5,774.9 1171.5,774.3 1172.5,773.8 1173.5,773.4 1174.5,773.2 1175.5,773.2 1176.5,773.3 1177.5,773.7 1178.5,774.2 1179.5,774.9 1180.5,775.7 1181.5,776.7 1182.5,777.9 1183.5,779.2 1184.5,780.5 1185.5,782.0 1186.5,783.6 1187.5,785.1 1188.5,786.8 1189.5,788.4 1190.5,790.0 1191.5,791.6 1192.5,793.2 1193.5,794.8 1194.5,796.2 1195.5,797.7 1196.5,799.0 1197.5,800.2 1198.5,801.4 1199.5,802.5 1200.5,803.5 1201.5,804.4 1202.5,805.3 1203.5,806.0 1204.5,806.7 1205.5,807.3 1206.5,807.8 1207.5,808.3 1208.5,808.7 1209.5,809.1 1210.5,809.4 1211.5,809.7 1212.5,809.9 1213.5,810.1 1214.5,810.3 1215.5,810.4 1216.5,810.5 1217.5,810.6 1218.5,810.7 1219.5,810.7 1220.5,810.8 1221.5,810.8 1222.5,810.9 1223.5,810.9 1224.5,810.9 1225.5,810.9" fill="none" stroke="#009191" stroke-width="1.15" stroke-linejoin="round" />
<polyline points="1159.5,810.9 1160.5,810.9 1161.5,810.9 1162.5,810.9 1163.5,810.8 1164.5,810.8 1165.5,810.8 1166.5,810.7 1167.5,810.6 1168.5,810.5 1169.5,810.4 1170.5,810.3 1171.5,810.1 1172.5,809.9 1173.5,809.7 1174.5,809.4 1175.5,809.1 1176.5,808.8 1177.5,808.3 1178.5,807.8 1179.5,807.3 1180.5,806.6 1181.5,805.9 1182.5,805.0 1183.5,804.1 1184.5,803.0 1185.5,801.8 1186.5,800.5 1187.5,799.1 1188.5,797.5 1189.5,795.8 1190.5,794.0 1191.5,792.0 1192.5,789.8 1193.5,787.6 1194.5,785.2 1195.5,782.7 1196.5,780.1 1197.5,777.4 1198.5,774.7 1199.5,771.9 1200.5,769.1 1201.5,766.3 1202.5,763.5 1203.5,760.8 1204.5,758.2 1205.5,755.7 1206.5,753.3 1207.5,751.1 1208.5,749.1 1209.5,747.3 1210.5,745.8 1211.5,744.5 1212.5,743.5 1213.5,742.9 1214.5,742.5 1215.5,742.4 1216.5,742.6 1217.5,743.0 1218.5,743.6 1219.5,744.4 1220.5,745.3 1221.5,746.5 1222.5,747.9 1223.5,749.4 1224.5,751.1 1225.5,752.9 1226.5,754.8 1227.5,756.8 1228.5,758.9 1229.5,761.1 1230.5,763.4 1231.5,765.7 1232.5,768.0 1233.5,770.3 1234.5,772.6 1235.5,774.9 1236.5,777.2 1237.5,779.4 1238.5,781.6 1239.5,783.7 1240.5,785.7 1241.5,787.7 1242.5,789.6 1243.5,791.3 1244.5,793.0 1245.5,794.6 1246.5,796.1 1247.5,797.5 1248.5,798.8 1249.5,800.1 1250.5,801.2 1251.5,802.2 1252.5,803.2 1253.5,804.0 1254.5,804.8 1255.5,805.6 1256.5,806.2 1257.5,806.8 1258.5,807.3 1259.5,807.8 1260.5,808.2 1261.5,808.6 1262.5,808.9 1263.5,809.2 1264.5,809.5 1265.5,809.7 1266.5,809.9 1267.5,810.0 1268.5,810.2 1269.5,810.3 1270.5,810.4 1271.5,810.5 1272.5,810.6 1273.5,810.7 1274.5,810.7 1275.5,810.8 1276.5,810.8 1277.5,810.8 1278.5,810.9 1279.5,810.9 1280.5,810.9 1281.5,810.9 1282.5,810.9" fill="none" stroke="#009191" stroke-width="1.15" stroke-linejoin="round" />

<polyline points="849.5,811.6 850.8,809.2 852.1,809.7 853.4,810.4 854.7,809.3 856.0,810.7 857.3,814.2 858.6,816.2 859.9,816.1 861.2,815.9 862.5,816.8 863.8,813.4 865.1,813.1 866.4,814.0 867.7,817.3 869.0,817.7 870.3,818.1 871.6,818.3 872.9,814.6 874.2,811.0 875.5,805.3 876.8,807.7 878.1,817.3 879.4,817.7 880.7,814.4 882.0,812.7 883.3,813.5 884.6,817.4 885.9,815.2 887.2,811.6 888.5,808.1 889.8,810.6 891.1,813.4 892.4,815.5 893.7,815.2 895.0,810.2 896.3,802.6 897.6,788.9 898.9,787.5 900.0,791.5 901.5,795.0 903.0,793.9 904.5,797.7 906.0,795.9 907.5,794.7 909.0,797.1 910.5,796.9 912.0,797.0 913.5,792.6 915.0,786.7 916.5,780.5 918.0,776.7 919.5,773.7 921.0,766.4 922.5,762.1 924.0,760.6 925.5,756.5 927.0,751.1 928.5,747.1 930.0,747.4 931.5,755.9 933.0,757.8 934.5,755.1 936.0,754.8 937.5,754.4 939.0,757.6 940.5,755.3 942.0,750.1 943.5,732.3 945.0,717.4 946.5,705.3 948.0,698.4 949.5,705.3 951.0,704.5 952.5,705.9 954.0,705.0 955.5,707.3 957.0,707.4 958.5,702.3 960.0,695.8 961.5,690.5 963.0,684.6 964.5,674.8 966.0,672.5 967.5,663.7 969.0,658.0 970.5,651.3 972.0,645.9 973.5,641.3 975.0,640.0 976.5,633.2 978.0,629.4 979.5,627.6 981.0,618.4 982.5,612.7 984.0,585.8 985.5,586.1 987.0,586.1 988.5,583.9 990.0,575.1 991.5,567.8 993.0,557.8 994.5,543.5 996.0,537.9 997.5,529.1 999.0,526.3 1000.5,527.8 1002.0,531.0 1003.5,533.6 1005.0,536.4 1006.5,541.0 1008.0,543.4 1009.5,545.5 1011.0,549.6 1012.5,556.4 1014.0,550.4 1015.5,547.9 1017.0,544.6 1018.5,541.4 1020.0,536.7 1021.5,549.2 1023.0,562.9 1024.5,572.7 1026.0,572.2 1027.5,574.9 1029.0,576.3 1030.5,576.3 1032.0,575.3 1033.5,586.3 1035.0,592.2 1036.5,598.6 1038.0,603.0 1039.5,609.1 1041.0,615.8 1042.5,620.6 1044.0,626.2 1045.5,626.7 1047.0,629.9 1048.5,644.1 1050.0,654.5 1051.5,670.5 1053.0,682.1 1054.5,698.1 1056.0,701.0 1057.5,700.7 1059.0,703.7 1060.5,710.6 1062.0,715.8 1063.5,724.6 1065.0,728.3 1066.5,735.1 1068.0,740.3 1069.5,738.4 1071.0,739.8 1072.5,747.2 1074.0,757.1 1075.5,771.0 1077.0,775.2 1078.5,774.3 1080.0,775.4 1081.5,775.6 1083.0,781.4 1084.5,781.2 1086.0,784.4 1087.5,783.2 1089.0,781.5 1090.5,786.7 1092.0,794.8 1093.5,801.6 1094.0,804.3 1095.2,803.6 1096.5,788.9 1097.8,786.2 1099.1,793.3 1100.4,797.5 1101.7,799.0 1103.0,806.0 1104.3,812.7 1105.6,814.3 1106.9,812.5 1108.2,801.1 1109.5,788.4 1110.8,793.1 1112.1,794.8 1113.4,796.1 1114.7,802.3 1116.0,809.8 1117.3,815.8 1118.6,814.4 1119.9,813.4 1121.2,817.2 1122.5,817.9 1123.8,811.3 1125.1,810.7 1126.4,817.0 1127.7,815.5 1129.0,811.5 1130.3,805.5 1131.6,805.8 1132.9,810.9 1134.2,810.9 1135.5,807.1 1136.8,800.1 1138.1,800.1 1139.4,801.8 1140.7,811.1 1142.0,812.8 1143.3,810.3 1144.6,804.8 1145.9,807.2 1147.2,812.7 1148.5,813.0 1149.8,810.5 1151.1,808.9 1152.4,805.8 1153.7,805.9 1155.0,798.8 1156.3,794.3 1157.6,788.5 1158.9,781.9 1160.2,779.3 1161.5,786.9 1162.8,791.7 1164.1,790.7 1165.4,785.7 1166.7,782.0 1168.0,776.4 1169.3,776.3 1170.6,782.5 1171.9,780.2 1173.2,771.4 1174.5,766.5 1175.8,768.2 1177.1,763.7 1178.4,753.4 1179.7,750.1 1181.0,753.5 1182.3,756.3 1183.6,758.2 1184.9,760.7 1186.2,762.8 1187.5,765.2 1188.8,761.0 1190.1,762.7 1191.4,767.2 1192.7,770.1 1194.0,769.7 1195.3,765.5 1196.6,761.5 1197.9,758.1 1199.2,756.1 1200.5,752.8 1201.8,748.6 1203.1,749.0 1204.4,752.0 1205.7,750.0 1207.0,743.3 1208.3,740.9 1209.6,745.7 1210.9,746.0 1212.2,741.9 1213.5,740.4 1214.8,736.1 1216.1,740.3 1217.4,746.1 1218.7,744.6 1220.0,740.8 1221.3,736.3 1222.6,738.6 1223.9,734.5 1225.2,736.6 1226.5,753.2 1227.8,765.0 1229.1,772.8 1230.4,775.8 1231.7,782.5 1233.0,784.9 1234.3,789.2 1235.6,795.6 1236.9,802.8 1238.2,802.1 1239.5,791.2 1240.8,787.0 1242.1,791.6 1243.4,790.1 1244.7,788.0 1246.0,795.3 1247.3,804.6 1248.6,809.1 1249.9,810.9 1251.2,812.8 1252.5,811.7 1253.8,811.4 1255.1,808.4 1256.4,806.8 1257.7,807.3 1259.0,809.1 1260.3,805.0 1261.6,795.8 1262.9,792.7 1264.2,792.6 1265.5,789.2 1266.8,790.7 1268.1,804.9 1269.4,815.0 1270.7,814.0 1272.0,816.1 1273.3,817.5 1274.6,817.9 1275.9,818.3 1277.2,819.0 1278.5,814.5 1279.8,813.9 1281.1,815.3 1282.4,816.6 1283.7,816.5 1285.0,813.9 1286.3,810.4 1287.6,813.4 1288.9,809.7 1290.2,805.9 1291.5,803.6 1292.8,808.9 1294.1,811.6 1295.4,812.3 1296.7,810.5 1298.0,811.9 1299.3,817.3 1300.6,819.4 1301.9,819.5 1303.2,812.8 1304.5,803.3 1305.8,795.2 1307.1,798.8 1308.4,804.7 1309.7,811.7 1311.0,814.4 1312.3,812.1 1313.6,809.8 1314.9,806.9 1316.2,803.8 1317.5,803.2 1318.8,806.4 1320.1,811.2 1321.4,814.5 1322.7,814.9 1324.0,809.2 1325.3,801.0 1326.6,800.5 1327.9,798.7 1329.2,798.0 1330.5,798.8 1331.8,806.4 1333.1,809.6 1334.4,804.9 1335.7,803.3 1337.0,808.6 1338.3,813.0 1339.6,811.2 1340.9,811.9 1342.2,811.8 1343.5,805.9 1344.8,810.3 1346.1,811.5 1347.4,800.8 1348.7,794.2 1350.0,798.9 1351.3,804.8 1352.6,810.5 1353.9,808.7 1355.2,803.7 1356.5,798.8 1357.8,799.8 1359.1,807.2 1360.4,810.8 1361.7,804.8 1363.0,798.0 1364.3,798.9 1365.6,808.6 1366.9,808.4 1368.2,802.2 1369.5,801.5 1370.8,806.5 1372.1,815.1 1373.4,815.4 1374.7,811.3 1376.0,814.2 1377.3,813.5 1378.6,806.5 1379.9,804.4 1381.2,810.2 1382.5,813.4 1383.8,809.0 1385.1,808.5 1386.4,813.6 1387.7,811.6 1389.0,808.6 1390.3,808.5 1391.6,806.6 1392.9,803.9 1394.2,799.1 1395.5,799.4 1396.8,795.4 1398.1,788.9 1399.4,790.1 1400.7,803.6 1402.0,811.0 1403.3,813.9" fill="none" stroke="#111" stroke-width="1.8" stroke-linejoin="round" />

<polyline points="849.5,811.0 850.5,811.0 851.5,811.0 852.5,811.0 853.5,811.0 854.5,811.0 855.5,811.0 856.5,811.0 857.5,811.0 858.5,811.0 859.5,811.0 860.5,811.0 861.5,811.0 862.5,811.0 863.5,811.0 864.5,811.0 865.5,811.0 866.5,811.0 867.5,811.0 868.5,811.0 869.5,811.0 870.5,811.0 871.5,811.0 872.5,811.0 873.5,811.0 874.5,811.0 875.5,811.0 876.5,811.0 877.5,811.0 878.5,811.0 879.5,811.0 880.5,811.0 881.5,811.0 882.5,811.0 883.5,811.0 884.5,811.0 885.5,811.0 886.5,811.0 887.5,811.0 888.5,811.0 889.5,811.0 890.5,811.0 891.5,811.0 892.5,810.9 893.5,810.9 894.5,810.9 895.5,810.9 896.5,810.9 897.5,810.9 898.5,810.8 899.5,810.8 900.5,810.8 901.5,810.7 902.5,810.7 903.5,810.6 904.5,810.5 905.5,810.5 906.5,810.4 907.5,810.3 908.5,810.1 909.5,810.0 910.5,809.8 911.5,809.6 912.5,809.4 913.5,809.2 914.5,808.9 915.5,808.6 916.5,808.2 917.5,807.8 918.5,807.4 919.5,806.8 920.5,806.3 921.5,805.6 922.5,804.9 923.5,804.2 924.5,803.3 925.5,802.3 926.5,801.3 927.5,800.1 928.5,798.9 929.5,797.5 930.5,796.0 931.5,794.4 932.5,792.6 933.5,790.8 934.5,788.7 935.5,786.6 936.5,784.2 937.5,781.7 938.5,779.1 939.5,776.3 940.5,773.4 941.5,770.2 942.5,767.0 943.5,763.6 944.5,760.0 945.5,756.3 946.5,752.4 947.5,748.4 948.5,744.3 949.5,740.1 950.5,735.8 951.5,731.3 952.5,726.8 953.5,722.3 954.5,717.6 955.5,713.0 956.5,708.3 957.5,703.6 958.5,699.0 959.5,694.3 960.5,689.7 961.5,685.1 962.5,680.7 963.5,676.2 964.5,671.9 965.5,667.7 966.5,663.6 967.5,659.6 968.5,655.8 969.5,652.1 970.5,648.5 971.5,645.0 972.5,641.7 973.5,638.4 974.5,635.4 975.5,632.4 976.5,629.5 977.5,626.7 978.5,624.0 979.5,621.3 980.5,618.7 981.5,616.2 982.5,613.6 983.5,611.1 984.5,608.5 985.5,606.0 986.5,603.4 987.5,600.7 988.5,598.0 989.5,595.2 990.5,592.3 991.5,589.4 992.5,586.3 993.5,583.2 994.5,580.0 995.5,576.7 996.5,573.4 997.5,569.9 998.5,566.5 999.5,562.9 1000.5,559.4 1001.5,555.9 1002.5,552.4 1003.5,549.0 1004.5,545.6 1005.5,542.3 1006.5,539.2 1007.5,536.2 1008.5,533.5 1009.5,530.9 1010.5,528.6 1011.5,526.6 1012.5,524.9 1013.5,523.5 1014.5,522.4 1015.5,521.8 1016.5,521.5 1017.5,521.6 1018.5,522.2 1019.5,523.2 1020.5,524.6 1021.5,526.5 1022.5,528.8 1023.5,531.5 1024.5,534.6 1025.5,538.1 1026.5,542.0 1027.5,546.4 1028.5,551.0 1029.5,556.1 1030.5,561.5 1031.5,567.2 1032.5,573.1 1033.5,579.4 1034.5,585.9 1035.5,592.6 1036.5,599.5 1037.5,606.5 1038.5,613.7 1039.5,621.0 1040.5,628.3 1041.5,635.7 1042.5,643.1 1043.5,650.5 1044.5,657.8 1045.5,665.1 1046.5,672.3 1047.5,679.4 1048.5,686.3 1049.5,693.2 1050.5,699.8 1051.5,706.3 1052.5,712.6 1053.5,718.7 1054.5,724.5 1055.5,730.2 1056.5,735.6 1057.5,740.8 1058.5,745.8 1059.5,750.5 1060.5,755.0 1061.5,759.2 1062.5,763.3 1063.5,767.0 1064.5,770.6 1065.5,774.0 1066.5,777.1 1067.5,780.0 1068.5,782.8 1069.5,785.3 1070.5,787.7 1071.5,789.8 1072.5,791.8 1073.5,793.7 1074.5,795.4 1075.5,797.0 1076.5,798.4 1077.5,799.7 1078.5,800.9 1079.5,802.0 1080.5,803.0 1081.5,803.8 1082.5,804.7 1083.5,805.4 1084.5,806.0 1085.5,806.6 1086.5,807.1 1087.5,807.6 1088.5,808.0 1089.5,808.4 1090.5,808.7 1091.5,809.0 1092.5,809.3 1093.5,809.5 1094.5,809.7 1095.5,809.9 1096.5,810.0 1097.5,810.2 1098.5,810.3 1099.5,810.4 1100.5,810.5 1101.5,810.5 1102.5,810.6 1103.5,810.7 1104.5,810.7 1105.5,810.8 1106.5,810.8 1107.5,810.8 1108.5,810.8 1109.5,810.9 1110.5,810.9 1111.5,810.9 1112.5,810.9 1113.5,810.9 1114.5,810.9 1115.5,810.9 1116.5,810.9 1117.5,810.9 1118.5,810.9 1119.5,810.9 1120.5,810.9 1121.5,810.9 1122.5,810.8 1123.5,810.8 1124.5,810.7 1125.5,810.7 1126.5,810.6 1127.5,810.6 1128.5,810.5 1129.5,810.4 1130.5,810.2 1131.5,810.1 1132.5,809.9 1133.5,809.8 1134.5,809.5 1135.5,809.3 1136.5,809.0 1137.5,808.7 1138.5,808.3 1139.5,807.9 1140.5,807.4 1141.5,806.9 1142.5,806.4 1143.5,805.8 1144.5,805.1 1145.5,804.3 1146.5,803.5 1147.5,802.6 1148.5,801.7 1149.5,800.7 1150.5,799.6 1151.5,798.5 1152.5,797.3 1153.5,796.0 1154.5,794.7 1155.5,793.4 1156.5,792.0 1157.5,790.6 1158.5,789.2 1159.5,787.7 1160.5,786.3 1161.5,784.8 1162.5,783.4 1163.5,782.0 1164.5,780.7 1165.5,779.4 1166.5,778.2 1167.5,777.1 1168.5,776.0 1169.5,775.0 1170.5,774.1 1171.5,773.4 1172.5,772.7 1173.5,772.1 1174.5,771.7 1175.5,771.3 1176.5,771.1 1177.5,771.0 1178.5,771.0 1179.5,771.1 1180.5,771.3 1181.5,771.6 1182.5,771.9 1183.5,772.2 1184.5,772.6 1185.5,772.9 1186.5,773.1 1187.5,773.2 1188.5,773.3 1189.5,773.2 1190.5,773.0 1191.5,772.6 1192.5,772.1 1193.5,771.3 1194.5,770.4 1195.5,769.4 1196.5,768.1 1197.5,766.7 1198.5,765.1 1199.5,763.4 1200.5,761.6 1201.5,759.7 1202.5,757.8 1203.5,755.8 1204.5,753.9 1205.5,752.0 1206.5,750.1 1207.5,748.4 1208.5,746.8 1209.5,745.4 1210.5,744.2 1211.5,743.2 1212.5,742.4 1213.5,741.9 1214.5,741.7 1215.5,741.8 1216.5,742.1 1217.5,742.6 1218.5,743.2 1219.5,744.1 1220.5,745.1 1221.5,746.4 1222.5,747.7 1223.5,749.3 1224.5,751.0 1225.5,752.8 1226.5,754.7 1227.5,756.8 1228.5,758.9 1229.5,761.1 1230.5,763.4 1231.5,765.7 1232.5,768.0 1233.5,770.3 1234.5,772.6 1235.5,774.9 1236.5,777.2 1237.5,779.4 1238.5,781.6 1239.5,783.7 1240.5,785.7 1241.5,787.7 1242.5,789.6 1243.5,791.3 1244.5,793.0 1245.5,794.6 1246.5,796.1 1247.5,797.5 1248.5,798.8 1249.5,800.1 1250.5,801.2 1251.5,802.2 1252.5,803.2 1253.5,804.0 1254.5,804.8 1255.5,805.6 1256.5,806.2 1257.5,806.8 1258.5,807.3 1259.5,807.8 1260.5,808.2 1261.5,808.6 1262.5,808.9 1263.5,809.2 1264.5,809.5 1265.5,809.7 1266.5,809.9 1267.5,810.0 1268.5,810.2 1269.5,810.3 1270.5,810.4 1271.5,810.5 1272.5,810.6 1273.5,810.7 1274.5,810.7 1275.5,810.8 1276.5,810.8 1277.5,810.8 1278.5,810.9 1279.5,810.9 1280.5,810.9 1281.5,810.9 1282.5,810.9 1283.5,811.0 1284.5,811.0 1285.5,811.0 1286.5,811.0 1287.5,811.0 1288.5,811.0 1289.5,811.0 1290.5,811.0 1291.5,811.0 1292.5,811.0 1293.5,811.0 1294.5,811.0 1295.5,811.0 1296.5,811.0 1297.5,811.0 1298.5,811.0 1299.5,811.0 1300.5,811.0 1301.5,811.0 1302.5,811.0 1303.5,811.0 1304.5,811.0 1305.5,811.0 1306.5,811.0 1307.5,811.0 1308.5,811.0 1309.5,811.0 1310.5,811.0 1311.5,811.0 1312.5,811.0 1313.5,811.0 1314.5,811.0 1315.5,811.0 1316.5,811.0 1317.5,811.0 1318.5,811.0 1319.5,811.0 1320.5,811.0 1321.5,811.0 1322.5,811.0 1323.5,811.0 1324.5,811.0 1325.5,811.0 1326.5,811.0 1327.5,811.0 1328.5,811.0 1329.5,811.0 1330.5,811.0 1331.5,811.0 1332.5,811.0 1333.5,811.0 1334.5,811.0 1335.5,811.0 1336.5,811.0 1337.5,811.0 1338.5,811.0 1339.5,811.0 1340.5,811.0 1341.5,811.0 1342.5,811.0 1343.5,811.0 1344.5,811.0 1345.5,811.0 1346.5,811.0 1347.5,811.0 1348.5,811.0 1349.5,811.0 1350.5,811.0 1351.5,811.0 1352.5,811.0 1353.5,811.0 1354.5,811.0 1355.5,811.0 1356.5,811.0 1357.5,811.0 1358.5,811.0 1359.5,811.0 1360.5,811.0 1361.5,811.0 1362.5,811.0 1363.5,811.0 1364.5,811.0 1365.5,811.0 1366.5,811.0 1367.5,811.0 1368.5,811.0 1369.5,811.0 1370.5,811.0 1371.5,811.0 1372.5,811.0 1373.5,811.0 1374.5,811.0 1375.5,811.0 1376.5,811.0 1377.5,811.0 1378.5,811.0 1379.5,811.0 1380.5,811.0 1381.5,811.0 1382.5,811.0 1383.5,811.0 1384.5,811.0 1385.5,811.0 1386.5,811.0 1387.5,811.0 1388.5,811.0 1389.5,811.0 1390.5,811.0 1391.5,811.0 1392.5,811.0 1393.5,811.0 1394.5,811.0 1395.5,811.0 1396.5,811.0 1397.5,811.0 1398.5,811.0 1399.5,811.0 1400.5,811.0 1401.5,811.0 1402.5,811.0 1403.5,811.0" fill="none" stroke="#009191" stroke-width="3.6" stroke-linejoin="round" />

<polyline points="849.5,1240.0 1404.0,1235.3" fill="none" stroke="#ff8a00" stroke-width="1.8" stroke-linejoin="round" />
<polyline points="923.5,1239.3 924.5,1239.3 925.5,1239.3 926.5,1239.2 927.5,1239.2 928.5,1239.2 929.5,1239.1 930.5,1239.1 931.5,1239.0 932.5,1238.9 933.5,1238.9 934.5,1238.8 935.5,1238.7 936.5,1238.5 937.5,1238.4 938.5,1238.2 939.5,1238.0 940.5,1237.8 941.5,1237.5 942.5,1237.2 943.5,1236.9 944.5,1236.5 945.5,1236.0 946.5,1235.5 947.5,1234.9 948.5,1234.3 949.5,1233.6 950.5,1232.7 951.5,1231.8 952.5,1230.8 953.5,1229.7 954.5,1228.4 955.5,1227.1 956.5,1225.5 957.5,1223.9 958.5,1222.1 959.5,1220.1 960.5,1218.0 961.5,1215.8 962.5,1213.3 963.5,1210.7 964.5,1207.9 965.5,1205.0 966.5,1201.9 967.5,1198.6 968.5,1195.2 969.5,1191.6 970.5,1187.9 971.5,1184.1 972.5,1180.1 973.5,1176.1 974.5,1172.0 975.5,1167.8 976.5,1163.6 977.5,1159.5 978.5,1155.3 979.5,1151.2 980.5,1147.1 981.5,1143.2 982.5,1139.4 983.5,1135.7 984.5,1132.3 985.5,1129.0 986.5,1126.0 987.5,1123.3 988.5,1120.8 989.5,1118.7 990.5,1116.9 991.5,1115.5 992.5,1114.4 993.5,1113.7 994.5,1113.3 995.5,1113.3 996.5,1113.7 997.5,1114.3 998.5,1115.2 999.5,1116.5 1000.5,1118.0 1001.5,1119.8 1002.5,1121.9 1003.5,1124.2 1004.5,1126.7 1005.5,1129.5 1006.5,1132.4 1007.5,1135.5 1008.5,1138.8 1009.5,1142.2 1010.5,1145.8 1011.5,1149.4 1012.5,1153.1 1013.5,1156.8 1014.5,1160.6 1015.5,1164.4 1016.5,1168.1 1017.5,1171.9 1018.5,1175.6 1019.5,1179.2 1020.5,1182.8 1021.5,1186.3 1022.5,1189.6 1023.5,1192.9 1024.5,1196.1 1025.5,1199.1 1026.5,1202.0 1027.5,1204.8 1028.5,1207.4 1029.5,1210.0 1030.5,1212.3 1031.5,1214.5 1032.5,1216.6 1033.5,1218.6 1034.5,1220.4 1035.5,1222.1 1036.5,1223.7 1037.5,1225.1 1038.5,1226.5 1039.5,1227.7 1040.5,1228.8 1041.5,1229.8 1042.5,1230.8 1043.5,1231.6 1044.5,1232.4 1045.5,1233.1 1046.5,1233.7 1047.5,1234.2 1048.5,1234.7 1049.5,1235.2 1050.5,1235.6 1051.5,1235.9 1052.5,1236.2 1053.5,1236.5 1054.5,1236.7 1055.5,1236.9 1056.5,1237.1 1057.5,1237.3 1058.5,1237.4 1059.5,1237.5 1060.5,1237.6 1061.5,1237.7 1062.5,1237.8 1063.5,1237.8 1064.5,1237.9 1065.5,1237.9 1066.5,1237.9 1067.5,1238.0 1068.5,1238.0 1069.5,1238.0 1070.5,1238.0 1071.5,1238.0 1072.5,1238.0 1073.5,1238.0" fill="none" stroke="#ff8a00" stroke-width="1.15" stroke-linejoin="round" />
<polyline points="957.5,1239.0 958.5,1239.0 959.5,1239.0 960.5,1239.0 961.5,1238.9 962.5,1238.9 963.5,1238.9 964.5,1238.8 965.5,1238.8 966.5,1238.7 967.5,1238.6 968.5,1238.6 969.5,1238.5 970.5,1238.3 971.5,1238.2 972.5,1238.1 973.5,1237.9 974.5,1237.7 975.5,1237.5 976.5,1237.2 977.5,1236.9 978.5,1236.5 979.5,1236.1 980.5,1235.6 981.5,1235.1 982.5,1234.5 983.5,1233.8 984.5,1233.0 985.5,1232.2 986.5,1231.2 987.5,1230.1 988.5,1228.8 989.5,1227.5 990.5,1225.9 991.5,1224.2 992.5,1222.3 993.5,1220.3 994.5,1218.0 995.5,1215.5 996.5,1212.8 997.5,1209.8 998.5,1206.6 999.5,1203.2 1000.5,1199.4 1001.5,1195.4 1002.5,1191.1 1003.5,1186.5 1004.5,1181.6 1005.5,1176.5 1006.5,1171.0 1007.5,1165.3 1008.5,1159.3 1009.5,1153.0 1010.5,1146.5 1011.5,1139.7 1012.5,1132.7 1013.5,1125.6 1014.5,1118.2 1015.5,1110.7 1016.5,1103.2 1017.5,1095.5 1018.5,1087.8 1019.5,1080.1 1020.5,1072.5 1021.5,1064.9 1022.5,1057.5 1023.5,1050.2 1024.5,1043.2 1025.5,1036.5 1026.5,1030.0 1027.5,1024.0 1028.5,1018.3 1029.5,1013.1 1030.5,1008.3 1031.5,1004.1 1032.5,1000.5 1033.5,997.4 1034.5,994.9 1035.5,993.0 1036.5,991.8 1037.5,991.2 1038.5,991.2 1039.5,991.7 1040.5,992.6 1041.5,994.0 1042.5,995.8 1043.5,998.0 1044.5,1000.6 1045.5,1003.6 1046.5,1007.0 1047.5,1010.8 1048.5,1014.9 1049.5,1019.4 1050.5,1024.1 1051.5,1029.1 1052.5,1034.4 1053.5,1039.9 1054.5,1045.6 1055.5,1051.4 1056.5,1057.5 1057.5,1063.6 1058.5,1069.8 1059.5,1076.1 1060.5,1082.5 1061.5,1088.8 1062.5,1095.2 1063.5,1101.6 1064.5,1107.9 1065.5,1114.1 1066.5,1120.2 1067.5,1126.3 1068.5,1132.2 1069.5,1138.0 1070.5,1143.6 1071.5,1149.1 1072.5,1154.5 1073.5,1159.6 1074.5,1164.6 1075.5,1169.3 1076.5,1173.9 1077.5,1178.3 1078.5,1182.5 1079.5,1186.4 1080.5,1190.2 1081.5,1193.8 1082.5,1197.2 1083.5,1200.4 1084.5,1203.4 1085.5,1206.2 1086.5,1208.9 1087.5,1211.3 1088.5,1213.6 1089.5,1215.8 1090.5,1217.8 1091.5,1219.6 1092.5,1221.3 1093.5,1222.9 1094.5,1224.3 1095.5,1225.7 1096.5,1226.9 1097.5,1228.0 1098.5,1229.0 1099.5,1229.9 1100.5,1230.8 1101.5,1231.5 1102.5,1232.2 1103.5,1232.8 1104.5,1233.4 1105.5,1233.9 1106.5,1234.3 1107.5,1234.7 1108.5,1235.1 1109.5,1235.4 1110.5,1235.7 1111.5,1235.9 1112.5,1236.2 1113.5,1236.4 1114.5,1236.5 1115.5,1236.7 1116.5,1236.8 1117.5,1236.9 1118.5,1237.0 1119.5,1237.1 1120.5,1237.2 1121.5,1237.3 1122.5,1237.3 1123.5,1237.4 1124.5,1237.4 1125.5,1237.4 1126.5,1237.5 1127.5,1237.5 1128.5,1237.5 1129.5,1237.5 1130.5,1237.5 1131.5,1237.5 1132.5,1237.5 1133.5,1237.5 1134.5,1237.5" fill="none" stroke="#ff8a00" stroke-width="1.15" stroke-linejoin="round" />
<polyline points="1113.5,1237.7 1114.5,1237.7 1115.5,1237.7 1116.5,1237.6 1117.5,1237.6 1118.5,1237.6 1119.5,1237.5 1120.5,1237.5 1121.5,1237.4 1122.5,1237.4 1123.5,1237.3 1124.5,1237.2 1125.5,1237.1 1126.5,1237.0 1127.5,1236.9 1128.5,1236.8 1129.5,1236.6 1130.5,1236.5 1131.5,1236.3 1132.5,1236.0 1133.5,1235.8 1134.5,1235.5 1135.5,1235.2 1136.5,1234.8 1137.5,1234.4 1138.5,1233.9 1139.5,1233.4 1140.5,1232.8 1141.5,1232.2 1142.5,1231.5 1143.5,1230.8 1144.5,1230.0 1145.5,1229.1 1146.5,1228.1 1147.5,1227.0 1148.5,1225.9 1149.5,1224.7 1150.5,1223.3 1151.5,1221.9 1152.5,1220.5 1153.5,1218.9 1154.5,1217.2 1155.5,1215.5 1156.5,1213.6 1157.5,1211.7 1158.5,1209.7 1159.5,1207.7 1160.5,1205.6 1161.5,1203.4 1162.5,1201.2 1163.5,1199.0 1164.5,1196.8 1165.5,1194.5 1166.5,1192.3 1167.5,1190.1 1168.5,1187.9 1169.5,1185.7 1170.5,1183.7 1171.5,1181.7 1172.5,1179.8 1173.5,1178.0 1174.5,1176.3 1175.5,1174.8 1176.5,1173.4 1177.5,1172.1 1178.5,1171.0 1179.5,1170.2 1180.5,1169.4 1181.5,1168.9 1182.5,1168.6 1183.5,1168.5 1184.5,1168.6 1185.5,1169.0 1186.5,1169.7 1187.5,1170.7 1188.5,1172.0 1189.5,1173.5 1190.5,1175.3 1191.5,1177.3 1192.5,1179.5 1193.5,1181.8 1194.5,1184.3 1195.5,1186.9 1196.5,1189.6 1197.5,1192.3 1198.5,1195.1 1199.5,1197.9 1200.5,1200.6 1201.5,1203.3 1202.5,1205.9 1203.5,1208.5 1204.5,1211.0 1205.5,1213.3 1206.5,1215.6 1207.5,1217.7 1208.5,1219.6 1209.5,1221.5 1210.5,1223.2 1211.5,1224.8 1212.5,1226.2 1213.5,1227.5 1214.5,1228.7 1215.5,1229.7 1216.5,1230.7 1217.5,1231.5 1218.5,1232.3 1219.5,1232.9 1220.5,1233.5 1221.5,1234.0 1222.5,1234.5 1223.5,1234.8 1224.5,1235.2 1225.5,1235.4 1226.5,1235.7 1227.5,1235.9 1228.5,1236.0 1229.5,1236.1 1230.5,1236.3 1231.5,1236.3 1232.5,1236.4 1233.5,1236.5 1234.5,1236.5 1235.5,1236.6 1236.5,1236.6 1237.5,1236.6 1238.5,1236.6 1239.5,1236.6 1240.5,1236.6" fill="none" stroke="#ff8a00" stroke-width="1.15" stroke-linejoin="round" />
<polyline points="1152.5,1237.4 1153.5,1237.4 1154.5,1237.3 1155.5,1237.3 1156.5,1237.3 1157.5,1237.2 1158.5,1237.2 1159.5,1237.1 1160.5,1237.1 1161.5,1237.0 1162.5,1236.9 1163.5,1236.8 1164.5,1236.7 1165.5,1236.6 1166.5,1236.4 1167.5,1236.2 1168.5,1236.0 1169.5,1235.8 1170.5,1235.5 1171.5,1235.2 1172.5,1234.8 1173.5,1234.3 1174.5,1233.8 1175.5,1233.3 1176.5,1232.6 1177.5,1231.9 1178.5,1231.0 1179.5,1230.1 1180.5,1229.0 1181.5,1227.8 1182.5,1226.5 1183.5,1225.0 1184.5,1223.4 1185.5,1221.6 1186.5,1219.7 1187.5,1217.5 1188.5,1215.2 1189.5,1212.7 1190.5,1210.0 1191.5,1207.1 1192.5,1203.9 1193.5,1200.6 1194.5,1197.1 1195.5,1193.4 1196.5,1189.4 1197.5,1185.3 1198.5,1181.1 1199.5,1176.7 1200.5,1172.1 1201.5,1167.5 1202.5,1162.7 1203.5,1157.9 1204.5,1153.0 1205.5,1148.2 1206.5,1143.4 1207.5,1138.6 1208.5,1133.9 1209.5,1129.4 1210.5,1125.0 1211.5,1120.8 1212.5,1116.9 1213.5,1113.2 1214.5,1109.8 1215.5,1106.8 1216.5,1104.1 1217.5,1101.8 1218.5,1100.0 1219.5,1098.5 1220.5,1097.5 1221.5,1097.0 1222.5,1096.9 1223.5,1097.1 1224.5,1097.8 1225.5,1098.7 1226.5,1100.1 1227.5,1101.7 1228.5,1103.7 1229.5,1106.0 1230.5,1108.5 1231.5,1111.4 1232.5,1114.5 1233.5,1117.8 1234.5,1121.3 1235.5,1125.0 1236.5,1128.9 1237.5,1132.8 1238.5,1136.9 1239.5,1141.1 1240.5,1145.4 1241.5,1149.6 1242.5,1153.9 1243.5,1158.2 1244.5,1162.4 1245.5,1166.6 1246.5,1170.7 1247.5,1174.7 1248.5,1178.7 1249.5,1182.5 1250.5,1186.2 1251.5,1189.8 1252.5,1193.2 1253.5,1196.4 1254.5,1199.6 1255.5,1202.5 1256.5,1205.3 1257.5,1208.0 1258.5,1210.5 1259.5,1212.8 1260.5,1215.0 1261.5,1217.0 1262.5,1218.9 1263.5,1220.6 1264.5,1222.2 1265.5,1223.7 1266.5,1225.0 1267.5,1226.2 1268.5,1227.4 1269.5,1228.4 1270.5,1229.3 1271.5,1230.1 1272.5,1230.9 1273.5,1231.5 1274.5,1232.1 1275.5,1232.7 1276.5,1233.1 1277.5,1233.5 1278.5,1233.9 1279.5,1234.2 1280.5,1234.5 1281.5,1234.8 1282.5,1235.0 1283.5,1235.2 1284.5,1235.3 1285.5,1235.5 1286.5,1235.6 1287.5,1235.7 1288.5,1235.8 1289.5,1235.8 1290.5,1235.9 1291.5,1236.0 1292.5,1236.0 1293.5,1236.0 1294.5,1236.1 1295.5,1236.1 1296.5,1236.1 1297.5,1236.1 1298.5,1236.1 1299.5,1236.1 1300.5,1236.1" fill="none" stroke="#ff8a00" stroke-width="1.15" stroke-linejoin="round" />

<polyline points="849.5,1238.8 850.8,1243.4 852.1,1240.6 853.4,1244.5 854.7,1246.5 856.0,1249.0 857.3,1242.7 858.6,1235.5 859.9,1227.6 861.2,1220.5 862.5,1226.5 863.8,1225.0 865.1,1222.2 866.4,1225.0 867.7,1228.1 869.0,1232.1 870.3,1236.2 871.6,1234.1 872.9,1228.5 874.2,1224.6 875.5,1224.7 876.8,1212.8 878.1,1219.3 879.4,1221.5 880.7,1216.3 882.0,1207.2 883.3,1209.6 884.6,1216.0 885.9,1225.4 887.2,1225.5 888.5,1215.9 889.8,1211.9 891.1,1220.7 892.4,1228.8 893.7,1232.1 895.0,1231.0 896.3,1225.2 897.6,1220.4 898.9,1215.9 900.2,1211.3 901.5,1205.4 902.8,1202.7 904.1,1200.5 905.4,1207.4 906.7,1218.1 908.0,1224.2 909.3,1226.0 910.6,1222.6 911.9,1220.6 913.2,1225.7 914.5,1228.9 915.8,1227.6 917.1,1223.9 918.4,1220.5 919.7,1223.9 921.0,1224.0 922.3,1226.2 923.6,1226.0 924.9,1217.5 926.2,1219.1 927.5,1224.0 928.8,1221.3 930.1,1213.8 931.4,1219.8 932.7,1221.9 934.0,1218.0 935.3,1214.0 936.6,1212.2 937.9,1218.7 939.2,1210.9 940.5,1213.1 941.8,1214.7 943.1,1219.8 944.4,1224.2 945.7,1234.9 947.0,1239.0 948.3,1238.3 949.6,1233.1 950.9,1226.5 952.2,1220.9 953.5,1217.6 954.8,1217.3 956.1,1214.5 957.4,1221.4 958.7,1229.8 960.0,1227.6 961.3,1226.6 962.6,1222.5 963.9,1221.6 965.2,1216.9 966.5,1212.5 967.8,1207.1 969.1,1188.9 970.4,1163.0 971.7,1163.7 973.0,1173.2 974.3,1174.3 975.6,1173.8 976.9,1164.9 978.2,1155.0 979.5,1147.6 980.8,1135.3 982.1,1120.3 983.4,1109.6 984.7,1119.0 986.0,1129.3 987.3,1131.8 988.6,1118.7 989.9,1106.7 991.2,1098.8 992.5,1091.8 993.8,1082.1 995.1,1077.4 996.4,1075.1 997.7,1076.9 999.0,1076.1 1000.3,1063.9 1001.6,1057.1 1002.9,1055.8 1004.2,1051.3 1005.5,1049.6 1006.8,1053.4 1008.1,1054.1 1009.4,1057.9 1010.7,1059.7 1012.0,1057.4 1013.3,1049.8 1014.6,1040.8 1015.9,1032.0 1017.2,1017.7 1018.5,1016.5 1019.8,1008.3 1021.1,992.5 1022.4,987.0 1023.7,986.1 1025.0,979.1 1026.3,985.2 1027.6,981.1 1028.9,976.5 1030.2,966.8 1031.5,960.9 1032.8,964.8 1034.1,961.3 1035.4,957.2 1036.7,953.4 1038.0,960.5 1039.3,972.0 1040.6,976.1 1041.9,969.3 1043.2,945.6 1044.5,952.3 1045.8,964.4 1047.1,986.7 1048.4,998.2 1049.7,1003.8 1051.0,1006.9 1052.3,1016.4 1053.6,1027.6 1054.9,1042.2 1056.2,1039.1 1057.5,1035.5 1058.8,1036.7 1060.1,1035.7 1061.4,1046.0 1062.7,1058.2 1064.0,1067.1 1065.3,1079.8 1066.6,1078.0 1067.9,1075.1 1069.2,1093.8 1070.5,1102.8 1071.8,1097.7 1073.1,1096.4 1074.4,1109.8 1075.7,1118.8 1077.0,1127.2 1078.3,1144.5 1079.6,1156.1 1080.9,1161.3 1082.2,1168.2 1083.5,1171.2 1084.8,1175.1 1086.1,1175.3 1087.4,1181.0 1088.7,1195.6 1090.0,1201.4 1091.3,1197.2 1092.6,1181.6 1093.9,1162.2 1095.2,1164.0 1096.5,1170.8 1097.8,1179.7 1099.1,1204.5 1100.4,1220.5 1101.7,1222.6 1103.0,1225.1 1104.3,1227.3 1105.6,1227.1 1106.9,1220.3 1108.2,1225.6 1109.5,1236.1 1110.8,1233.7 1112.1,1235.5 1113.4,1238.6 1114.7,1244.8 1116.0,1246.5 1117.3,1248.8 1118.6,1250.3 1119.9,1239.3 1121.2,1231.3 1122.5,1238.1 1123.8,1242.3 1125.1,1242.5 1126.4,1237.1 1127.7,1237.3 1129.0,1241.8 1130.3,1239.8 1131.6,1233.0 1132.9,1235.2 1134.2,1239.9 1135.5,1240.7 1136.8,1232.2 1138.1,1217.6 1139.4,1221.2 1140.7,1260.9 1142.0,1232.9 1143.3,1210.8 1144.6,1193.3 1145.9,1197.4 1147.2,1221.5 1148.5,1235.1 1149.8,1235.5 1151.1,1224.9 1152.4,1221.1 1153.7,1219.2 1155.0,1218.8 1156.3,1218.2 1157.6,1211.4 1158.9,1211.8 1160.2,1203.9 1161.5,1200.1 1162.8,1186.4 1164.1,1176.4 1165.4,1181.6 1166.7,1190.5 1168.0,1198.4 1169.3,1188.2 1170.6,1183.5 1171.9,1177.1 1173.2,1168.1 1174.5,1160.7 1175.8,1165.9 1177.1,1172.2 1178.4,1170.6 1179.7,1168.3 1181.0,1154.7 1182.3,1154.1 1183.6,1156.2 1184.9,1155.7 1186.2,1144.8 1187.5,1132.9 1188.8,1118.2 1190.1,1115.3 1191.4,1119.4 1192.7,1113.1 1194.0,1100.3 1195.3,1092.3 1196.6,1101.5 1197.9,1111.4 1199.2,1119.2 1200.5,1121.9 1201.8,1120.3 1203.1,1115.7 1204.4,1108.5 1205.7,1107.3 1207.0,1100.0 1208.3,1097.6 1209.6,1094.5 1210.9,1104.7 1212.2,1105.2 1213.5,1094.4 1214.8,1081.0 1216.1,1072.0 1217.4,1055.9 1218.7,1051.2 1220.0,1066.1 1221.3,1077.4 1222.6,1082.2 1223.9,1087.3 1225.2,1093.4 1226.5,1100.5 1227.8,1108.0 1229.1,1107.3 1230.4,1110.2 1231.7,1112.9 1233.0,1116.2 1234.3,1114.8 1235.6,1101.1 1236.9,1097.0 1238.2,1124.7 1239.5,1143.4 1240.8,1155.1 1242.1,1152.7 1243.4,1158.9 1244.7,1170.3 1246.0,1182.4 1247.3,1184.3 1248.6,1186.3 1249.9,1187.4 1251.2,1198.5 1252.5,1202.8 1253.8,1199.6 1255.1,1190.5 1256.4,1202.9 1257.7,1213.1 1259.0,1218.3 1260.3,1207.8 1261.6,1210.9 1262.9,1223.6 1264.2,1233.9 1265.5,1234.3 1266.8,1226.4 1268.1,1220.4 1269.4,1217.7 1270.7,1225.3 1272.0,1229.8 1273.3,1235.6 1274.6,1238.6 1275.9,1236.0 1277.2,1229.0 1278.5,1228.4 1279.8,1223.7 1281.1,1228.2 1282.4,1237.0 1283.7,1241.5 1285.0,1244.1 1286.3,1248.7 1287.6,1243.4 1288.9,1228.4 1290.2,1225.6 1291.5,1233.7 1292.8,1229.5 1294.1,1224.7 1295.4,1223.1 1296.7,1214.2 1298.0,1206.9 1299.3,1211.6 1300.6,1217.7 1301.9,1226.0 1303.2,1239.5 1304.5,1240.6 1305.8,1235.1 1307.1,1227.3 1308.4,1221.2 1309.7,1224.0 1311.0,1224.0 1312.3,1222.9 1313.6,1221.8 1314.9,1225.0 1316.2,1231.0 1317.5,1234.5 1318.8,1235.5 1320.1,1238.0 1321.4,1244.1 1322.7,1235.2 1324.0,1205.7 1325.3,1201.5 1326.6,1209.7 1327.9,1237.0 1329.2,1237.9 1330.5,1238.8 1331.8,1240.5 1333.1,1245.5 1334.4,1240.5 1335.7,1239.5 1337.0,1229.8 1338.3,1215.8 1339.6,1211.4 1340.9,1205.0 1342.2,1202.3 1343.5,1216.1 1344.8,1221.4 1346.1,1215.9 1347.4,1198.6 1348.7,1212.8 1350.0,1233.4 1351.3,1240.1 1352.6,1236.3 1353.9,1218.8 1355.2,1209.0 1356.5,1226.9 1357.8,1243.3 1359.1,1247.7 1360.4,1245.8 1361.7,1244.2 1363.0,1240.6 1364.3,1240.8 1365.6,1236.9 1366.9,1226.6 1368.2,1225.0 1369.5,1227.7 1370.8,1231.4 1372.1,1239.9 1373.4,1245.5 1374.7,1242.4 1376.0,1241.1 1377.3,1240.4 1378.6,1239.7 1379.9,1230.7 1381.2,1228.0 1382.5,1228.4 1383.8,1230.3 1385.1,1229.0 1386.4,1227.8 1387.7,1222.5 1389.0,1221.2 1390.3,1230.0 1391.6,1240.0 1392.9,1245.7 1394.2,1243.9 1395.5,1244.0 1396.8,1246.6 1398.1,1247.7 1399.4,1248.7 1400.7,1247.3 1402.0,1242.3 1403.3,1231.4" fill="none" stroke="#111" stroke-width="1.8" stroke-linejoin="round" />

<polyline points="849.5,1240.0 850.5,1240.0 851.5,1240.0 852.5,1240.0 853.5,1240.0 854.5,1240.0 855.5,1239.9 856.5,1239.9 857.5,1239.9 858.5,1239.9 859.5,1239.9 860.5,1239.9 861.5,1239.9 862.5,1239.9 863.5,1239.9 864.5,1239.9 865.5,1239.9 866.5,1239.9 867.5,1239.8 868.5,1239.8 869.5,1239.8 870.5,1239.8 871.5,1239.8 872.5,1239.8 873.5,1239.8 874.5,1239.8 875.5,1239.8 876.5,1239.8 877.5,1239.8 878.5,1239.8 879.5,1239.7 880.5,1239.7 881.5,1239.7 882.5,1239.7 883.5,1239.7 884.5,1239.7 885.5,1239.7 886.5,1239.7 887.5,1239.7 888.5,1239.7 889.5,1239.7 890.5,1239.7 891.5,1239.6 892.5,1239.6 893.5,1239.6 894.5,1239.6 895.5,1239.6 896.5,1239.6 897.5,1239.6 898.5,1239.6 899.5,1239.6 900.5,1239.6 901.5,1239.6 902.5,1239.6 903.5,1239.5 904.5,1239.5 905.5,1239.5 906.5,1239.5 907.5,1239.5 908.5,1239.5 909.5,1239.5 910.5,1239.5 911.5,1239.5 912.5,1239.5 913.5,1239.5 914.5,1239.4 915.5,1239.4 916.5,1239.4 917.5,1239.4 918.5,1239.4 919.5,1239.4 920.5,1239.4 921.5,1239.4 922.5,1239.3 923.5,1239.3 924.5,1239.3 925.5,1239.3 926.5,1239.2 927.5,1239.2 928.5,1239.2 929.5,1239.1 930.5,1239.1 931.5,1239.0 932.5,1238.9 933.5,1238.9 934.5,1238.8 935.5,1238.7 936.5,1238.5 937.5,1238.4 938.5,1238.2 939.5,1238.0 940.5,1237.8 941.5,1237.5 942.5,1237.2 943.5,1236.9 944.5,1236.5 945.5,1236.0 946.5,1235.5 947.5,1234.9 948.5,1234.3 949.5,1233.6 950.5,1232.7 951.5,1231.8 952.5,1230.8 953.5,1229.7 954.5,1228.4 955.5,1227.0 956.5,1225.5 957.5,1223.8 958.5,1222.0 959.5,1220.1 960.5,1217.9 961.5,1215.6 962.5,1213.2 963.5,1210.5 964.5,1207.7 965.5,1204.7 966.5,1201.6 967.5,1198.2 968.5,1194.7 969.5,1191.1 970.5,1187.3 971.5,1183.3 972.5,1179.2 973.5,1175.0 974.5,1170.7 975.5,1166.3 976.5,1161.9 977.5,1157.4 978.5,1152.9 979.5,1148.4 980.5,1143.9 981.5,1139.4 982.5,1135.0 983.5,1130.7 984.5,1126.4 985.5,1122.3 986.5,1118.4 987.5,1114.5 988.5,1110.9 989.5,1107.4 990.5,1104.0 991.5,1100.9 992.5,1097.9 993.5,1095.1 994.5,1092.5 995.5,1090.1 996.5,1087.7 997.5,1085.4 998.5,1083.1 999.5,1080.9 1000.5,1078.7 1001.5,1076.5 1002.5,1074.3 1003.5,1072.0 1004.5,1069.7 1005.5,1067.3 1006.5,1064.8 1007.5,1062.2 1008.5,1059.5 1009.5,1056.6 1010.5,1053.6 1011.5,1050.5 1012.5,1047.2 1013.5,1043.8 1014.5,1040.2 1015.5,1036.5 1016.5,1032.7 1017.5,1028.8 1018.5,1024.8 1019.5,1020.8 1020.5,1016.7 1021.5,1012.6 1022.5,1008.6 1023.5,1004.6 1024.5,1000.8 1025.5,997.1 1026.5,993.6 1027.5,990.3 1028.5,987.3 1029.5,984.6 1030.5,982.2 1031.5,980.2 1032.5,978.6 1033.5,977.5 1034.5,976.8 1035.5,976.7 1036.5,977.0 1037.5,977.9 1038.5,979.2 1039.5,981.0 1040.5,983.0 1041.5,985.4 1042.5,988.2 1043.5,991.2 1044.5,994.6 1045.5,998.4 1046.5,1002.4 1047.5,1006.7 1048.5,1011.4 1049.5,1016.2 1050.5,1021.4 1051.5,1026.7 1052.5,1032.3 1053.5,1038.1 1054.5,1044.0 1055.5,1050.1 1056.5,1056.3 1057.5,1062.6 1058.5,1069.0 1059.5,1075.4 1060.5,1081.9 1061.5,1088.3 1062.5,1094.8 1063.5,1101.2 1064.5,1107.5 1065.5,1113.8 1066.5,1120.0 1067.5,1126.1 1068.5,1132.1 1069.5,1137.9 1070.5,1143.5 1071.5,1149.0 1072.5,1154.4 1073.5,1159.5 1074.5,1164.5 1075.5,1169.3 1076.5,1173.9 1077.5,1178.3 1078.5,1182.4 1079.5,1186.4 1080.5,1190.2 1081.5,1193.8 1082.5,1197.2 1083.5,1200.4 1084.5,1203.4 1085.5,1206.2 1086.5,1208.8 1087.5,1211.3 1088.5,1213.6 1089.5,1215.8 1090.5,1217.8 1091.5,1219.6 1092.5,1221.3 1093.5,1222.9 1094.5,1224.3 1095.5,1225.7 1096.5,1226.9 1097.5,1228.0 1098.5,1229.0 1099.5,1229.9 1100.5,1230.8 1101.5,1231.5 1102.5,1232.2 1103.5,1232.8 1104.5,1233.4 1105.5,1233.9 1106.5,1234.3 1107.5,1234.7 1108.5,1235.1 1109.5,1235.4 1110.5,1235.7 1111.5,1235.9 1112.5,1236.1 1113.5,1236.3 1114.5,1236.5 1115.5,1236.6 1116.5,1236.7 1117.5,1236.8 1118.5,1236.9 1119.5,1236.9 1120.5,1237.0 1121.5,1237.0 1122.5,1237.0 1123.5,1237.0 1124.5,1237.0 1125.5,1236.9 1126.5,1236.8 1127.5,1236.7 1128.5,1236.6 1129.5,1236.5 1130.5,1236.3 1131.5,1236.2 1132.5,1236.0 1133.5,1235.7 1134.5,1235.4 1135.5,1235.1 1136.5,1234.7 1137.5,1234.3 1138.5,1233.9 1139.5,1233.4 1140.5,1232.8 1141.5,1232.2 1142.5,1231.5 1143.5,1230.8 1144.5,1229.9 1145.5,1229.0 1146.5,1228.1 1147.5,1227.0 1148.5,1225.9 1149.5,1224.6 1150.5,1223.3 1151.5,1221.9 1152.5,1220.4 1153.5,1218.8 1154.5,1217.1 1155.5,1215.4 1156.5,1213.5 1157.5,1211.6 1158.5,1209.6 1159.5,1207.5 1160.5,1205.3 1161.5,1203.1 1162.5,1200.8 1163.5,1198.5 1164.5,1196.2 1165.5,1193.8 1166.5,1191.4 1167.5,1189.0 1168.5,1186.6 1169.5,1184.2 1170.5,1181.9 1171.5,1179.6 1172.5,1177.3 1173.5,1175.1 1174.5,1172.9 1175.5,1170.8 1176.5,1168.7 1177.5,1166.8 1178.5,1164.9 1179.5,1163.0 1180.5,1161.3 1181.5,1159.6 1182.5,1157.9 1183.5,1156.3 1184.5,1154.8 1185.5,1153.5 1186.5,1152.2 1187.5,1151.1 1188.5,1150.1 1189.5,1149.1 1190.5,1148.2 1191.5,1147.2 1192.5,1146.3 1193.5,1145.3 1194.5,1144.3 1195.5,1143.2 1196.5,1142.0 1197.5,1140.6 1198.5,1139.1 1199.5,1137.5 1200.5,1135.7 1201.5,1133.8 1202.5,1131.7 1203.5,1129.4 1204.5,1127.0 1205.5,1124.5 1206.5,1121.9 1207.5,1119.3 1208.5,1116.6 1209.5,1113.9 1210.5,1111.2 1211.5,1108.6 1212.5,1106.1 1213.5,1103.8 1214.5,1101.6 1215.5,1099.6 1216.5,1097.9 1217.5,1096.5 1218.5,1095.4 1219.5,1094.6 1220.5,1094.2 1221.5,1094.1 1222.5,1094.5 1223.5,1095.1 1224.5,1096.1 1225.5,1097.4 1226.5,1098.9 1227.5,1100.8 1228.5,1102.9 1229.5,1105.3 1230.5,1108.0 1231.5,1111.0 1232.5,1114.1 1233.5,1117.5 1234.5,1121.1 1235.5,1124.8 1236.5,1128.7 1237.5,1132.7 1238.5,1136.9 1239.5,1141.1 1240.5,1145.3 1241.5,1149.6 1242.5,1153.9 1243.5,1158.1 1244.5,1162.4 1245.5,1166.6 1246.5,1170.7 1247.5,1174.7 1248.5,1178.7 1249.5,1182.5 1250.5,1186.2 1251.5,1189.8 1252.5,1193.2 1253.5,1196.4 1254.5,1199.6 1255.5,1202.5 1256.5,1205.3 1257.5,1208.0 1258.5,1210.5 1259.5,1212.8 1260.5,1215.0 1261.5,1217.0 1262.5,1218.9 1263.5,1220.6 1264.5,1222.2 1265.5,1223.7 1266.5,1225.0 1267.5,1226.2 1268.5,1227.4 1269.5,1228.4 1270.5,1229.3 1271.5,1230.1 1272.5,1230.9 1273.5,1231.5 1274.5,1232.1 1275.5,1232.7 1276.5,1233.1 1277.5,1233.5 1278.5,1233.9 1279.5,1234.2 1280.5,1234.5 1281.5,1234.8 1282.5,1235.0 1283.5,1235.2 1284.5,1235.3 1285.5,1235.5 1286.5,1235.6 1287.5,1235.7 1288.5,1235.8 1289.5,1235.8 1290.5,1235.9 1291.5,1236.0 1292.5,1236.0 1293.5,1236.0 1294.5,1236.1 1295.5,1236.1 1296.5,1236.1 1297.5,1236.1 1298.5,1236.1 1299.5,1236.1 1300.5,1236.1 1301.5,1236.1 1302.5,1236.1 1303.5,1236.1 1304.5,1236.1 1305.5,1236.1 1306.5,1236.1 1307.5,1236.1 1308.5,1236.1 1309.5,1236.1 1310.5,1236.1 1311.5,1236.1 1312.5,1236.1 1313.5,1236.1 1314.5,1236.1 1315.5,1236.1 1316.5,1236.0 1317.5,1236.0 1318.5,1236.0 1319.5,1236.0 1320.5,1236.0 1321.5,1236.0 1322.5,1236.0 1323.5,1236.0 1324.5,1236.0 1325.5,1236.0 1326.5,1236.0 1327.5,1236.0 1328.5,1235.9 1329.5,1235.9 1330.5,1235.9 1331.5,1235.9 1332.5,1235.9 1333.5,1235.9 1334.5,1235.9 1335.5,1235.9 1336.5,1235.9 1337.5,1235.9 1338.5,1235.9 1339.5,1235.9 1340.5,1235.8 1341.5,1235.8 1342.5,1235.8 1343.5,1235.8 1344.5,1235.8 1345.5,1235.8 1346.5,1235.8 1347.5,1235.8 1348.5,1235.8 1349.5,1235.8 1350.5,1235.8 1351.5,1235.7 1352.5,1235.7 1353.5,1235.7 1354.5,1235.7 1355.5,1235.7 1356.5,1235.7 1357.5,1235.7 1358.5,1235.7 1359.5,1235.7 1360.5,1235.7 1361.5,1235.7 1362.5,1235.7 1363.5,1235.6 1364.5,1235.6 1365.5,1235.6 1366.5,1235.6 1367.5,1235.6 1368.5,1235.6 1369.5,1235.6 1370.5,1235.6 1371.5,1235.6 1372.5,1235.6 1373.5,1235.6 1374.5,1235.6 1375.5,1235.5 1376.5,1235.5 1377.5,1235.5 1378.5,1235.5 1379.5,1235.5 1380.5,1235.5 1381.5,1235.5 1382.5,1235.5 1383.5,1235.5 1384.5,1235.5 1385.5,1235.5 1386.5,1235.5 1387.5,1235.4 1388.5,1235.4 1389.5,1235.4 1390.5,1235.4 1391.5,1235.4 1392.5,1235.4 1393.5,1235.4 1394.5,1235.4 1395.5,1235.4 1396.5,1235.4 1397.5,1235.4 1398.5,1235.4 1399.5,1235.3 1400.5,1235.3 1401.5,1235.3 1402.5,1235.3 1403.5,1235.3" fill="none" stroke="#ff8a00" stroke-width="3.6" stroke-linejoin="round" />

<path d="M848.6,912 V96.4 H1404.1 V1329.8 H850.0 V905" fill="none" stroke="#4d4d4d" stroke-width="2.1" stroke-linejoin="round"/>
<path d="M849.4,904.7 V916.3" stroke="#111" stroke-width="2.6"/>
<path d="M918.7,1329.5 V1338" stroke="#4d4d4d" stroke-width="2"/><text transform="translate(887.58,1370.10)" font-size="36.00" fill="#000">138</text><path d="M1022.5,1329.5 V1338" stroke="#4d4d4d" stroke-width="2"/><text transform="translate(991.35,1370.10)" font-size="36.00" fill="#000">135</text><path d="M1126.2,1329.5 V1338" stroke="#4d4d4d" stroke-width="2"/><text transform="translate(1095.20,1370.10)" font-size="36.00" fill="#000">132</text><path d="M1230.0,1329.5 V1338" stroke="#4d4d4d" stroke-width="2"/><text transform="translate(1198.95,1370.10)" font-size="36.00" fill="#000">129</text><path d="M1334.5,1329.5 V1338" stroke="#4d4d4d" stroke-width="2"/><text transform="translate(1303.39,1370.10)" font-size="36.00" fill="#000">126</text><path d="M866.7,1329.5 V1333.8" stroke="#4d4d4d" stroke-width="2"/><path d="M971.6,1329.5 V1333.8" stroke="#4d4d4d" stroke-width="2"/><path d="M1074.6,1329.5 V1333.8" stroke="#4d4d4d" stroke-width="2"/><path d="M1179.0,1329.5 V1333.8" stroke="#4d4d4d" stroke-width="2"/><path d="M1282.9,1329.5 V1333.8" stroke="#4d4d4d" stroke-width="2"/><path d="M1385.8,1329.5 V1333.8" stroke="#4d4d4d" stroke-width="2"/>
<path d="M405.8,341.5 V452" stroke="#222" stroke-width="1.3"/><path d="M466.5,292.3 L461,1265" stroke="#222" stroke-width="1.3"/><path d="M519.9,104.4 V1287.2" stroke="#222" stroke-width="1.3"/><path d="M515.7,104.7 L540.4,103.9" stroke="#222" stroke-width="1.3"/><path d="M540.4,95.5 L557.7,103.7 L540.4,112.8 Z" fill="#000"/><path d="M1083.7,126.9 L1093,481.4" stroke="#222" stroke-width="1.3"/><path d="M1083.7,130.2 L1047.3,131.5" stroke="#222" stroke-width="1.3"/><path d="M1047.3,122.4 L1029.4,131.6 L1047.3,139.7 Z" fill="#000"/><path d="M1182.9,315 L1176,1240" stroke="#222" stroke-width="1.3"/><path d="M1229.3,338.2 L1223,1263" stroke="#222" stroke-width="1.3"/><path d="M989.3,596 L992,1283" stroke="#222" stroke-width="1.3"/><path d="M1032.6,495.7 L1037.4,1279" stroke="#222" stroke-width="1.3"/>
<text transform="translate(42.80,74.00) scale(0.892,1)" font-size="60.00" fill="#000">A</text><text transform="translate(805.68,69.80) scale(0.873,1)" font-size="59.00" fill="#000">B</text><text transform="translate(427.26,289.40) scale(0.930,1)" font-size="39.83" fill="#000">N</text><text transform="translate(455.92,289.40) scale(1.120,1)" font-size="39.83" fill="#000">i</text><text transform="translate(467.11,275.70) scale(0.974,1)" font-size="26.36" fill="#000">2</text><text transform="translate(481.99,276.17)" font-size="24.69" fill="#000">+</text><text transform="translate(353.13,346.70) scale(0.930,1)" font-size="40.26" fill="#000">N</text><text transform="translate(381.68,346.70) scale(1.120,1)" font-size="40.26" fill="#000">i</text><text transform="translate(392.90,333.00) scale(0.962,1)" font-size="26.93" fill="#000">2</text><text transform="translate(407.51,333.62)" font-size="26.34" fill="#000">+</text><text transform="translate(568.34,128.50) scale(0.930,1)" font-size="38.81" fill="#000">N</text><text transform="translate(596.79,128.50) scale(1.120,1)" font-size="38.81" fill="#000">i</text><text transform="translate(608.20,114.90) scale(0.855,1)" font-size="28.07" fill="#000" font-family="Liberation Serif">δ</text><text transform="translate(622.53,115.58)" font-size="25.93" fill="#000">+</text><text transform="translate(963.16,145.30) scale(0.950,1)" font-size="38.95" fill="#000">P-O</text><text transform="translate(1164.70,294.10) scale(0.800,1)" font-size="39.68" fill="#000">P</text><text transform="translate(1186.09,280.00) scale(1.166,1)" font-size="27.50" fill="#000" font-family="Liberation Serif">δ</text><text transform="translate(1203.38,279.66)" font-size="26.46" fill="#000" font-family="Liberation Serif">–</text><text transform="translate(1207.90,326.40) scale(0.800,1)" font-size="39.68" fill="#000">P</text><text transform="translate(1229.26,312.70) scale(1.203,1)" font-size="27.50" fill="#000" font-family="Liberation Serif">δ</text><text transform="translate(1246.58,311.76)" font-size="26.46" fill="#000" font-family="Liberation Serif">–</text><text transform="translate(1045.55,939.30) scale(0.962,1)" font-size="37.35" fill="#000">P-O</text><text transform="translate(871.83,951.10) scale(1.017,1)" font-size="37.35" fill="#000">AlPO4</text><text transform="translate(131.13,343.00)" font-size="27.62" fill="#ff0000">N</text><text transform="translate(150.55,343.00)" font-size="27.62" fill="#ff0000">i</text><text transform="translate(157.16,354.80)" font-size="16.67" fill="#ff0000">2</text><text transform="translate(166.93,343.00)" font-size="27.62" fill="#ff0000">P</text><text transform="translate(185.50,343.00)" font-size="27.62" fill="#ff0000">/</text><text transform="translate(193.00,343.00)" font-size="27.62" fill="#ff0000">C</text><text transform="translate(212.83,343.00)" font-size="27.62" fill="#ff0000">e</text><text transform="translate(228.89,343.00)" font-size="27.62" fill="#ff0000">O</text><text transform="translate(248.96,354.80)" font-size="16.67" fill="#ff0000">2</text><text transform="translate(121.57,564.90)" font-size="27.18" fill="#009191">N</text><text transform="translate(142.78,564.90)" font-size="27.18" fill="#009191">i</text><text transform="translate(148.88,576.20)" font-size="16.24" fill="#009191">2</text><text transform="translate(156.97,564.90)" font-size="27.18" fill="#009191">P</text><text transform="translate(176.90,564.90)" font-size="27.18" fill="#009191">/</text><text transform="translate(184.97,564.90)" font-size="27.18" fill="#009191">S</text><text transform="translate(202.78,564.90)" font-size="27.18" fill="#009191">i</text><text transform="translate(209.51,564.90)" font-size="27.18" fill="#009191">O</text><text transform="translate(229.98,576.20)" font-size="16.24" fill="#009191">2</text><text transform="translate(239.59,564.90)" font-size="27.18" fill="#009191">-</text><text transform="translate(247.65,564.90)" font-size="27.18" fill="#009191">A</text><text transform="translate(263.57,564.90)" font-size="27.18" fill="#009191">l</text><text transform="translate(272.98,576.20)" font-size="16.24" fill="#009191">2</text><text transform="translate(281.01,564.90)" font-size="27.18" fill="#009191">O</text><text transform="translate(303.98,576.20)" font-size="16.24" fill="#009191">3</text><text transform="translate(139.09,980.30)" font-size="28.20" fill="#ff8a00">N</text><text transform="translate(159.11,980.30)" font-size="28.20" fill="#ff8a00">i</text><text transform="translate(165.58,991.60)" font-size="16.24" fill="#ff8a00">2</text><text transform="translate(174.69,980.30)" font-size="28.20" fill="#ff8a00">P</text><text transform="translate(193.00,980.30)" font-size="28.20" fill="#ff8a00">/</text><text transform="translate(201.94,980.30)" font-size="28.20" fill="#ff8a00">A</text><text transform="translate(218.00,980.30)" font-size="28.20" fill="#ff8a00">l</text><text transform="translate(224.98,991.60)" font-size="16.24" fill="#ff8a00">2</text><text transform="translate(234.56,980.30)" font-size="28.20" fill="#ff8a00">O</text><text transform="translate(256.08,991.60)" font-size="16.24" fill="#ff8a00">3</text><text transform="translate(1249.39,174.10)" font-size="28.20" fill="#ff0000">N</text><text transform="translate(1270.01,174.10)" font-size="28.20" fill="#ff0000">i</text><text transform="translate(1276.08,184.10)" font-size="16.24" fill="#ff0000">2</text><text transform="translate(1284.09,174.10)" font-size="28.20" fill="#ff0000">P</text><text transform="translate(1304.30,174.10)" font-size="28.20" fill="#ff0000">/</text><text transform="translate(1311.87,174.10)" font-size="28.20" fill="#ff0000">C</text><text transform="translate(1332.20,174.10)" font-size="28.20" fill="#ff0000">e</text><text transform="translate(1347.76,174.10)" font-size="28.20" fill="#ff0000">O</text><text transform="translate(1369.48,184.10)" font-size="16.24" fill="#ff0000">2</text><text transform="translate(1162.39,543.10)" font-size="26.89" fill="#009191">N</text><text transform="translate(1182.00,543.10)" font-size="26.89" fill="#009191">i</text><text transform="translate(1188.38,555.40)" font-size="16.24" fill="#009191">2</text><text transform="translate(1198.59,543.10)" font-size="26.89" fill="#009191">P</text><text transform="translate(1216.90,543.10)" font-size="26.89" fill="#009191">/</text><text transform="translate(1225.68,543.10)" font-size="26.89" fill="#009191">S</text><text transform="translate(1240.50,543.10)" font-size="26.89" fill="#009191">i</text><text transform="translate(1247.23,543.10)" font-size="26.89" fill="#009191">O</text><text transform="translate(1270.68,555.40)" font-size="16.24" fill="#009191">2</text><text transform="translate(1281.11,543.10)" font-size="26.89" fill="#009191">-</text><text transform="translate(1289.95,543.10)" font-size="26.89" fill="#009191">A</text><text transform="translate(1305.89,543.10)" font-size="26.89" fill="#009191">l</text><text transform="translate(1315.38,555.40)" font-size="16.24" fill="#009191">2</text><text transform="translate(1325.63,543.10)" font-size="26.89" fill="#009191">O</text><text transform="translate(1347.08,555.40)" font-size="16.24" fill="#009191">3</text><text transform="translate(1255.79,980.40)" font-size="28.20" fill="#ff8a00">N</text><text transform="translate(1275.61,980.40)" font-size="28.20" fill="#ff8a00">i</text><text transform="translate(1280.88,990.40)" font-size="16.24" fill="#ff8a00">2</text><text transform="translate(1290.99,980.40)" font-size="28.20" fill="#ff8a00">P</text><text transform="translate(1309.50,980.40)" font-size="28.20" fill="#ff8a00">/</text><text transform="translate(1317.34,980.40)" font-size="28.20" fill="#ff8a00">A</text><text transform="translate(1333.80,980.40)" font-size="28.20" fill="#ff8a00">l</text><text transform="translate(1341.78,990.40)" font-size="16.24" fill="#ff8a00">2</text><text transform="translate(1351.16,980.40)" font-size="28.20" fill="#ff8a00">O</text><text transform="translate(1373.38,990.40)" font-size="16.24" fill="#ff8a00">3</text><text transform="translate(217.17,1430.30) scale(0.996,1)" font-size="35.90" fill="#000">Binding energy (eV)</text><text transform="translate(964.12,1427.30) scale(1.012,1)" font-size="35.90" fill="#000">Binding Energy (eV)</text><text transform="translate(47.6,823.33) rotate(-90) scale(0.988,1)" font-size="36.5">Intensity (a.u.)</text><text transform="translate(817.6,817.94) rotate(-90) scale(0.992,1)" font-size="36.5">Intensity (a.u.)</text>
</svg>
</body></html>
